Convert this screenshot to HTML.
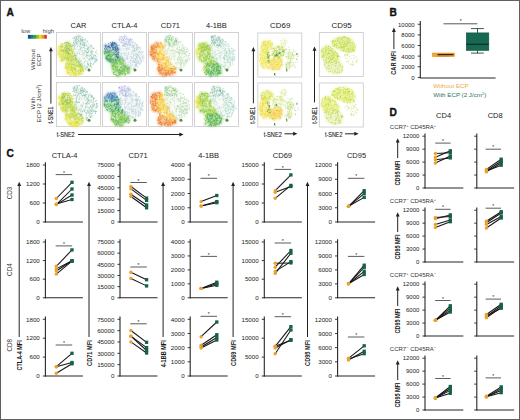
<!DOCTYPE html><html><head><meta charset="utf-8"><title>Figure</title><style>html,body{margin:0;padding:0;background:#fff;width:520px;height:420px;overflow:hidden}svg text{font-family:"Liberation Sans",sans-serif}</style></head><body><svg width="520" height="420" viewBox="0 0 520 420" style="display:block;font-family:'Liberation Sans',sans-serif"><rect x="0" y="0" width="520" height="420" fill="#fff"/>
<text x="6.60" y="15.50" font-size="10.2" text-anchor="start" font-weight="bold" fill="#111" stroke="#111" stroke-width="0.35">A</text>
<text x="389.40" y="15.50" font-size="10.2" text-anchor="start" font-weight="bold" fill="#111" stroke="#111" stroke-width="0.35">B</text>
<text x="6.50" y="157.10" font-size="10.2" text-anchor="start" font-weight="bold" fill="#111" stroke="#111" stroke-width="0.35">C</text>
<text x="389.40" y="115.90" font-size="10.2" text-anchor="start" font-weight="bold" fill="#111" stroke="#111" stroke-width="0.35">D</text>
<rect x="27.90" y="34.9" width="3.21" height="3.8" fill="#1b4a84"/>
<rect x="30.61" y="34.9" width="3.21" height="3.8" fill="#18807c"/>
<rect x="33.33" y="34.9" width="3.21" height="3.8" fill="#35a040"/>
<rect x="36.04" y="34.9" width="3.21" height="3.8" fill="#8cc030"/>
<rect x="38.76" y="34.9" width="3.21" height="3.8" fill="#f0d828"/>
<rect x="41.47" y="34.9" width="3.21" height="3.8" fill="#ec9a28"/>
<rect x="44.19" y="34.9" width="2.71" height="3.8" fill="#d0402a"/>
<text x="21.30" y="33.00" font-size="5.9" text-anchor="start" font-weight="normal" fill="#444" >low</text>
<text x="42.80" y="33.00" font-size="5.9" text-anchor="start" font-weight="normal" fill="#444" >high</text>
<text x="34.90" y="59.60" font-size="6.2" text-anchor="middle" font-weight="normal" fill="#333" transform="rotate(-90 34.90 59.60)" >Without</text>
<text x="41.50" y="59.60" font-size="6.2" text-anchor="middle" font-weight="normal" fill="#333" transform="rotate(-90 41.50 59.60)" >ECP</text>
<text x="34.90" y="103.20" font-size="6.2" text-anchor="middle" font-weight="normal" fill="#333" transform="rotate(-90 34.90 103.20)" >With</text>
<text x="41.40" y="103.50" font-size="6.0" text-anchor="middle" font-weight="normal" fill="#333" transform="rotate(-90 41.40 103.50)" >ECP (2 J/cm<tspan dy="-2" font-size="4">2</tspan><tspan dy="2">)</tspan></text>
<text x="78.40" y="28.10" font-size="7.5" text-anchor="middle" font-weight="normal" fill="#222" >CAR</text>
<text x="124.40" y="28.10" font-size="7.5" text-anchor="middle" font-weight="normal" fill="#222" >CTLA-4</text>
<text x="170.40" y="28.10" font-size="7.5" text-anchor="middle" font-weight="normal" fill="#222" >CD71</text>
<text x="216.40" y="28.10" font-size="7.5" text-anchor="middle" font-weight="normal" fill="#222" >4-1BB</text>
<text x="280.20" y="28.10" font-size="7.9" text-anchor="middle" font-weight="normal" fill="#222" >CD69</text>
<text x="341.60" y="28.10" font-size="7.9" text-anchor="middle" font-weight="normal" fill="#222" >CD95</text>
<line x1="50.90" y1="50.50" x2="50.90" y2="103.60" stroke="#222" stroke-width="1.0" />
<path d="M48.95 51.30 L50.90 47.00 L52.85 51.30 Z" fill="#222"/>
<text x="53.05" y="123.60" font-size="7.4" text-anchor="start" font-weight="normal" fill="#1a1a1a" textLength="17.1" lengthAdjust="spacingAndGlyphs" transform="rotate(-90 53.05 123.60)" stroke="#1a1a1a" stroke-width="0.12">t-SNE1</text>
<text x="56.80" y="137.20" font-size="7.4" text-anchor="start" font-weight="normal" fill="#1a1a1a" textLength="17.9" lengthAdjust="spacingAndGlyphs" stroke="#1a1a1a" stroke-width="0.12">t-SNE2</text>
<line x1="78.00" y1="134.50" x2="180.10" y2="134.50" stroke="#222" stroke-width="1.0" />
<path d="M179.30 132.55 L183.60 134.50 L179.30 136.45 Z" fill="#222"/>
<line x1="253.40" y1="50.50" x2="253.40" y2="103.30" stroke="#222" stroke-width="1.0" />
<path d="M251.45 51.30 L253.40 47.00 L255.35 51.30 Z" fill="#222"/>
<text x="255.50" y="123.80" font-size="7.4" text-anchor="start" font-weight="normal" fill="#1a1a1a" textLength="17.1" lengthAdjust="spacingAndGlyphs" transform="rotate(-90 255.50 123.80)" stroke="#1a1a1a" stroke-width="0.12">t-SNE1</text>
<text x="263.70" y="136.50" font-size="7.4" text-anchor="start" font-weight="normal" fill="#1a1a1a" textLength="18.1" lengthAdjust="spacingAndGlyphs" stroke="#1a1a1a" stroke-width="0.12">t-SNE2</text>
<line x1="284.50" y1="133.80" x2="293.90" y2="133.80" stroke="#222" stroke-width="1.0" />
<path d="M293.10 131.85 L297.40 133.80 L293.10 135.75 Z" fill="#222"/>
<line x1="314.50" y1="50.00" x2="314.50" y2="102.40" stroke="#222" stroke-width="1.0" />
<path d="M312.55 50.80 L314.50 46.50 L316.45 50.80 Z" fill="#222"/>
<text x="316.85" y="123.80" font-size="7.4" text-anchor="start" font-weight="normal" fill="#1a1a1a" textLength="17.1" lengthAdjust="spacingAndGlyphs" transform="rotate(-90 316.85 123.80)" stroke="#1a1a1a" stroke-width="0.12">t-SNE1</text>
<text x="325.00" y="136.50" font-size="7.4" text-anchor="start" font-weight="normal" fill="#1a1a1a" textLength="17.4" lengthAdjust="spacingAndGlyphs" stroke="#1a1a1a" stroke-width="0.12">t-SNE2</text>
<line x1="345.00" y1="133.80" x2="355.10" y2="133.80" stroke="#222" stroke-width="1.0" />
<path d="M354.30 131.85 L358.60 133.80 L354.30 135.75 Z" fill="#222"/>
<defs><filter id="bl" x="-20%" y="-20%" width="140%" height="140%"><feGaussianBlur stdDeviation="1.0"/></filter><filter id="bl2" x="-20%" y="-20%" width="140%" height="140%"><feGaussianBlur stdDeviation="0.5"/></filter></defs>
<g transform="translate(56.4,32.5)"><rect x="0" y="0" width="44" height="44" fill="#fff" stroke="#c8c8cc" stroke-width="0.8"/><path d="M17.0 4.5 L21.5 3.0 L27.0 5.0 L33.0 11.0 L40.0 18.0 L41.0 26.0 L37.5 32.5 L31.0 36.5 L26.0 35.0 L22.0 30.0 L18.0 22.0 L16.5 14.0Z" fill="#f2f8f3" opacity="0.6" filter="url(#bl)"/><g filter="url(#bl)" opacity="0.8"><path d="M8.4 21.0h0M13.2 17.8h0M10.3 27.3h0M15.0 21.9h0M15.4 23.1h0M12.0 13.7h0M10.9 25.0h0M15.0 25.9h0M12.5 26.3h0M14.4 23.7h0M10.1 19.6h0M9.2 25.1h0M10.2 12.6h0M12.2 26.8h0M5.5 28.2h0M11.6 21.2h0M16.2 28.2h0M17.8 23.6h0M22.2 29.8h0M20.6 30.2h0M13.4 34.8h0M12.4 37.5h0M18.0 37.2h0M15.8 32.1h0M18.7 36.9h0M22.2 31.1h0M10.2 34.0h0M11.4 31.1h0M15.2 38.7h0M18.5 33.4h0M26.7 38.0h0M19.4 42.2h0" stroke="#b5d23a" stroke-width="3.2" stroke-linecap="round" fill="none" opacity="0.55"/><path d="M4.3 20.0h0M2.8 16.4h0M3.3 18.2h0M4.7 17.6h0M2.8 18.6h0M5.3 28.1h0M11.5 40.0h0M19.0 42.9h0M15.7 40.7h0" stroke="#eee540" stroke-width="3.2" stroke-linecap="round" fill="none" opacity="0.55"/><path d="M12.1 10.5h0M12.7 21.5h0M11.1 19.7h0M10.8 10.2h0M6.7 19.2h0" stroke="#8ebe3c" stroke-width="3.2" stroke-linecap="round" fill="none" opacity="0.55"/><path d="M4.4 14.5h0M2.0 21.9h0M3.5 18.9h0M19.0 37.6h0M24.3 38.9h0M18.6 39.5h0M10.0 36.1h0M23.1 41.0h0M22.2 41.2h0" stroke="#dcdf34" stroke-width="3.2" stroke-linecap="round" fill="none" opacity="0.55"/><path d="M9.4 22.7h0M14.4 24.0h0M5.4 26.4h0M12.8 24.0h0M12.3 21.2h0M12.0 16.2h0M12.1 25.3h0M18.5 27.0h0M20.6 29.4h0M10.4 30.9h0M14.8 33.4h0M24.8 34.0h0M10.8 35.2h0M14.4 34.4h0M22.5 34.3h0M24.2 38.2h0M15.4 36.7h0M24.3 32.3h0M21.1 34.0h0M23.0 40.1h0M14.8 30.5h0M22.9 34.0h0M11.1 37.2h0M14.6 36.6h0M24.5 34.7h0" stroke="#d2dc32" stroke-width="3.2" stroke-linecap="round" fill="none" opacity="0.55"/><path d="M16.5 17.7h0M7.9 25.7h0M10.4 16.1h0M14.2 14.4h0M9.7 25.7h0M13.7 13.1h0M6.3 17.4h0M12.8 26.1h0M5.2 24.4h0M12.3 27.2h0M22.9 30.4h0M16.9 23.7h0M15.5 27.6h0M25.9 35.8h0M18.6 40.3h0M12.3 32.8h0M19.0 37.0h0M23.7 32.6h0M16.4 30.8h0" stroke="#a8cc3c" stroke-width="3.2" stroke-linecap="round" fill="none" opacity="0.55"/><path d="M10.1 18.7h0M13.3 16.3h0M5.7 13.1h0M8.8 16.1h0M11.3 20.4h0M13.6 12.2h0" stroke="#7fb640" stroke-width="3.2" stroke-linecap="round" fill="none" opacity="0.55"/><path d="M5.2 21.9h0M2.6 14.3h0M5.9 24.5h0M4.5 13.0h0M12.9 40.0h0" stroke="#e6e236" stroke-width="3.2" stroke-linecap="round" fill="none" opacity="0.55"/><path d="M15.5 13.8h0M8.9 24.5h0M10.4 22.0h0M10.9 28.4h0M4.5 18.4h0M12.4 13.3h0M16.3 20.3h0M10.9 24.7h0M19.2 28.6h0M19.4 25.6h0M18.7 27.3h0M9.9 34.0h0M24.1 36.4h0M24.5 37.9h0M16.3 39.4h0M18.2 35.2h0M13.2 30.7h0" stroke="#c5d834" stroke-width="3.2" stroke-linecap="round" fill="none" opacity="0.55"/><path d="M10.3 12.3h0M7.2 18.0h0M6.5 19.1h0" stroke="#a2c838" stroke-width="3.2" stroke-linecap="round" fill="none" opacity="0.55"/><path d="M5.6 19.3h0M3.4 20.0h0M15.5 39.7h0M12.1 40.2h0M12.3 33.7h0M11.6 40.4h0M9.0 35.0h0M19.6 39.4h0M19.0 37.5h0M11.1 41.1h0M12.5 36.2h0M25.5 41.0h0" stroke="#f2e852" stroke-width="3.2" stroke-linecap="round" fill="none" opacity="0.55"/></g><g filter="url(#bl2)"><path d="M8.4 21.0h0M5.9 11.0h0M2.6 22.4h0M2.6 14.3h0M2.7 20.7h0M4.6 13.1h0M3.4 20.0h0M4.3 18.9h0M15.5 39.7h0M19.0 40.6h0M10.4 38.5h0M11.5 40.0h0M18.6 39.5h0M14.3 43.1h0M19.7 42.3h0M12.3 32.8h0M12.0 40.2h0M13.7 42.0h0M15.7 40.7h0M9.0 35.0h0M15.0 42.5h0M15.6 36.1h0M24.1 38.0h0M14.2 42.1h0M15.9 37.9h0M18.6 37.0h0M10.6 40.7h0" stroke="#e6e236" stroke-width="1.2" stroke-linecap="round" fill="none" opacity="0.75"/><path d="M15.6 19.1h0M11.1 25.8h0M9.4 22.7h0M9.1 23.1h0M16.5 17.7h0M10.1 18.7h0M14.6 22.7h0M10.3 27.3h0M5.1 24.0h0M13.6 28.3h0M10.4 16.1h0M6.3 26.7h0M10.9 25.0h0M15.8 24.3h0M15.0 25.9h0M6.6 25.7h0M9.4 24.4h0M7.6 25.9h0M6.9 22.2h0M11.3 20.4h0M14.5 22.1h0M14.6 14.3h0M14.2 18.2h0M11.9 28.2h0M9.2 25.1h0M8.6 25.2h0M6.5 19.1h0M10.7 9.9h0M12.1 25.3h0M11.3 22.3h0M10.9 24.7h0M15.4 21.5h0M21.0 27.2h0M17.0 25.8h0M14.7 35.3h0M24.4 37.5h0M18.6 40.3h0M18.0 37.2h0M22.3 39.5h0M23.8 35.6h0M15.8 32.1h0M12.6 35.6h0M10.0 36.1h0M18.7 36.9h0M25.1 36.9h0M26.7 37.8h0M24.8 34.0h0M23.6 35.5h0M10.8 35.2h0M22.5 34.3h0M21.5 39.5h0M24.5 37.9h0M10.5 32.9h0M11.7 31.5h0M16.4 30.8h0M26.0 35.7h0M23.1 41.0h0M15.4 36.7h0M27.3 36.9h0M19.0 37.5h0M24.3 32.3h0M21.3 31.8h0M19.9 30.8h0M18.2 35.2h0" stroke="#d2dc32" stroke-width="1.2" stroke-linecap="round" fill="none" opacity="0.75"/><path d="M9.3 21.6h0M14.4 24.0h0M13.4 15.1h0M6.2 27.7h0M15.0 21.9h0M5.4 26.4h0M10.1 27.0h0M7.0 27.8h0M14.7 21.3h0M12.6 17.5h0M8.2 26.7h0M10.9 28.4h0M15.0 17.4h0M14.2 14.4h0M11.1 28.2h0M15.9 19.1h0M9.7 25.7h0M9.9 25.3h0M14.0 28.0h0M8.8 16.1h0M12.8 26.1h0M13.6 12.2h0M9.2 23.6h0M9.9 20.1h0M12.2 25.1h0M17.0 23.9h0M17.2 30.0h0M22.9 30.4h0M17.6 25.8h0M19.0 25.2h0M14.3 27.8h0M15.5 24.4h0M17.5 23.6h0M16.6 26.5h0M18.9 25.8h0M15.5 27.6h0M25.9 35.4h0M23.3 32.3h0M12.3 33.7h0M25.9 34.5h0M22.1 38.1h0M17.8 36.2h0M24.3 38.8h0M15.8 37.2h0M13.6 32.5h0M22.3 34.3h0M11.4 31.1h0M16.0 34.3h0M21.1 38.1h0M9.1 34.3h0M15.2 38.7h0M10.8 35.0h0M25.7 37.3h0M19.3 33.4h0M19.0 30.8h0M19.4 32.2h0M18.5 33.4h0M17.6 35.4h0M16.4 35.7h0M16.9 42.2h0M14.8 30.5h0M22.9 34.0h0M18.6 33.1h0M13.2 30.7h0M14.9 30.7h0M25.5 41.0h0M19.7 30.4h0M17.6 32.6h0" stroke="#b5d23a" stroke-width="1.2" stroke-linecap="round" fill="none" opacity="0.75"/><path d="M4.3 20.0h0M2.0 19.1h0M3.5 22.7h0M4.8 14.9h0M2.9 21.5h0M6.9 23.6h0M2.8 24.9h0M4.5 18.4h0M4.7 27.0h0M3.4 18.4h0M9.6 12.9h0M6.3 28.4h0M5.2 24.4h0M5.5 28.2h0M6.7 19.2h0M9.2 36.9h0M10.4 30.9h0M22.6 42.1h0M24.8 40.8h0M19.0 42.9h0M9.0 36.3h0M11.6 40.4h0M24.6 41.1h0M10.2 34.0h0M15.5 39.2h0M11.1 41.1h0M21.4 39.9h0M21.2 41.7h0" stroke="#f2e852" stroke-width="1.2" stroke-linecap="round" fill="none" opacity="0.75"/><path d="M2.9 15.8h0M8.2 26.8h0M2.8 16.4h0M3.3 14.6h0M3.3 18.2h0M4.8 15.1h0M7.9 11.7h0M4.2 24.3h0M2.0 21.9h0M8.3 27.8h0M1.7 19.2h0M3.5 18.9h0M6.4 28.2h0M5.6 19.3h0M5.5 11.6h0M4.3 13.8h0M4.5 13.0h0M12.4 37.5h0M9.9 34.0h0M11.7 41.2h0M12.2 35.3h0M11.5 39.6h0M13.3 37.7h0M11.5 35.1h0M11.1 37.2h0" stroke="#eee540" stroke-width="1.2" stroke-linecap="round" fill="none" opacity="0.75"/><path d="M12.1 10.5h0M4.4 14.5h0M14.5 17.5h0M16.2 19.5h0M15.5 13.8h0M12.8 28.0h0M7.9 25.7h0M15.4 23.1h0M6.5 23.2h0M13.8 28.3h0M14.3 26.9h0M16.5 18.8h0M11.1 18.7h0M12.0 13.7h0M12.2 20.2h0M16.0 19.6h0M11.3 20.3h0M14.4 28.0h0M16.3 20.3h0M9.7 18.0h0M7.2 18.0h0M7.7 23.6h0M12.2 26.8h0M12.8 17.9h0M15.2 26.0h0M10.7 19.9h0M12.9 25.5h0M16.3 21.2h0M19.2 28.6h0M18.5 27.0h0M15.0 28.5h0M17.7 27.7h0M20.0 26.6h0M20.6 29.4h0M20.6 30.2h0M15.7 31.4h0M25.9 35.8h0M15.6 34.8h0M16.2 35.1h0M19.0 37.6h0M20.9 33.2h0M12.9 40.3h0M16.7 31.8h0M9.5 31.3h0M14.6 37.3h0M10.3 33.5h0M22.2 31.1h0M24.3 32.7h0M19.0 37.0h0M14.6 34.1h0M22.1 33.1h0M19.3 36.1h0M16.1 38.9h0M24.2 38.2h0M21.1 34.0h0M22.5 38.0h0M14.5 35.2h0M17.6 32.2h0" stroke="#a8cc3c" stroke-width="1.2" stroke-linecap="round" fill="none" opacity="0.75"/><path d="M11.5 22.2h0M13.2 17.8h0M15.4 19.2h0M4.7 17.6h0M4.2 17.1h0M8.9 24.5h0M12.8 24.0h0M10.4 22.0h0M5.7 13.1h0M4.8 18.0h0M11.1 19.7h0M11.1 23.0h0M12.5 26.3h0M11.3 24.2h0M14.6 16.7h0M13.7 13.1h0M14.4 23.7h0M4.9 20.3h0M14.4 21.0h0M9.7 19.9h0M16.3 20.1h0M4.4 22.2h0M9.6 18.5h0M4.6 22.5h0M15.3 16.0h0M12.3 27.2h0M14.0 17.9h0M12.6 11.0h0M5.3 28.1h0M9.9 20.0h0M15.0 25.7h0M15.1 26.0h0M19.7 26.6h0M16.2 28.2h0M18.5 30.4h0M19.4 25.6h0M17.8 23.6h0M16.9 23.7h0M19.1 27.3h0M22.2 29.8h0M16.1 25.3h0M18.7 27.3h0M17.6 24.7h0M20.4 27.9h0M14.1 31.8h0M22.1 37.6h0M23.8 34.0h0M23.7 37.2h0M25.3 33.7h0M26.9 38.7h0M16.2 34.4h0M24.3 38.9h0M19.9 32.9h0M24.1 36.4h0M17.8 32.8h0M23.8 35.1h0M21.1 33.1h0M14.8 33.4h0M13.8 37.1h0M23.7 32.6h0M20.3 33.8h0M26.5 37.5h0M16.5 30.0h0M20.5 32.5h0M10.4 33.2h0M19.6 39.4h0M9.4 32.3h0M19.4 34.3h0M26.7 38.0h0M20.5 39.2h0M24.5 41.5h0M19.4 42.2h0M16.2 34.7h0M14.6 36.6h0M24.5 34.7h0" stroke="#c5d834" stroke-width="1.2" stroke-linecap="round" fill="none" opacity="0.75"/><path d="M9.6 10.8h0M6.3 14.3h0M10.9 15.3h0M12.2 19.7h0M12.4 13.3h0M10.3 13.7h0M10.8 10.2h0M10.1 19.6h0M12.1 10.9h0M11.1 17.9h0M13.2 17.9h0M11.7 16.5h0" stroke="#7fb640" stroke-width="1.2" stroke-linecap="round" fill="none" opacity="0.75"/><path d="M8.5 15.3h0M6.0 11.1h0M5.3 13.5h0M10.3 12.3h0M11.1 17.4h0M12.7 21.5h0M8.9 14.3h0M8.4 15.2h0M12.3 21.2h0M11.5 13.8h0M12.0 16.2h0M9.4 18.4h0M9.3 9.9h0M5.4 17.8h0" stroke="#8ebe3c" stroke-width="1.2" stroke-linecap="round" fill="none" opacity="0.75"/><path d="M13.7 13.2h0M13.3 16.3h0M7.2 18.8h0M10.6 15.6h0M8.3 10.8h0M12.1 21.5h0M8.5 10.1h0M8.8 13.2h0M7.3 21.2h0M9.0 10.2h0M6.3 17.4h0M10.2 12.6h0M11.6 21.2h0M9.7 17.5h0" stroke="#a2c838" stroke-width="1.2" stroke-linecap="round" fill="none" opacity="0.75"/><path d="M4.4 24.5h0M5.2 21.9h0M4.3 12.7h0M2.7 22.6h0M6.1 23.4h0M3.6 19.7h0M6.2 25.7h0M5.7 16.7h0M7.5 25.8h0M4.8 28.0h0M2.8 18.6h0M5.9 24.5h0M4.5 14.2h0M3.1 24.5h0M5.3 13.6h0M7.2 11.6h0M13.4 34.8h0M12.1 40.2h0M26.9 39.0h0M26.7 38.6h0M10.9 38.7h0M13.2 39.6h0M11.7 31.9h0M17.5 39.6h0M17.4 43.0h0M14.4 34.4h0M18.4 38.7h0M16.3 39.4h0M18.3 40.6h0M11.8 40.3h0M22.2 41.2h0M12.5 36.2h0M23.0 40.1h0M22.4 42.1h0M11.1 35.9h0M16.7 40.8h0M12.9 40.0h0M19.4 42.2h0M13.4 33.9h0M14.3 42.4h0" stroke="#dcdf34" stroke-width="1.2" stroke-linecap="round" fill="none" opacity="0.75"/><path d="M11.8 14.3h0M15.4 21.1h0M16.1 18.3h0M3.9 19.7h0M5.0 16.1h0M13.8 16.1h0M12.2 14.4h0M14.5 27.7h0M11.7 17.1h0M12.6 28.4h0M11.8 12.1h0M6.4 21.5h0M5.7 20.2h0M14.0 18.6h0M13.8 14.9h0M2.9 22.9h0M11.9 13.4h0M16.3 22.6h0M3.1 19.5h0M15.2 21.8h0M9.0 10.4h0M3.8 19.2h0M11.9 18.6h0M10.4 20.7h0M7.6 26.4h0M8.0 29.2h0M10.9 10.9h0M6.7 26.9h0M10.1 23.6h0M5.3 24.8h0M4.0 12.5h0M10.4 22.1h0M8.1 21.6h0M9.0 23.4h0M11.0 27.8h0M11.6 19.2h0M10.1 28.4h0M6.3 20.9h0M7.7 23.9h0M6.7 22.6h0M8.8 11.9h0M12.9 25.9h0M11.5 23.6h0M11.6 17.8h0M9.1 26.9h0M19.4 30.6h0M14.8 38.6h0M10.0 31.8h0M9.3 37.2h0M9.7 33.6h0M9.7 37.8h0M16.3 30.4h0M12.4 38.5h0M10.7 34.6h0M14.7 38.9h0M18.2 42.5h0M20.9 39.2h0M17.1 33.9h0M21.3 31.6h0M13.4 39.8h0M13.9 33.9h0M17.7 39.6h0M26.7 38.8h0M17.6 38.6h0M21.4 35.3h0M13.7 33.7h0M16.1 33.3h0M20.2 40.4h0M13.7 39.5h0M20.9 40.1h0M21.3 35.8h0M16.4 35.2h0M13.7 36.6h0M25.3 36.6h0M20.4 31.4h0M11.7 35.7h0M17.5 39.3h0M9.3 33.5h0M14.9 30.5h0M9.3 37.1h0M19.7 33.9h0M17.5 30.6h0M10.8 32.8h0M10.6 39.5h0M18.6 33.7h0M17.6 25.0h0M16.3 29.6h0M21.0 30.2h0M14.3 25.3h0M18.0 25.2h0M19.5 29.1h0M22.8 30.5h0M15.3 23.5h0M19.3 29.7h0M14.3 26.6h0" stroke="#ffffff" stroke-width="0.9" stroke-linecap="round" fill="none" opacity="0.5"/></g><path d="M20.3 9.6h0M20.3 11.4h0M26.7 13.3h0M20.1 6.1h0M27.2 7.3h0M26.1 8.2h0M20.0 10.5h0M26.2 7.3h0M23.2 8.8h0M22.1 7.9h0M26.6 12.8h0M31.7 17.4h0M38.7 23.2h0M36.0 26.4h0M34.5 23.2h0M38.9 29.3h0M30.3 21.9h0M36.4 19.0h0M35.3 21.8h0M31.4 20.1h0M29.8 34.5h0M31.3 35.1h0M26.4 21.9h0M23.4 13.8h0M27.8 26.0h0M17.1 10.7h0M19.6 23.2h0M34.3 32.6h0M24.7 7.8h0M28.0 13.1h0M33.7 23.0h0M26.6 15.3h0M37.2 15.9h0M18.6 11.5h0M28.1 9.8h0M23.6 17.2h0M20.4 20.8h0M20.1 4.6h0M32.4 27.1h0M33.3 26.8h0M34.2 29.5h0M27.6 14.9h0M28.1 29.6h0M39.0 23.1h0M30.3 12.7h0M25.8 12.0h0M30.1 19.5h0M35.0 19.4h0M40.3 27.0h0M35.3 20.1h0M17.6 5.1h0M26.2 7.2h0M31.2 17.2h0M29.5 10.6h0M16.8 13.1h0M23.0 20.9h0M18.1 14.7h0M23.9 32.3h0M22.1 28.4h0M18.4 22.2h0M19.2 24.9h0M24.5 4.0h0M26.3 5.0h0M22.9 3.5h0M18.8 23.1h0M34.8 12.9h0M28.5 7.1h0M40.1 28.2h0M35.0 34.1h0M19.6 26.8h0" stroke="#5e9e8a" stroke-width="0.85" stroke-linecap="round" fill="none" opacity="0.72"/><path d="M22.1 7.7h0M28.2 10.3h0M27.1 11.2h0M22.5 6.0h0M28.1 11.9h0M17.8 6.8h0M23.4 9.3h0M28.0 10.3h0M20.8 7.2h0M19.5 5.7h0M34.6 20.6h0M39.1 27.9h0M34.8 24.3h0M31.2 15.9h0M37.4 23.0h0M33.3 24.6h0M34.7 20.6h0M33.7 28.1h0M35.0 21.1h0M28.7 19.1h0M36.1 19.8h0M30.2 18.8h0M32.4 19.8h0M29.3 18.6h0M38.6 27.1h0M36.0 21.8h0M29.1 16.0h0M25.7 8.0h0M38.5 22.3h0M37.1 25.0h0M19.3 24.5h0M17.2 8.4h0M27.7 19.9h0M36.2 16.2h0M39.1 19.2h0M28.3 7.4h0M28.0 33.2h0M29.9 34.8h0M35.1 14.3h0M34.3 18.5h0M36.1 25.7h0M21.2 7.0h0M24.3 4.2h0M26.8 14.8h0M30.7 33.1h0M35.6 25.4h0M30.5 29.4h0M23.3 29.1h0M31.0 25.3h0M20.5 10.7h0M25.1 11.1h0M35.5 17.6h0M25.6 18.2h0M25.9 8.9h0M19.5 13.1h0M23.5 12.8h0M31.1 30.5h0M18.2 11.2h0M29.9 16.4h0M30.7 20.6h0M36.6 31.7h0M34.5 13.3h0M38.0 29.0h0M23.2 5.7h0M32.3 23.3h0M34.4 31.2h0M37.1 31.4h0M27.8 9.9h0M27.6 25.8h0M31.4 30.1h0M32.9 11.7h0M34.7 13.9h0M32.0 35.8h0M30.6 8.6h0M25.3 33.1h0M20.2 27.5h0M29.4 36.9h0M29.5 36.0h0M16.6 12.2h0M20.4 3.5h0M24.1 33.2h0M29.3 35.9h0M19.7 25.7h0M39.9 29.3h0M40.1 27.0h0M25.5 33.0h0" stroke="#9fd0bb" stroke-width="0.85" stroke-linecap="round" fill="none" opacity="0.72"/><path d="M26.0 11.3h0M24.1 11.3h0M26.0 10.2h0M21.9 12.6h0M25.7 7.3h0M22.2 5.4h0M20.0 11.0h0M24.9 13.2h0M33.5 21.9h0M38.0 30.2h0M32.1 16.0h0M29.4 19.6h0M40.2 24.5h0M38.8 24.0h0M35.2 31.0h0M38.3 27.4h0M37.1 23.6h0M33.1 24.3h0M26.0 18.9h0M35.7 26.4h0M21.4 21.6h0M24.5 12.2h0M40.8 24.4h0M34.2 31.7h0M21.0 27.5h0M33.3 21.4h0M26.9 23.2h0M23.7 15.3h0M31.6 13.7h0M25.4 15.4h0M31.5 28.8h0M31.4 32.4h0M32.2 11.4h0M23.9 15.7h0M26.6 20.3h0M24.1 17.7h0M28.1 7.3h0M17.3 5.7h0M24.1 7.6h0M18.5 9.3h0M27.3 31.1h0M26.8 34.6h0M22.1 5.1h0M23.8 6.8h0M34.3 25.6h0M28.1 15.6h0M33.9 27.5h0M24.7 16.7h0M32.7 13.9h0M36.6 22.0h0M37.0 31.1h0M32.8 26.2h0M34.2 29.9h0M37.8 23.4h0M34.4 23.6h0M25.2 14.4h0M38.8 25.4h0M31.0 31.6h0M31.1 32.0h0M40.2 20.1h0M25.9 5.3h0M24.5 3.5h0M15.8 12.6h0M22.8 3.5h0M18.1 4.5h0M40.8 26.3h0M39.3 30.1h0M23.1 32.3h0M20.8 25.1h0M26.0 35.4h0M29.6 36.9h0M18.1 23.8h0M21.3 2.6h0M21.0 3.4h0M20.7 29.3h0M40.1 28.2h0M29.3 36.6h0M21.5 27.6h0" stroke="#b5dccb" stroke-width="0.85" stroke-linecap="round" fill="none" opacity="0.72"/><path d="M24.6 5.9h0M28.8 12.7h0M21.4 4.0h0M20.6 5.9h0M24.2 11.2h0M22.4 4.7h0M18.1 8.5h0M22.5 4.3h0M19.2 9.7h0M27.1 10.0h0M17.8 5.8h0M24.7 7.5h0M21.2 12.1h0M27.9 12.4h0M21.6 9.4h0M24.4 7.1h0M35.6 25.1h0M39.3 26.6h0M35.4 25.9h0M36.1 25.7h0M31.3 20.3h0M30.4 20.0h0M21.2 14.2h0M30.9 16.1h0M33.8 15.5h0M33.8 33.4h0M18.9 4.2h0M18.1 20.8h0M30.1 22.5h0M37.6 25.7h0M35.5 24.2h0M28.2 11.8h0M19.7 23.3h0M34.2 33.3h0M28.9 7.7h0M32.4 15.5h0M32.4 14.8h0M32.1 32.9h0M32.3 18.8h0M19.1 7.6h0M25.8 8.3h0M22.9 30.2h0M17.8 12.9h0M27.8 20.9h0M27.4 12.2h0M28.1 17.6h0M18.7 10.0h0M22.5 10.6h0M32.1 31.9h0M31.5 15.2h0M18.9 13.2h0M35.4 26.5h0M21.1 29.0h0M25.4 33.4h0M30.8 8.5h0M23.2 32.2h0M17.4 9.7h0M41.2 27.6h0M37.7 15.7h0M41.3 21.5h0M36.7 31.6h0M22.0 2.6h0" stroke="#6aae95" stroke-width="0.85" stroke-linecap="round" fill="none" opacity="0.72"/><path d="M25.1 5.9h0M23.8 10.5h0M25.3 8.9h0M24.4 9.9h0M19.9 6.8h0M24.0 7.8h0M21.7 8.7h0M20.4 10.7h0M24.2 12.1h0M23.9 8.3h0M19.4 7.5h0M26.6 10.2h0M24.2 10.6h0M28.1 11.8h0M20.7 9.0h0M36.8 23.8h0M38.1 25.7h0M31.9 18.7h0M36.7 26.9h0M30.6 23.2h0M31.1 22.9h0M29.4 28.1h0M32.5 31.3h0M28.9 18.2h0M34.2 31.3h0M34.4 31.5h0M39.5 26.6h0M29.2 23.6h0M32.5 17.9h0M17.5 12.5h0M31.4 9.4h0M24.3 16.3h0M30.5 25.6h0M31.2 20.1h0M20.2 8.0h0M35.2 17.9h0M30.0 13.6h0M19.4 6.2h0M25.1 31.4h0M24.2 6.4h0M19.4 7.8h0M34.0 26.1h0M26.6 20.4h0M21.6 7.0h0M24.5 22.0h0M20.1 4.5h0M24.3 15.4h0M31.0 31.1h0M24.2 28.8h0M34.6 13.1h0M34.4 14.4h0M17.7 16.8h0M31.6 23.0h0M31.1 34.5h0M17.5 10.9h0M22.4 29.3h0M23.1 20.6h0M34.4 19.3h0M33.5 33.6h0M27.8 33.1h0M23.2 26.1h0M36.2 14.4h0M30.4 23.9h0M16.3 13.2h0M18.4 22.5h0M28.4 35.3h0M38.6 29.3h0M18.9 4.4h0M34.7 35.2h0M39.4 20.1h0M28.8 6.3h0M16.5 5.8h0M40.3 18.0h0" stroke="#7fbfa5" stroke-width="0.85" stroke-linecap="round" fill="none" opacity="0.72"/><path d="M20.6 20.9h0M19.7 15.8h0M18.8 16.8h0M24.6 31.3h0M21.9 16.9h0M24.5 14.8h0" stroke="#9ccfb6" stroke-width="0.85" stroke-linecap="round" fill="none" opacity="0.72"/><path d="M23.7 28.1h0M26.1 31.6h0M17.6 16.4h0M23.0 28.8h0M21.3 20.9h0M27.7 18.7h0M26.9 34.6h0M24.7 19.5h0M24.9 28.2h0M28.2 14.3h0M23.5 30.3h0" stroke="#a9d8c0" stroke-width="0.85" stroke-linecap="round" fill="none" opacity="0.72"/><path d="M27.5 31.7h0M27.8 30.6h0M28.7 24.6h0M27.6 23.1h0M26.0 15.0h0M28.1 28.0h0M27.5 25.6h0M25.5 24.4h0M28.5 20.6h0" stroke="#d4ece0" stroke-width="0.85" stroke-linecap="round" fill="none" opacity="0.72"/><path d="M25.5 26.2h0M22.2 19.1h0M24.2 27.8h0M17.4 16.9h0M26.3 19.1h0M27.4 23.3h0M26.8 26.3h0M23.3 27.4h0M27.9 21.9h0M21.5 18.5h0M22.8 25.6h0M25.3 17.9h0M28.8 29.5h0M22.0 27.6h0M22.5 18.4h0" stroke="#bfe2cf" stroke-width="0.85" stroke-linecap="round" fill="none" opacity="0.72"/><circle cx="32.6" cy="37.6" r="1.5" fill="#5e8a3c" filter="url(#bl2)"/></g>
<g transform="translate(56.4,82.6)"><rect x="0" y="0" width="44" height="44" fill="#fff" stroke="#c8c8cc" stroke-width="0.8"/><path d="M17.0 4.5 L21.5 3.0 L27.0 5.0 L33.0 11.0 L40.0 18.0 L41.0 26.0 L37.5 32.5 L31.0 36.5 L26.0 35.0 L22.0 30.0 L18.0 22.0 L16.5 14.0Z" fill="#f2f8f3" opacity="0.6" filter="url(#bl)"/><g filter="url(#bl)" opacity="0.8"><path d="M2.8 14.1h0M5.8 13.8h0M5.6 21.5h0M19.9 40.5h0M18.3 36.8h0M15.2 35.0h0M19.6 39.2h0M10.5 36.6h0M13.4 39.7h0M18.0 42.0h0" stroke="#e6e236" stroke-width="3.2" stroke-linecap="round" fill="none" opacity="0.55"/><path d="M11.9 14.9h0M11.6 21.6h0M9.7 23.4h0M8.5 27.6h0M15.5 15.5h0M19.1 25.9h0M15.9 27.3h0M20.0 26.6h0M14.6 24.7h0M18.1 34.2h0M24.3 35.9h0M11.1 34.2h0M22.8 36.6h0M22.5 40.6h0M9.7 32.6h0M22.1 36.1h0M25.4 35.9h0" stroke="#d2dc32" stroke-width="3.2" stroke-linecap="round" fill="none" opacity="0.55"/><path d="M7.7 11.0h0M10.5 11.0h0M5.5 13.2h0M5.1 26.7h0M3.3 20.7h0M15.3 42.6h0M9.9 35.1h0M12.3 40.1h0M16.3 40.2h0M23.1 41.7h0M18.2 41.1h0M19.5 42.9h0M18.3 41.7h0M21.0 39.2h0" stroke="#f2e852" stroke-width="3.2" stroke-linecap="round" fill="none" opacity="0.55"/><path d="M13.6 15.7h0M6.9 28.0h0M10.2 17.8h0M11.9 25.0h0M9.1 27.4h0M14.7 17.5h0M14.4 24.7h0M13.0 21.1h0M11.4 22.1h0M8.6 13.1h0M15.7 26.8h0M14.9 28.3h0M16.2 25.7h0M17.9 23.0h0M18.7 33.1h0M17.8 38.6h0M16.4 31.3h0M19.7 37.7h0M22.8 38.7h0M19.9 34.6h0M17.2 35.2h0M20.8 32.6h0" stroke="#a8cc3c" stroke-width="3.2" stroke-linecap="round" fill="none" opacity="0.55"/><path d="M9.5 24.2h0M5.8 26.1h0M11.9 25.8h0M6.6 24.7h0M7.5 22.7h0M12.0 12.8h0M11.2 25.5h0M13.7 22.4h0M4.3 15.7h0M8.8 27.2h0M15.9 19.9h0M14.3 27.3h0M17.6 28.0h0M24.3 32.0h0M21.2 31.0h0M18.8 38.0h0M15.9 32.2h0M21.7 37.1h0M21.1 30.9h0M19.9 38.7h0M21.0 39.9h0" stroke="#c5d834" stroke-width="3.2" stroke-linecap="round" fill="none" opacity="0.55"/><path d="M9.0 21.9h0M6.9 21.3h0M13.9 19.1h0M10.0 27.8h0M15.9 20.2h0M14.5 16.4h0M14.9 24.1h0M7.1 23.9h0M8.4 23.7h0M17.3 28.2h0M17.5 25.3h0M9.9 32.3h0M13.1 32.7h0M18.7 30.6h0M16.5 30.6h0M14.6 31.9h0M18.8 30.2h0" stroke="#b5d23a" stroke-width="3.2" stroke-linecap="round" fill="none" opacity="0.55"/><path d="M3.6 21.0h0M7.6 11.4h0M5.6 17.4h0M9.1 29.1h0M4.8 19.3h0M13.7 41.5h0M25.2 38.8h0M18.6 41.3h0M13.1 36.3h0M17.8 39.0h0M15.1 40.8h0M19.1 43.3h0M11.1 37.2h0" stroke="#dcdf34" stroke-width="3.2" stroke-linecap="round" fill="none" opacity="0.55"/><path d="M4.1 20.8h0M5.9 25.7h0M3.6 15.1h0M2.4 15.4h0M9.3 36.5h0M14.4 42.9h0M21.1 43.2h0M20.3 39.8h0M9.4 36.9h0M16.4 40.3h0" stroke="#eee540" stroke-width="3.2" stroke-linecap="round" fill="none" opacity="0.55"/><path d="M8.8 19.0h0M11.3 20.3h0M6.4 14.5h0M8.2 12.4h0M6.1 19.0h0M6.1 16.1h0M9.0 17.2h0" stroke="#a2c838" stroke-width="3.2" stroke-linecap="round" fill="none" opacity="0.55"/><path d="M6.7 14.3h0M7.2 16.3h0M7.3 12.1h0" stroke="#8ebe3c" stroke-width="3.2" stroke-linecap="round" fill="none" opacity="0.55"/><path d="M6.1 14.6h0M11.1 17.3h0M6.2 15.4h0M6.6 20.1h0M8.7 11.8h0M8.5 11.2h0M10.0 21.2h0M6.2 21.0h0" stroke="#7fb640" stroke-width="3.2" stroke-linecap="round" fill="none" opacity="0.55"/></g><g filter="url(#bl2)"><path d="M2.8 14.1h0M3.6 21.0h0M5.8 26.1h0M7.5 22.7h0M3.2 15.7h0M6.2 15.4h0M9.3 24.8h0M4.7 18.9h0M9.8 29.8h0M5.5 19.4h0M4.8 19.3h0M17.3 34.8h0M16.1 34.3h0M9.3 36.5h0M18.6 41.3h0M10.8 39.4h0M26.0 39.8h0M16.8 40.8h0M17.1 42.6h0M19.7 37.7h0M26.8 39.7h0M15.1 40.8h0M10.4 39.6h0M19.1 43.3h0M20.3 39.8h0M10.4 35.2h0M11.1 37.2h0M18.0 42.0h0M23.9 41.2h0M9.5 32.9h0" stroke="#f2e852" stroke-width="1.2" stroke-linecap="round" fill="none" opacity="0.75"/><path d="M11.0 14.8h0M13.3 16.3h0M9.8 20.2h0M10.6 11.2h0M13.9 19.1h0M8.8 19.0h0M10.5 11.0h0M10.4 17.9h0M11.5 20.6h0M11.6 21.6h0M6.1 14.6h0M11.1 17.3h0M5.8 11.3h0M7.8 13.3h0M6.1 19.0h0M11.1 16.9h0M8.2 14.0h0M10.3 18.4h0M6.2 21.0h0M8.6 13.1h0M7.0 15.6h0" stroke="#7fb640" stroke-width="1.2" stroke-linecap="round" fill="none" opacity="0.75"/><path d="M15.6 24.6h0M7.7 11.0h0M10.4 27.6h0M11.2 21.4h0M5.9 22.6h0M7.2 16.3h0M9.0 25.8h0M11.2 25.5h0M14.1 24.2h0M14.4 22.3h0M14.9 24.1h0M14.1 19.6h0M12.3 24.7h0M7.3 25.0h0M14.4 24.1h0M8.7 11.8h0M4.3 24.9h0M14.5 18.7h0M15.5 15.5h0M15.7 23.2h0M15.9 19.9h0M7.3 22.5h0M10.9 25.2h0M11.1 24.6h0M11.1 25.4h0M14.8 21.8h0M15.6 22.5h0M14.3 27.3h0M14.1 26.9h0M19.1 25.9h0M15.2 27.1h0M15.9 27.3h0M18.3 23.7h0M18.1 23.5h0M17.5 25.3h0M14.7 29.1h0M14.6 24.7h0M12.9 34.8h0M18.1 34.2h0M19.9 40.5h0M14.5 33.6h0M17.4 32.7h0M18.3 36.8h0M13.3 33.8h0M24.8 41.3h0M20.9 35.5h0M13.1 36.3h0M16.3 30.8h0M18.7 30.6h0M16.3 40.2h0M24.3 35.9h0M12.2 34.3h0M14.4 34.1h0M20.3 33.2h0M23.7 33.4h0M20.8 39.4h0M14.8 35.3h0M9.7 32.6h0M17.1 30.9h0M12.1 33.2h0M14.0 30.5h0M25.8 39.3h0M17.6 33.8h0M21.8 38.2h0M22.2 41.0h0M18.8 30.2h0M25.4 35.9h0M10.7 31.3h0M20.8 32.6h0" stroke="#b5d23a" stroke-width="1.2" stroke-linecap="round" fill="none" opacity="0.75"/><path d="M11.9 14.9h0M9.5 24.2h0M13.1 18.4h0M4.9 25.3h0M5.9 25.7h0M15.4 20.4h0M11.9 25.8h0M15.9 16.7h0M13.1 14.2h0M8.8 17.3h0M14.8 17.1h0M14.8 20.2h0M10.2 17.8h0M15.8 16.1h0M15.6 23.3h0M9.7 23.4h0M6.4 14.5h0M13.7 22.4h0M11.0 29.5h0M12.7 23.2h0M12.0 10.8h0M5.4 25.3h0M14.7 17.5h0M14.4 24.7h0M8.2 19.7h0M15.7 23.1h0M15.9 20.3h0M15.3 15.7h0M18.0 25.2h0M16.9 24.2h0M17.3 28.0h0M17.3 30.6h0M13.8 27.4h0M17.6 28.0h0M18.1 30.2h0M16.5 28.3h0M17.9 23.0h0M18.0 29.6h0M20.5 33.4h0M18.2 34.0h0M18.5 40.3h0M13.9 30.9h0M22.8 37.1h0M18.4 39.4h0M19.6 31.4h0M15.2 35.0h0M15.9 32.2h0M16.5 30.6h0M20.2 34.4h0M21.6 33.9h0M21.5 34.1h0M20.7 39.7h0M25.5 35.4h0M25.8 36.6h0M15.5 30.9h0M18.6 33.0h0M19.9 34.6h0M25.1 33.1h0M17.3 30.4h0M17.2 35.2h0M19.3 34.3h0" stroke="#d2dc32" stroke-width="1.2" stroke-linecap="round" fill="none" opacity="0.75"/><path d="M5.5 17.9h0M4.1 20.8h0M1.8 19.9h0M3.8 18.5h0M6.6 24.7h0M3.6 21.8h0M3.9 23.1h0M5.5 13.2h0M8.4 13.0h0M8.5 10.2h0M9.4 23.6h0M12.0 10.3h0M3.6 15.1h0M7.5 28.8h0M3.3 20.7h0M4.3 15.7h0M7.3 16.2h0M2.4 15.4h0M3.0 22.2h0M10.0 37.7h0M12.1 40.8h0M15.3 42.6h0M13.7 41.5h0M19.9 42.1h0M14.4 42.9h0M9.9 35.1h0M9.9 32.3h0M12.3 40.1h0M9.3 34.6h0M12.9 41.5h0M14.8 38.2h0M21.1 43.2h0M22.5 40.6h0M18.2 41.1h0M17.8 39.0h0M19.6 39.2h0M16.1 43.2h0M20.0 42.7h0M11.8 40.5h0M13.4 40.0h0M23.4 36.9h0M21.0 39.9h0M16.6 41.9h0M10.4 31.1h0" stroke="#e6e236" stroke-width="1.2" stroke-linecap="round" fill="none" opacity="0.75"/><path d="M14.3 26.8h0M9.0 21.9h0M15.3 17.7h0M14.2 17.1h0M6.9 28.0h0M15.9 20.2h0M6.7 14.3h0M8.5 23.9h0M12.9 24.1h0M5.9 25.6h0M15.6 13.8h0M14.5 16.4h0M12.8 23.0h0M11.5 20.4h0M8.4 23.4h0M8.4 23.7h0M13.5 15.5h0M6.3 28.2h0M14.7 13.1h0M12.0 23.9h0M8.9 26.6h0M14.8 25.3h0M8.8 27.2h0M15.6 23.3h0M9.6 26.9h0M9.0 17.2h0M17.7 24.9h0M14.9 28.3h0M16.2 25.5h0M15.2 28.7h0M18.7 33.1h0M18.9 35.9h0M25.2 38.8h0M9.9 31.6h0M21.2 31.0h0M26.1 37.7h0M13.1 32.7h0M18.2 33.1h0M20.3 32.8h0M16.4 31.3h0M20.6 37.0h0M22.8 36.6h0M23.1 41.7h0M15.1 40.8h0M11.4 30.5h0M25.8 41.2h0M15.5 33.3h0M26.5 37.4h0M15.8 33.3h0M24.8 34.3h0M19.9 38.7h0M27.2 35.8h0M20.6 31.5h0" stroke="#c5d834" stroke-width="1.2" stroke-linecap="round" fill="none" opacity="0.75"/><path d="M4.8 16.8h0M7.1 24.2h0M5.8 13.8h0M8.4 25.2h0M2.6 21.2h0M3.1 19.7h0M3.9 18.5h0M8.5 26.9h0M6.3 24.9h0M6.7 19.1h0M12.2 12.7h0M2.8 22.2h0M9.1 27.4h0M6.3 28.0h0M7.2 14.2h0M4.4 18.5h0M4.7 26.9h0M17.6 42.8h0M11.8 32.8h0M14.1 39.1h0M20.1 41.8h0M11.7 39.1h0M12.8 41.6h0M21.5 40.2h0M17.0 41.7h0M13.7 40.4h0M13.7 37.8h0M23.6 40.9h0M21.0 39.2h0M15.6 43.1h0M9.4 36.9h0M18.1 43.3h0M16.4 40.3h0" stroke="#dcdf34" stroke-width="1.2" stroke-linecap="round" fill="none" opacity="0.75"/><path d="M13.6 15.7h0M14.2 18.9h0M14.4 24.9h0M9.1 18.1h0M10.0 27.8h0M11.9 20.1h0M13.8 18.4h0M11.0 29.0h0M11.7 28.6h0M12.9 13.5h0M14.1 12.5h0M10.3 24.8h0M11.9 25.0h0M15.6 19.5h0M15.9 18.9h0M7.4 25.5h0M14.9 21.4h0M5.1 26.7h0M8.5 27.6h0M9.1 29.1h0M10.1 22.4h0M13.0 21.1h0M14.4 22.8h0M11.4 22.1h0M17.3 28.2h0M19.4 25.0h0M15.7 26.8h0M18.1 28.4h0M15.3 27.0h0M16.4 28.0h0M20.0 26.6h0M16.2 25.7h0M18.3 26.9h0M18.0 29.0h0M24.3 32.0h0M20.5 30.7h0M11.7 32.2h0M20.2 34.9h0M24.8 37.3h0M12.7 31.3h0M26.8 37.8h0M22.9 37.0h0M14.0 32.2h0M26.8 38.3h0M19.8 32.5h0M14.6 31.9h0M17.0 35.0h0M22.9 34.2h0M22.1 36.1h0M21.1 30.9h0M18.7 32.1h0M20.0 32.5h0M20.8 40.2h0M14.3 36.3h0" stroke="#a8cc3c" stroke-width="1.2" stroke-linecap="round" fill="none" opacity="0.75"/><path d="M6.9 21.3h0M13.2 19.7h0M13.5 11.1h0M11.5 12.8h0M11.3 20.3h0M13.0 10.9h0M9.9 18.1h0M5.6 17.4h0M12.0 12.8h0M6.4 10.8h0M5.1 18.2h0M5.5 18.5h0M6.6 20.1h0M14.0 21.3h0M8.2 12.4h0M9.0 18.6h0" stroke="#8ebe3c" stroke-width="1.2" stroke-linecap="round" fill="none" opacity="0.75"/><path d="M6.1 24.5h0M4.3 20.2h0M2.5 21.3h0M4.5 18.4h0M7.6 11.4h0M7.1 23.9h0M8.2 12.8h0M8.5 11.2h0M5.4 12.1h0M18.1 39.7h0M21.7 42.5h0M9.5 35.0h0M18.8 38.0h0M10.3 34.2h0M21.7 41.8h0M25.6 37.0h0M17.2 41.5h0M17.8 38.6h0M13.5 39.7h0M11.1 34.2h0M21.7 37.1h0M15.7 34.8h0M13.0 41.2h0M10.4 33.9h0M19.5 42.9h0M10.5 36.6h0M18.3 41.7h0M25.9 39.1h0M13.4 39.7h0M11.9 35.0h0M22.8 38.7h0" stroke="#eee540" stroke-width="1.2" stroke-linecap="round" fill="none" opacity="0.75"/><path d="M8.7 18.8h0M8.7 19.9h0M5.6 14.3h0M5.6 21.5h0M7.1 14.6h0M5.2 20.4h0M12.1 17.2h0M13.7 17.6h0M7.3 12.1h0M13.8 17.6h0M10.0 21.2h0M6.1 16.1h0M10.5 17.6h0" stroke="#a2c838" stroke-width="1.2" stroke-linecap="round" fill="none" opacity="0.75"/><path d="M8.3 26.0h0M8.7 28.9h0M15.7 17.1h0M9.7 18.4h0M7.6 17.1h0M6.4 23.2h0M11.7 22.3h0M9.5 23.3h0M1.6 19.4h0M12.1 24.5h0M14.0 14.2h0M11.0 26.3h0M4.5 13.4h0M4.8 20.5h0M15.2 16.7h0M13.4 27.2h0M7.6 23.1h0M10.9 29.5h0M12.0 16.9h0M4.2 20.1h0M14.7 20.5h0M9.7 14.1h0M3.8 14.5h0M6.2 19.2h0M15.9 15.1h0M5.0 24.7h0M15.9 14.4h0M6.1 18.1h0M9.9 14.6h0M5.1 26.0h0M8.9 21.1h0M11.5 24.7h0M3.2 24.7h0M5.4 12.2h0M3.8 14.4h0M13.9 25.6h0M9.2 20.8h0M12.9 21.7h0M2.7 19.0h0M4.6 19.2h0M6.4 21.5h0M11.6 15.8h0M7.5 19.8h0M15.1 21.0h0M15.5 17.6h0M13.0 38.7h0M15.0 36.9h0M27.2 37.5h0M21.3 37.5h0M15.9 30.1h0M16.8 35.5h0M12.7 35.7h0M18.5 33.7h0M19.0 37.9h0M16.1 40.9h0M17.3 42.4h0M23.1 39.3h0M11.8 39.4h0M9.6 33.7h0M25.4 39.2h0M21.2 37.2h0M22.5 37.3h0M23.7 31.9h0M17.6 38.4h0M10.1 37.5h0M22.5 39.6h0M20.7 38.0h0M17.7 35.8h0M20.1 34.4h0M23.7 37.3h0M16.9 36.9h0M22.1 41.3h0M24.0 39.5h0M11.1 31.0h0M18.3 30.9h0M17.7 40.2h0M17.0 41.8h0M15.5 36.4h0M13.8 31.6h0M19.6 31.5h0M11.6 33.8h0M12.9 33.1h0M26.9 37.8h0M21.1 33.2h0M20.9 33.0h0M18.0 24.0h0M16.6 22.7h0M19.2 25.4h0M21.3 28.7h0M15.1 24.1h0M15.1 29.1h0M19.8 30.8h0M18.4 25.4h0M14.7 22.9h0M15.4 26.3h0" stroke="#ffffff" stroke-width="0.9" stroke-linecap="round" fill="none" opacity="0.5"/></g><path d="M20.2 7.7h0M18.4 6.8h0M20.0 9.5h0M21.4 13.1h0M25.7 13.3h0M25.6 9.5h0M25.2 11.4h0M26.9 12.4h0M28.0 13.0h0M23.7 10.6h0M28.6 13.4h0M28.8 13.3h0M17.6 5.4h0M24.2 9.2h0M28.8 11.9h0M26.5 6.8h0M35.9 26.6h0M38.0 23.0h0M31.7 29.1h0M32.2 17.5h0M36.1 23.4h0M32.4 18.6h0M29.1 24.5h0M30.8 16.5h0M40.0 24.9h0M29.1 25.3h0M31.9 30.3h0M24.8 33.3h0M19.8 8.4h0M25.5 8.2h0M25.3 31.8h0M20.4 7.2h0M24.3 7.3h0M34.9 28.5h0M32.2 12.7h0M32.1 14.2h0M21.8 7.4h0M34.9 17.8h0M24.8 8.3h0M30.2 30.7h0M19.9 19.5h0M26.1 28.8h0M31.6 21.0h0M35.8 14.2h0M20.8 9.9h0M20.7 14.6h0M27.1 20.5h0M33.2 32.4h0M34.7 31.1h0M29.1 12.5h0M29.5 35.4h0M39.7 17.8h0M28.1 6.6h0M19.6 4.3h0M30.9 9.6h0M25.9 23.8h0M29.7 21.0h0M19.1 12.8h0M21.7 19.5h0M32.6 27.5h0M34.7 13.0h0M40.7 24.5h0M18.2 3.8h0M37.0 15.6h0M24.7 32.4h0M38.9 28.9h0M25.8 4.9h0M30.1 37.3h0M22.7 31.3h0M40.0 21.7h0M40.0 28.8h0M36.6 14.7h0M34.1 34.8h0M20.7 3.2h0M22.7 3.2h0M41.0 23.3h0M16.5 9.0h0M16.4 5.5h0" stroke="#5e9e8a" stroke-width="0.85" stroke-linecap="round" fill="none" opacity="0.72"/><path d="M17.9 9.6h0M19.7 6.8h0M23.1 8.8h0M24.0 10.9h0M22.3 8.6h0M22.5 11.3h0M20.7 6.4h0M26.9 10.6h0M26.6 12.7h0M19.4 7.7h0M28.0 12.1h0M18.6 5.5h0M21.5 6.2h0M19.7 10.0h0M24.1 9.2h0M23.2 10.2h0M21.2 9.8h0M18.6 5.9h0M27.6 11.1h0M23.1 11.7h0M30.8 29.7h0M32.6 29.7h0M30.3 19.6h0M29.3 27.9h0M38.3 29.2h0M32.5 25.6h0M31.8 16.3h0M37.0 18.8h0M30.6 25.1h0M39.0 27.1h0M33.6 26.8h0M32.6 25.3h0M31.7 27.3h0M37.0 27.7h0M34.8 24.2h0M23.5 26.1h0M29.8 21.0h0M24.0 28.8h0M16.7 13.1h0M25.8 21.5h0M29.6 8.3h0M25.3 29.7h0M26.0 24.8h0M22.3 11.6h0M31.9 24.6h0M36.0 15.2h0M34.7 34.1h0M24.8 31.1h0M37.3 22.6h0M31.1 28.2h0M32.1 14.8h0M29.4 23.9h0M31.0 35.0h0M24.4 8.4h0M24.2 11.1h0M30.7 27.1h0M37.4 18.1h0M35.0 14.6h0M32.7 20.0h0M29.5 28.8h0M27.6 26.7h0M33.8 18.8h0M37.6 23.6h0M35.0 19.6h0M39.3 28.0h0M24.9 33.1h0M25.9 22.8h0M22.8 17.0h0M22.1 12.1h0M23.6 15.0h0M39.5 18.9h0M33.2 14.4h0M23.9 7.8h0M28.6 9.8h0M30.6 35.5h0M34.1 14.7h0M29.2 14.7h0M18.0 20.5h0M22.9 31.5h0M34.8 12.5h0M21.4 3.9h0M35.7 13.3h0M35.0 33.3h0M35.8 12.9h0M25.0 4.1h0M27.2 36.0h0M30.8 8.4h0M26.6 34.3h0M34.3 11.8h0M17.4 12.5h0" stroke="#b5dccb" stroke-width="0.85" stroke-linecap="round" fill="none" opacity="0.72"/><path d="M20.8 5.5h0M17.6 6.7h0M25.7 8.0h0M24.5 9.8h0M27.8 13.3h0M21.5 11.8h0M22.2 10.9h0M29.0 10.2h0M26.1 10.0h0M34.0 23.4h0M33.6 24.9h0M35.3 24.6h0M33.7 30.5h0M37.7 22.2h0M31.2 16.8h0M33.5 17.1h0M31.1 28.2h0M34.9 25.6h0M31.2 19.0h0M36.0 27.6h0M34.4 28.1h0M18.8 21.1h0M37.1 16.7h0M19.3 8.1h0M35.1 28.8h0M36.2 29.5h0M22.6 10.3h0M18.8 5.6h0M37.6 21.2h0M29.3 21.7h0M18.7 8.2h0M18.0 12.8h0M30.4 9.3h0M40.4 23.4h0M20.2 18.1h0M34.3 30.6h0M30.5 9.1h0M33.4 32.6h0M32.0 17.2h0M32.9 21.1h0M33.4 29.4h0M29.0 17.6h0M30.0 32.7h0M33.4 34.5h0M27.7 9.1h0M35.5 30.9h0M33.5 12.4h0M25.8 29.0h0M18.2 4.7h0M29.9 16.7h0M34.2 28.3h0M30.6 22.3h0M23.9 32.3h0M28.9 30.1h0M17.4 15.8h0M29.2 7.5h0M18.7 19.0h0M39.5 18.5h0M21.9 30.6h0M27.6 6.4h0M26.0 34.8h0M20.4 27.1h0M31.9 36.9h0M17.0 8.7h0M31.1 36.0h0M38.3 15.8h0M34.9 34.8h0M37.2 15.6h0M17.5 6.2h0" stroke="#7fbfa5" stroke-width="0.85" stroke-linecap="round" fill="none" opacity="0.72"/><path d="M21.8 6.4h0M27.1 9.2h0M23.3 13.5h0M26.4 8.3h0M20.0 5.9h0M27.4 8.0h0M25.9 6.1h0M36.5 27.8h0M34.5 31.1h0M33.0 17.9h0M37.2 22.1h0M34.4 19.2h0M33.6 29.0h0M39.9 23.3h0M32.2 30.0h0M37.5 19.3h0M38.9 29.6h0M35.6 14.1h0M22.2 19.2h0M31.0 23.8h0M26.2 7.6h0M23.2 19.0h0M26.4 9.7h0M29.6 20.8h0M30.0 14.4h0M32.0 33.2h0M25.9 5.7h0M18.2 8.3h0M39.2 28.9h0M29.7 9.7h0M36.1 19.8h0M34.2 13.2h0M20.3 11.9h0M36.8 17.4h0M31.6 15.1h0M36.7 32.5h0M21.2 20.2h0M30.4 15.1h0M18.4 6.3h0M23.0 26.8h0M30.4 22.3h0M38.2 28.8h0M36.9 17.9h0M21.5 28.2h0M20.7 4.7h0M33.7 19.4h0M31.9 18.2h0M31.8 30.6h0M28.4 27.0h0M25.4 32.1h0M31.6 28.6h0M26.6 22.7h0M29.4 12.0h0M19.6 19.2h0M18.8 22.2h0M33.6 11.2h0M24.0 32.5h0M17.0 5.6h0M36.5 34.1h0M20.7 3.2h0M23.6 31.5h0M17.4 12.2h0M40.9 23.1h0M20.0 2.9h0M31.2 9.0h0M17.5 7.8h0M35.4 13.7h0" stroke="#9fd0bb" stroke-width="0.85" stroke-linecap="round" fill="none" opacity="0.72"/><path d="M27.8 8.5h0M23.8 6.0h0M21.0 4.9h0M24.9 11.1h0M27.0 7.9h0M25.8 6.1h0M24.9 5.4h0M18.8 10.4h0M34.3 23.9h0M31.4 18.6h0M38.3 21.7h0M29.6 24.4h0M35.8 24.8h0M36.7 20.3h0M30.8 19.8h0M39.0 30.9h0M34.5 27.7h0M35.3 13.5h0M28.7 8.5h0M20.2 19.4h0M23.2 16.4h0M29.7 20.7h0M35.7 26.1h0M36.9 24.0h0M31.7 20.7h0M38.9 25.2h0M27.0 9.0h0M24.6 27.9h0M26.7 12.8h0M19.8 25.1h0M34.5 34.1h0M22.4 27.7h0M20.6 13.3h0M37.2 29.0h0M35.4 31.2h0M19.7 19.8h0M19.7 14.9h0M25.0 16.4h0M25.6 7.9h0M37.5 16.0h0M20.1 16.7h0M25.3 8.0h0M24.7 22.4h0M21.6 19.9h0M25.9 13.3h0M23.2 19.9h0M30.3 35.3h0M37.7 28.1h0M33.0 25.6h0M40.2 21.3h0M38.9 29.3h0M30.4 30.3h0M28.1 28.7h0M19.8 16.8h0M31.6 12.2h0M36.4 22.8h0M30.0 11.8h0M30.5 35.2h0M34.8 17.2h0M24.8 26.3h0M24.0 7.6h0M35.6 22.1h0M20.5 23.5h0M25.1 23.5h0M23.5 31.8h0M30.8 15.2h0M27.6 27.5h0M35.1 14.3h0M18.6 22.1h0M41.2 20.8h0M24.4 33.1h0M40.4 21.1h0M23.3 2.9h0M34.4 33.5h0M17.0 7.4h0M29.7 37.0h0M26.2 34.8h0M17.8 4.1h0" stroke="#6aae95" stroke-width="0.85" stroke-linecap="round" fill="none" opacity="0.72"/><path d="M28.0 14.8h0M25.7 28.2h0M27.5 15.7h0M27.4 27.7h0M21.6 21.4h0M20.5 19.7h0M19.9 16.2h0M28.3 28.2h0" stroke="#9ccfb6" stroke-width="0.85" stroke-linecap="round" fill="none" opacity="0.72"/><path d="M22.4 16.7h0M23.2 14.2h0M23.6 27.2h0M23.2 30.5h0M23.9 15.3h0M24.0 28.6h0M20.5 14.0h0M23.9 25.9h0M28.4 27.7h0M27.7 28.8h0M23.8 23.8h0" stroke="#a9d8c0" stroke-width="0.85" stroke-linecap="round" fill="none" opacity="0.72"/><path d="M23.2 14.9h0M23.9 31.2h0M23.1 27.8h0M29.0 33.4h0M28.9 24.9h0M21.6 25.5h0" stroke="#d4ece0" stroke-width="0.85" stroke-linecap="round" fill="none" opacity="0.72"/><path d="M27.5 17.5h0M20.2 22.2h0M22.5 25.5h0" stroke="#bfe2cf" stroke-width="0.85" stroke-linecap="round" fill="none" opacity="0.72"/><circle cx="32.6" cy="37.6" r="1.5" fill="#5e8a3c" filter="url(#bl2)"/></g>
<g transform="translate(102.4,32.5)"><rect x="0" y="0" width="44" height="44" fill="#fff" stroke="#c8c8cc" stroke-width="0.8"/><path d="M17.0 4.5 L21.5 3.0 L27.0 5.0 L33.0 11.0 L40.0 18.0 L41.0 26.0 L37.5 32.5 L31.0 36.5 L26.0 35.0 L22.0 30.0 L18.0 22.0 L16.5 14.0Z" fill="#f0f3f8" opacity="0.6" filter="url(#bl)"/><g filter="url(#bl)" opacity="0.8"><path d="M4.5 19.9h0M7.0 27.3h0M12.8 17.9h0M9.7 28.6h0M6.6 28.5h0M5.3 27.5h0M6.0 19.7h0M10.7 27.8h0M9.6 19.7h0M5.9 21.1h0M20.1 27.0h0M17.6 26.3h0" stroke="#3fa650" stroke-width="3.2" stroke-linecap="round" fill="none" opacity="0.55"/><path d="M14.3 13.7h0M15.0 17.6h0M9.1 12.8h0M12.7 12.1h0M10.5 17.0h0M3.0 13.6h0M11.0 12.9h0M10.6 12.8h0M10.6 17.2h0M15.5 21.2h0M15.3 24.6h0M14.8 24.6h0" stroke="#2f6ea6" stroke-width="3.2" stroke-linecap="round" fill="none" opacity="0.55"/><path d="M13.2 27.2h0M10.6 26.7h0M3.2 19.4h0M4.4 18.8h0M9.4 22.6h0M4.2 23.5h0M9.3 22.1h0M2.7 18.6h0M19.4 28.9h0M17.6 29.8h0M14.9 26.5h0" stroke="#4caf4a" stroke-width="3.2" stroke-linecap="round" fill="none" opacity="0.55"/><path d="M8.0 27.8h0M2.3 20.6h0M10.3 28.8h0M5.1 19.3h0M6.8 18.7h0" stroke="#3f9a88" stroke-width="3.2" stroke-linecap="round" fill="none" opacity="0.55"/><path d="M3.8 24.6h0M5.8 27.4h0M11.0 27.1h0M8.6 24.0h0M5.4 25.7h0M5.8 20.4h0M15.1 20.1h0M11.2 21.8h0M15.9 23.8h0M14.5 28.5h0M16.2 28.4h0M21.3 28.0h0M17.2 28.0h0" stroke="#5bb84a" stroke-width="3.2" stroke-linecap="round" fill="none" opacity="0.55"/><path d="M5.3 24.7h0M4.1 25.5h0M2.7 18.2h0M12.6 27.7h0M8.4 28.2h0M8.0 22.3h0M3.1 20.1h0M3.2 20.0h0" stroke="#6cbf46" stroke-width="3.2" stroke-linecap="round" fill="none" opacity="0.55"/><path d="M5.9 13.8h0M9.3 13.5h0M6.7 14.2h0M10.5 11.3h0" stroke="#3a7cb2" stroke-width="3.2" stroke-linecap="round" fill="none" opacity="0.55"/><path d="M3.8 18.7h0M10.5 29.7h0M5.1 26.7h0M8.1 24.2h0M7.1 19.1h0M8.0 26.8h0" stroke="#2f8a9a" stroke-width="3.2" stroke-linecap="round" fill="none" opacity="0.55"/><path d="M13.0 17.8h0M12.5 14.7h0M5.2 14.3h0M15.4 24.9h0" stroke="#285f96" stroke-width="3.2" stroke-linecap="round" fill="none" opacity="0.55"/><path d="M14.6 17.0h0M9.3 12.1h0M13.1 22.1h0M11.6 10.6h0M5.2 13.9h0M7.4 14.9h0M3.4 13.1h0" stroke="#234f86" stroke-width="3.2" stroke-linecap="round" fill="none" opacity="0.55"/><path d="M19.9 30.9h0M16.2 37.2h0M24.6 36.1h0M13.5 34.1h0M9.9 34.5h0M22.1 38.2h0M23.4 41.2h0M26.5 35.4h0M21.5 33.1h0M25.3 35.7h0M25.0 36.0h0M12.5 30.8h0M27.0 36.6h0M13.2 35.1h0M26.5 37.6h0" stroke="#99cc40" stroke-width="3.2" stroke-linecap="round" fill="none" opacity="0.55"/><path d="M11.9 39.2h0M26.4 38.1h0M15.9 38.9h0M13.5 30.1h0M15.3 43.2h0M23.8 36.2h0M15.3 33.7h0M20.8 39.2h0M17.7 30.8h0M21.7 34.2h0M17.0 40.4h0M12.6 30.3h0M10.6 34.0h0M15.1 34.0h0M11.3 36.7h0M20.0 37.3h0M25.3 36.7h0M14.7 37.2h0" stroke="#6dc04a" stroke-width="3.2" stroke-linecap="round" fill="none" opacity="0.55"/><path d="M21.0 36.8h0M26.7 39.8h0M25.1 36.2h0M17.9 36.9h0M18.8 41.8h0M20.3 41.1h0M10.8 33.4h0M11.3 36.1h0M21.6 33.0h0M19.1 31.5h0M13.2 30.8h0M10.8 36.8h0" stroke="#5cb84a" stroke-width="3.2" stroke-linecap="round" fill="none" opacity="0.55"/><path d="M22.0 36.5h0M18.8 39.3h0M15.0 42.8h0M19.5 34.8h0M11.1 40.0h0" stroke="#7fc846" stroke-width="3.2" stroke-linecap="round" fill="none" opacity="0.55"/><path d="M17.1 41.6h0M9.9 31.7h0M17.2 37.7h0M22.3 38.3h0M17.9 38.4h0M20.3 30.6h0M14.3 34.0h0M23.2 38.1h0M9.5 31.2h0M23.5 34.0h0" stroke="#4aae50" stroke-width="3.2" stroke-linecap="round" fill="none" opacity="0.55"/></g><g filter="url(#bl2)"><path d="M4.5 19.9h0M8.3 23.7h0M7.4 21.4h0M4.3 27.0h0M4.4 25.9h0M10.6 20.3h0M9.3 27.0h0M7.6 24.1h0M5.9 22.4h0M6.5 26.5h0M14.6 23.7h0M2.3 20.6h0M6.0 19.7h0M11.8 27.6h0M11.6 28.3h0M5.8 20.4h0M6.4 22.9h0M14.5 24.1h0M12.7 21.8h0M7.5 26.1h0M15.5 21.2h0M10.1 27.0h0M13.3 22.6h0M6.8 18.7h0M8.4 29.0h0M17.6 27.0h0M16.9 27.4h0M17.8 28.3h0M20.1 27.0h0M17.6 26.3h0" stroke="#4caf4a" stroke-width="1.2" stroke-linecap="round" fill="none" opacity="0.75"/><path d="M12.6 24.5h0M10.2 15.6h0M9.7 12.2h0M10.5 17.0h0M14.5 15.6h0M2.2 16.0h0M4.3 16.5h0M16.4 19.6h0M9.4 11.9h0M14.0 18.9h0M13.2 13.9h0M10.5 11.3h0M11.6 10.6h0M13.2 15.9h0M13.7 21.8h0M14.8 24.8h0M10.6 12.8h0M6.5 18.0h0M9.6 10.7h0M9.2 11.0h0M13.7 14.7h0M13.1 16.4h0M13.1 14.8h0M3.4 13.1h0M14.1 21.6h0M15.4 24.9h0M14.8 24.6h0" stroke="#285f96" stroke-width="1.2" stroke-linecap="round" fill="none" opacity="0.75"/><path d="M14.3 13.7h0M10.9 13.3h0M15.0 15.1h0M15.0 16.3h0M12.8 17.9h0M14.1 22.8h0M3.0 13.6h0M12.6 10.9h0M14.9 13.2h0M16.1 17.5h0M14.4 13.8h0M16.0 20.2h0M6.3 11.1h0M11.9 14.8h0M3.2 14.5h0M15.1 20.1h0M12.5 14.7h0M10.6 17.2h0M7.8 16.5h0M5.2 13.9h0M9.0 13.8h0M7.4 14.9h0M16.5 17.1h0" stroke="#2f6ea6" stroke-width="1.2" stroke-linecap="round" fill="none" opacity="0.75"/><path d="M12.1 21.2h0M7.0 27.3h0M3.5 25.7h0M13.2 27.2h0M10.5 29.7h0M5.1 26.7h0M5.5 26.9h0M6.2 23.0h0M11.7 28.5h0M7.1 19.1h0M6.7 18.9h0M13.1 22.1h0M2.5 18.8h0M3.2 19.2h0M11.2 21.8h0M6.6 23.1h0M17.6 29.8h0" stroke="#3f9a88" stroke-width="1.2" stroke-linecap="round" fill="none" opacity="0.75"/><path d="M10.9 15.1h0M15.0 17.6h0M9.1 12.8h0M5.2 14.2h0M12.4 10.6h0M5.9 13.8h0M9.3 13.5h0M9.9 14.5h0M10.2 9.8h0M14.1 11.7h0M4.2 16.5h0M14.6 17.0h0M9.3 12.1h0M11.1 12.5h0M8.0 10.1h0M6.7 14.2h0M13.5 19.6h0M12.3 10.6h0M15.7 15.7h0M3.7 15.3h0M2.6 16.8h0M13.2 16.6h0M11.2 16.5h0M13.8 24.1h0M15.3 24.6h0M16.6 25.0h0M15.7 21.9h0" stroke="#234f86" stroke-width="1.2" stroke-linecap="round" fill="none" opacity="0.75"/><path d="M10.3 22.7h0M7.1 25.3h0M5.3 24.7h0M8.6 25.0h0M4.2 23.8h0M14.3 27.5h0M14.6 26.3h0M9.7 28.6h0M5.3 27.5h0M5.4 25.7h0M12.6 19.0h0M12.0 26.8h0M4.4 18.8h0M8.0 19.4h0M3.1 20.1h0M4.2 23.5h0M9.6 19.7h0M12.3 20.1h0M3.2 20.0h0M5.6 22.8h0M4.4 20.3h0M20.0 25.8h0M16.3 25.9h0M18.2 27.0h0M17.2 28.0h0M15.7 27.6h0M15.7 27.7h0M18.5 25.6h0M14.5 27.4h0M14.6 29.9h0" stroke="#6cbf46" stroke-width="1.2" stroke-linecap="round" fill="none" opacity="0.75"/><path d="M9.6 10.9h0M13.5 14.0h0M7.6 13.9h0M12.7 12.1h0M7.0 14.2h0M13.0 17.8h0M10.2 10.5h0M8.0 15.0h0M8.9 18.1h0M11.0 12.9h0M12.5 11.7h0M12.5 10.4h0M8.6 17.5h0M5.2 14.3h0M14.9 20.4h0M10.9 15.3h0M10.0 11.4h0M5.1 17.3h0M16.3 22.5h0" stroke="#3a7cb2" stroke-width="1.2" stroke-linecap="round" fill="none" opacity="0.75"/><path d="M8.0 27.8h0M2.6 17.3h0M3.8 24.6h0M6.4 24.0h0M12.6 26.2h0M9.8 22.1h0M3.8 18.7h0M14.3 26.5h0M4.1 25.5h0M5.2 26.6h0M3.2 20.1h0M11.0 27.1h0M3.2 19.4h0M5.1 19.3h0M13.9 27.9h0M8.6 24.0h0M12.6 27.7h0M11.0 20.5h0M8.4 28.2h0M10.7 27.8h0M3.3 23.4h0M9.4 22.6h0M7.0 20.5h0M9.3 22.1h0M2.7 18.6h0M8.0 26.8h0M4.8 22.9h0M5.9 21.1h0M15.9 23.8h0M19.4 28.9h0M18.0 24.3h0M19.3 25.8h0M17.1 26.9h0M17.5 28.4h0M18.6 30.0h0M19.6 29.2h0" stroke="#5bb84a" stroke-width="1.2" stroke-linecap="round" fill="none" opacity="0.75"/><path d="M2.3 20.6h0M10.6 26.7h0M6.6 28.5h0M4.1 25.8h0M2.7 18.2h0M6.5 23.2h0M6.6 17.9h0M2.7 20.6h0M4.4 24.4h0M2.3 20.0h0M8.5 28.9h0M4.8 18.6h0" stroke="#2f8a9a" stroke-width="1.2" stroke-linecap="round" fill="none" opacity="0.75"/><path d="M10.5 22.7h0M7.3 29.2h0M10.3 28.8h0M13.1 28.4h0M5.8 27.4h0M8.1 24.2h0M13.2 17.2h0M2.2 21.3h0M8.4 29.4h0M2.9 18.6h0M8.7 25.5h0M6.7 25.8h0M8.0 22.3h0M6.0 27.4h0M14.4 27.3h0M8.4 27.1h0M6.0 22.6h0M14.5 28.5h0M17.4 24.5h0M16.2 28.4h0M21.3 28.0h0M14.9 26.5h0M14.0 29.0h0" stroke="#3fa650" stroke-width="1.2" stroke-linecap="round" fill="none" opacity="0.75"/><path d="M19.7 30.2h0M14.7 34.4h0M25.1 36.2h0M22.0 36.5h0M12.9 31.0h0M22.6 33.9h0M22.5 37.3h0M9.9 33.7h0M17.1 41.6h0M12.0 32.9h0M17.2 37.7h0M25.7 40.8h0M15.0 42.8h0M27.2 35.7h0M13.4 42.2h0M20.9 30.9h0M21.3 40.0h0M17.2 37.3h0M18.6 37.8h0M18.2 40.2h0M15.2 34.0h0M17.0 40.4h0M15.5 31.3h0M12.6 30.3h0M19.7 34.9h0M21.0 33.7h0M10.7 32.9h0M15.1 34.0h0M14.5 30.8h0M17.7 37.8h0M22.9 35.0h0M27.0 36.6h0M16.7 39.9h0M12.1 31.6h0M16.5 37.3h0M13.0 34.1h0" stroke="#4aae50" stroke-width="1.2" stroke-linecap="round" fill="none" opacity="0.75"/><path d="M18.5 30.3h0M15.7 38.9h0M11.9 39.2h0M10.5 30.8h0M20.3 36.7h0M18.6 34.2h0M25.9 34.7h0M24.6 36.1h0M19.2 35.6h0M14.6 36.4h0M14.0 37.4h0M14.6 30.0h0M23.8 36.2h0M21.0 32.3h0M16.8 34.8h0M18.2 32.1h0M17.7 30.8h0M23.4 41.2h0M15.7 40.7h0M21.7 34.2h0M10.6 34.0h0M10.8 32.0h0M19.1 31.5h0M17.5 31.9h0M23.2 41.7h0M11.4 33.2h0M11.1 40.0h0M23.3 41.2h0M22.1 42.9h0M11.3 36.7h0M13.2 30.8h0M17.2 34.4h0M22.9 34.6h0" stroke="#7fc846" stroke-width="1.2" stroke-linecap="round" fill="none" opacity="0.75"/><path d="M19.9 30.9h0M11.2 40.1h0M18.3 35.4h0M13.5 38.5h0M20.6 31.6h0M13.5 30.1h0M20.0 38.8h0M16.8 36.1h0M13.5 34.1h0M18.8 39.3h0M12.9 41.6h0M18.5 30.2h0M19.5 34.8h0M22.1 38.2h0M11.6 41.7h0M18.8 41.8h0M15.1 32.5h0M23.1 42.1h0M20.3 41.1h0M20.8 39.2h0M14.5 38.5h0M26.5 35.4h0M25.4 40.5h0M23.9 34.1h0M19.2 39.1h0M21.5 33.1h0M10.7 32.8h0M12.6 34.9h0M25.6 39.4h0M25.3 35.7h0M15.1 37.8h0M21.5 41.1h0M26.0 36.3h0M11.0 37.1h0M19.6 38.8h0M22.5 40.8h0M13.2 35.1h0M11.7 42.0h0M10.8 36.8h0M26.5 37.6h0" stroke="#5cb84a" stroke-width="1.2" stroke-linecap="round" fill="none" opacity="0.75"/><path d="M18.4 31.3h0M16.2 37.2h0M12.4 37.1h0M10.2 35.8h0M22.3 33.5h0M26.4 38.1h0M15.9 38.9h0M12.5 32.2h0M17.1 30.0h0M12.9 35.5h0M10.0 32.3h0M26.2 36.5h0M16.0 39.2h0M12.0 33.0h0M11.3 36.1h0M22.3 38.3h0M16.3 43.3h0M15.2 33.8h0M25.2 39.2h0M20.1 41.9h0M18.3 35.2h0M14.2 31.7h0M16.8 33.3h0M20.3 30.6h0M23.3 35.0h0M23.2 38.1h0M9.5 31.2h0M12.5 30.8h0M11.5 39.9h0M10.8 34.4h0M18.8 38.3h0M21.4 38.1h0" stroke="#99cc40" stroke-width="1.2" stroke-linecap="round" fill="none" opacity="0.75"/><path d="M11.2 33.2h0M21.0 36.8h0M26.7 39.8h0M23.1 33.7h0M13.6 40.0h0M15.3 43.2h0M12.8 38.4h0M9.9 34.5h0M13.5 30.7h0M9.9 31.7h0M24.5 35.6h0M18.4 41.5h0M14.3 31.4h0M13.7 34.2h0M17.9 36.9h0M21.3 36.2h0M12.8 34.8h0M15.3 33.7h0M10.8 33.4h0M14.1 42.9h0M17.9 38.4h0M21.1 35.0h0M10.9 40.6h0M25.4 38.3h0M21.6 33.0h0M14.3 34.0h0M21.2 36.0h0M25.0 36.0h0M19.2 41.1h0M19.0 33.2h0M18.5 34.6h0M12.8 33.4h0M23.5 34.0h0M13.4 36.7h0M22.6 33.5h0M20.0 37.3h0M25.3 36.7h0M20.7 31.8h0M13.5 31.0h0M14.7 37.2h0" stroke="#6dc04a" stroke-width="1.2" stroke-linecap="round" fill="none" opacity="0.75"/><path d="M13.0 12.5h0M6.6 18.2h0M9.0 16.7h0M2.2 17.6h0M9.8 28.3h0M7.8 13.8h0M4.7 18.8h0M6.3 24.9h0M2.0 20.2h0M4.8 11.7h0M3.4 17.2h0M5.4 14.5h0M7.5 13.5h0M12.9 19.4h0M11.0 18.4h0M4.8 12.4h0M4.0 17.5h0M8.9 10.3h0M7.9 14.3h0M12.0 28.7h0M8.1 10.9h0M10.3 21.7h0M7.9 21.1h0M14.3 14.5h0M7.1 24.8h0M2.5 23.6h0M4.1 15.4h0M13.8 25.3h0M7.8 24.7h0M4.2 22.0h0M10.1 28.6h0M14.7 20.3h0M5.2 13.2h0M5.7 21.1h0M12.1 27.1h0M8.4 23.2h0M14.6 19.7h0M11.6 14.1h0M6.0 17.7h0M11.8 12.5h0M13.6 15.6h0M2.0 17.9h0M4.4 14.5h0M2.6 19.5h0M9.3 14.3h0M22.1 42.5h0M11.8 33.4h0M12.5 35.5h0M16.9 34.6h0M19.2 42.2h0M19.5 31.5h0M18.2 37.2h0M18.1 33.3h0M15.9 34.3h0M19.8 43.4h0M17.1 34.6h0M10.0 31.7h0M13.4 37.4h0M20.7 35.1h0M15.5 41.4h0M18.5 33.0h0M11.4 36.5h0M21.4 35.0h0M21.2 39.7h0M9.6 34.9h0M20.7 40.8h0M11.2 38.7h0M14.9 42.8h0M19.0 43.1h0M23.7 37.1h0M14.8 33.4h0M13.8 31.2h0M21.1 31.7h0M26.5 36.9h0M20.4 32.8h0M16.5 35.7h0M26.5 37.5h0M19.1 35.7h0M17.5 36.0h0M18.5 37.6h0M23.8 40.4h0M15.3 32.7h0M22.9 37.1h0M13.6 33.2h0M11.5 37.8h0M15.8 27.5h0M19.4 30.6h0M20.2 30.4h0M19.3 28.8h0M14.8 28.6h0M17.8 29.6h0M14.0 26.9h0M18.4 26.9h0M18.8 28.9h0M17.0 25.4h0" stroke="#ffffff" stroke-width="0.9" stroke-linecap="round" fill="none" opacity="0.5"/></g><path d="M29.0 13.4h0M21.2 7.3h0M21.4 9.5h0M25.5 6.9h0M23.2 11.6h0M26.3 10.3h0M22.1 10.6h0M23.5 9.5h0M21.8 4.9h0M25.6 9.8h0M21.1 10.2h0M18.5 9.9h0M19.2 10.2h0M22.4 12.0h0M25.3 13.9h0M27.2 7.1h0M28.5 7.1h0M21.5 11.6h0M17.8 4.3h0M19.9 7.4h0M20.9 12.1h0M17.0 12.7h0M18.8 3.7h0" stroke="#a9c9d8" stroke-width="0.85" stroke-linecap="round" fill="none" opacity="0.72"/><path d="M25.7 7.0h0M22.3 6.0h0M26.8 10.2h0M20.9 10.5h0M23.7 6.7h0M27.0 8.0h0M26.2 10.8h0M28.2 12.5h0M27.6 12.5h0M24.2 9.6h0M26.5 12.8h0M19.8 4.4h0M27.4 11.5h0M22.1 12.6h0M26.1 8.7h0M25.3 12.1h0M17.5 6.6h0M20.4 13.9h0M19.9 5.7h0M25.3 12.2h0M22.8 11.2h0M25.3 5.7h0M25.7 9.5h0M22.3 4.1h0M21.1 4.6h0M18.7 9.6h0M17.1 12.9h0M22.6 3.8h0M23.6 3.9h0M16.6 7.3h0" stroke="#9da2dc" stroke-width="0.85" stroke-linecap="round" fill="none" opacity="0.72"/><path d="M26.2 8.0h0M22.5 12.1h0M20.1 10.5h0M23.8 12.7h0M27.4 10.7h0M27.5 9.5h0M28.5 12.7h0M25.1 7.2h0M28.4 10.6h0M23.6 8.6h0M24.8 12.0h0M20.5 7.8h0M22.4 10.7h0M20.1 8.0h0M23.7 13.6h0M20.7 6.6h0M20.5 13.2h0M27.7 6.2h0M18.3 4.0h0" stroke="#c5c8ec" stroke-width="0.85" stroke-linecap="round" fill="none" opacity="0.72"/><path d="M17.7 7.4h0M20.7 7.7h0M26.1 7.4h0M18.7 9.3h0M18.9 8.2h0M19.4 10.4h0M27.6 8.5h0M26.0 7.0h0M27.0 8.6h0M27.5 8.9h0M20.2 8.4h0M21.6 13.4h0M23.4 9.0h0M19.0 4.5h0M22.3 11.3h0M28.3 5.8h0M28.3 6.8h0M15.9 12.8h0M16.5 9.4h0" stroke="#b3b6e4" stroke-width="0.85" stroke-linecap="round" fill="none" opacity="0.72"/><path d="M27.6 12.1h0M21.1 7.2h0M23.4 11.0h0M20.9 13.1h0M22.2 7.8h0M19.1 6.7h0M24.1 5.3h0M23.6 11.5h0M28.5 8.4h0M23.6 6.8h0M17.6 6.2h0M22.2 5.9h0M24.5 11.4h0M23.1 13.9h0M20.4 13.2h0M22.4 2.9h0M28.2 6.8h0M17.2 7.6h0M17.4 4.3h0" stroke="#8f96d0" stroke-width="0.85" stroke-linecap="round" fill="none" opacity="0.72"/><path d="M34.0 31.7h0M34.8 25.2h0M35.9 28.9h0M32.2 16.1h0M30.9 20.8h0M38.5 25.4h0M29.5 24.5h0M33.9 29.0h0M33.8 24.5h0M30.8 26.6h0M31.2 18.8h0M31.2 19.4h0M32.0 25.9h0M32.2 16.1h0M31.3 22.2h0M29.8 25.5h0M32.1 17.0h0M35.2 26.8h0M35.8 30.1h0M36.5 19.6h0M35.3 21.9h0M35.3 21.1h0M24.6 16.4h0M34.0 33.9h0M26.0 15.7h0M34.8 18.3h0M30.3 9.8h0M17.9 15.6h0M31.5 14.6h0M30.6 29.1h0M21.4 20.8h0M21.5 28.3h0M30.7 13.0h0M32.6 29.6h0M28.5 20.6h0M34.2 15.2h0M32.5 33.6h0M35.1 15.4h0M30.0 21.1h0M31.2 13.8h0M22.6 14.1h0M30.9 28.3h0M34.9 16.3h0M20.0 23.9h0M32.1 17.7h0M40.0 25.2h0M32.8 26.1h0M35.6 22.3h0M34.7 22.9h0M33.7 12.8h0M30.2 12.4h0M36.5 22.2h0M29.7 15.0h0M23.1 21.2h0M27.1 15.3h0M30.3 10.0h0M24.4 16.2h0M33.9 12.2h0M40.7 28.5h0M25.9 35.9h0M38.9 29.7h0M18.2 22.2h0M26.9 35.5h0M36.0 14.2h0" stroke="#9fcfc0" stroke-width="0.85" stroke-linecap="round" fill="none" opacity="0.72"/><path d="M36.3 22.7h0M33.7 16.3h0M34.0 24.3h0M30.2 17.9h0M31.8 29.8h0M38.0 25.9h0M39.8 23.8h0M28.8 32.8h0M31.3 15.0h0M23.9 20.5h0M27.8 34.4h0M33.2 32.6h0M36.6 15.8h0M31.8 29.4h0M35.0 13.3h0M32.9 27.5h0M35.5 16.7h0M32.7 22.8h0M33.3 27.0h0M21.9 22.7h0M37.0 18.8h0M27.5 30.0h0M23.4 30.4h0M22.0 20.7h0M19.0 23.2h0M23.6 16.4h0M35.2 14.7h0M26.2 19.8h0M33.7 14.8h0M34.0 32.3h0M34.3 30.7h0M24.7 26.8h0M32.8 32.8h0M27.9 31.3h0M31.5 23.7h0M35.3 29.2h0M30.1 32.5h0M32.6 18.5h0M34.1 21.8h0M31.9 12.9h0M36.9 24.4h0M29.8 13.6h0M38.2 27.5h0M36.9 15.1h0M31.6 18.0h0M34.3 12.5h0M40.9 19.2h0M35.0 35.3h0M41.6 25.2h0M24.5 32.4h0M31.1 35.5h0M39.4 19.1h0M33.3 10.6h0M31.1 37.0h0M20.1 25.4h0M38.2 14.5h0M27.4 34.5h0M29.9 6.9h0M38.1 17.3h0M41.0 23.3h0" stroke="#8fb9b0" stroke-width="0.85" stroke-linecap="round" fill="none" opacity="0.72"/><path d="M37.5 19.9h0M31.6 28.2h0M33.5 26.0h0M34.2 17.0h0M36.8 19.9h0M34.0 25.6h0M35.8 23.7h0M38.7 29.6h0M36.1 30.6h0M38.6 29.6h0M36.8 31.2h0M35.0 30.9h0M33.6 27.6h0M31.7 28.1h0M29.1 24.4h0M36.7 26.9h0M33.4 30.4h0M34.5 17.4h0M31.5 13.9h0M33.2 21.2h0M33.1 30.4h0M30.7 29.2h0M21.7 21.6h0M20.1 25.3h0M38.0 27.7h0M30.2 14.7h0M39.2 21.4h0M33.3 30.3h0M33.6 33.6h0M36.9 29.8h0M17.4 16.0h0M30.1 30.0h0M40.4 26.2h0M38.1 20.3h0M30.4 18.3h0M34.6 25.4h0M40.2 25.3h0M34.3 15.0h0M29.1 10.0h0M32.4 34.6h0M31.0 12.5h0M30.8 35.8h0M26.1 21.7h0M17.0 15.6h0M33.6 16.0h0M33.7 28.1h0M34.5 21.4h0M37.9 23.4h0M34.2 32.9h0M31.1 16.7h0M29.9 25.4h0M35.8 19.8h0M29.3 26.0h0M24.3 24.3h0M29.5 28.6h0M24.9 23.8h0M34.8 24.3h0M25.1 33.2h0M29.0 7.1h0M29.0 8.8h0M28.2 24.8h0M33.4 32.0h0M25.2 26.0h0M36.9 31.7h0M40.1 20.0h0M25.3 25.5h0M33.1 36.4h0M22.9 31.8h0M28.2 35.4h0M31.8 36.5h0M41.2 27.3h0M29.9 8.0h0M22.4 28.9h0M35.4 33.7h0M39.3 28.7h0M25.1 34.4h0M34.9 12.7h0" stroke="#b9c2e6" stroke-width="0.85" stroke-linecap="round" fill="none" opacity="0.72"/><path d="M32.9 26.0h0M31.8 22.2h0M30.9 23.2h0M37.7 26.8h0M30.9 24.8h0M36.8 27.2h0M31.5 19.1h0M36.2 24.6h0M36.5 19.6h0M31.5 22.0h0M39.0 21.5h0M28.9 21.5h0M28.8 27.8h0M18.2 20.4h0M32.6 32.1h0M33.8 22.8h0M25.8 27.5h0M30.6 30.2h0M25.0 25.9h0M24.1 18.1h0M34.7 23.4h0M29.7 14.6h0M24.7 14.3h0M23.8 24.9h0M34.8 28.2h0M35.1 30.1h0M33.7 24.0h0M38.0 20.3h0M29.6 10.4h0M26.5 32.5h0M20.3 20.3h0M31.8 19.4h0M33.6 33.9h0M33.2 28.7h0M29.6 19.2h0M35.9 14.8h0M34.4 18.4h0M26.0 30.2h0M37.8 25.5h0M39.4 20.7h0M31.7 9.8h0M30.3 27.2h0M36.5 28.6h0M25.4 14.9h0M36.9 25.2h0M32.8 18.4h0M24.1 25.1h0M33.0 21.5h0M33.2 18.4h0M25.3 29.8h0M34.2 17.6h0M38.3 31.0h0M22.7 31.1h0M29.0 6.9h0M20.8 25.9h0M31.7 37.1h0M31.6 9.4h0M39.3 28.2h0M25.2 32.7h0M35.1 12.7h0M38.4 32.7h0M26.9 35.6h0M29.6 35.6h0M33.2 10.8h0M31.9 10.7h0M38.1 15.9h0M40.8 24.3h0M23.3 30.9h0" stroke="#b5d9cf" stroke-width="0.85" stroke-linecap="round" fill="none" opacity="0.72"/><path d="M25.3 23.3h0M18.6 17.3h0M23.4 31.2h0M27.3 25.4h0M22.0 17.2h0M28.3 24.0h0M20.8 25.5h0M19.0 17.8h0M25.6 16.5h0M18.9 20.9h0M27.9 33.5h0" stroke="#a9c4d6" stroke-width="0.85" stroke-linecap="round" fill="none" opacity="0.72"/><path d="M19.4 21.2h0M24.0 23.0h0M20.7 16.0h0M25.9 16.4h0M27.8 27.9h0M28.4 29.4h0M25.9 21.6h0M24.7 16.5h0M24.8 26.1h0M26.1 32.5h0M28.0 28.1h0M20.5 26.4h0M19.3 21.8h0M19.8 24.2h0" stroke="#b9bee6" stroke-width="0.85" stroke-linecap="round" fill="none" opacity="0.72"/><path d="M23.6 22.1h0M24.8 33.3h0M23.5 26.7h0M26.7 33.9h0M27.2 21.9h0M27.3 16.6h0" stroke="#c0dcd4" stroke-width="0.85" stroke-linecap="round" fill="none" opacity="0.72"/><circle cx="32.6" cy="37.6" r="1.5" fill="#5e8a3c" filter="url(#bl2)"/></g>
<g transform="translate(102.4,82.6)"><rect x="0" y="0" width="44" height="44" fill="#fff" stroke="#c8c8cc" stroke-width="0.8"/><path d="M17.0 4.5 L21.5 3.0 L27.0 5.0 L33.0 11.0 L40.0 18.0 L41.0 26.0 L37.5 32.5 L31.0 36.5 L26.0 35.0 L22.0 30.0 L18.0 22.0 L16.5 14.0Z" fill="#f0f3f8" opacity="0.6" filter="url(#bl)"/><g filter="url(#bl)" opacity="0.8"><path d="M5.7 20.8h0M11.2 23.3h0M16.6 17.2h0M8.0 25.9h0M12.5 17.3h0M11.7 26.0h0M11.3 25.4h0M7.4 21.8h0M16.3 28.0h0" stroke="#6cbf46" stroke-width="3.2" stroke-linecap="round" fill="none" opacity="0.55"/><path d="M6.8 14.6h0M5.5 11.7h0M9.0 14.5h0M10.3 15.1h0M11.3 14.0h0M11.9 10.9h0M2.5 16.0h0M10.2 10.8h0M11.8 10.7h0M9.5 14.8h0M10.4 16.6h0M15.8 24.1h0M9.8 13.5h0" stroke="#3068a0" stroke-width="3.2" stroke-linecap="round" fill="none" opacity="0.55"/><path d="M8.6 15.8h0M12.3 14.0h0M10.1 17.1h0M7.2 11.3h0M14.0 22.1h0M7.8 11.5h0M13.3 15.0h0M12.0 16.6h0" stroke="#5a98c4" stroke-width="3.2" stroke-linecap="round" fill="none" opacity="0.55"/><path d="M7.6 28.8h0M8.1 28.4h0M15.9 17.4h0M2.2 23.2h0M2.1 22.3h0M8.3 22.8h0M9.7 28.0h0M16.3 29.8h0M16.9 29.1h0M15.4 26.0h0M16.1 26.8h0" stroke="#5bb84a" stroke-width="3.2" stroke-linecap="round" fill="none" opacity="0.55"/><path d="M9.5 16.6h0M7.2 16.3h0M10.7 13.9h0M11.5 12.2h0M3.2 17.8h0M5.8 11.2h0M9.5 18.1h0" stroke="#3a78b0" stroke-width="3.2" stroke-linecap="round" fill="none" opacity="0.55"/><path d="M4.0 17.7h0M12.9 17.3h0M15.4 23.1h0M12.3 24.0h0M13.9 25.7h0M15.1 19.9h0M15.7 27.5h0M19.0 29.0h0M16.3 21.9h0M20.3 29.6h0" stroke="#3fa650" stroke-width="3.2" stroke-linecap="round" fill="none" opacity="0.55"/><path d="M9.3 23.0h0M2.7 21.6h0M4.4 27.0h0M14.7 24.5h0" stroke="#3f9a88" stroke-width="3.2" stroke-linecap="round" fill="none" opacity="0.55"/><path d="M14.4 18.6h0M13.4 26.0h0M15.9 20.7h0M5.7 23.2h0M12.1 21.8h0M14.6 24.8h0M9.9 29.0h0M5.2 24.9h0M13.6 25.4h0M18.4 29.7h0M19.4 28.2h0" stroke="#4caf4a" stroke-width="3.2" stroke-linecap="round" fill="none" opacity="0.55"/><path d="M5.8 15.4h0M2.8 13.9h0M10.1 16.2h0M9.6 15.6h0M13.3 16.1h0M12.9 11.0h0M15.5 21.6h0" stroke="#4a88bc" stroke-width="3.2" stroke-linecap="round" fill="none" opacity="0.55"/><path d="M13.3 28.0h0M8.8 18.9h0" stroke="#2f8a9a" stroke-width="3.2" stroke-linecap="round" fill="none" opacity="0.55"/><path d="M16.1 40.0h0M12.5 30.4h0M11.7 31.1h0M23.3 33.9h0M21.1 35.2h0M10.6 36.9h0M25.5 33.6h0M20.1 33.3h0M14.5 38.0h0M26.0 37.1h0M18.6 42.9h0M12.6 39.6h0M20.7 36.9h0M13.9 41.0h0M22.8 33.3h0M24.5 36.3h0" stroke="#4aae50" stroke-width="3.2" stroke-linecap="round" fill="none" opacity="0.55"/><path d="M19.8 34.7h0M16.0 41.0h0M22.2 36.3h0M16.0 30.2h0M12.2 39.7h0M14.6 42.1h0M20.0 36.2h0M19.4 34.8h0M26.5 38.5h0M21.5 39.6h0M9.9 32.4h0" stroke="#7fc846" stroke-width="3.2" stroke-linecap="round" fill="none" opacity="0.55"/><path d="M9.1 36.8h0M16.6 37.1h0M14.2 41.7h0M18.3 40.3h0M9.4 33.2h0M17.7 33.3h0M22.3 37.1h0M21.1 38.5h0M23.1 38.1h0M14.3 37.8h0M14.6 39.1h0M19.2 39.2h0M20.9 34.3h0M19.1 35.4h0M18.5 37.6h0" stroke="#6dc04a" stroke-width="3.2" stroke-linecap="round" fill="none" opacity="0.55"/><path d="M18.6 34.4h0M20.7 42.4h0M16.3 32.2h0M14.6 31.1h0M10.4 37.4h0M9.7 32.5h0M17.1 35.5h0M16.5 31.7h0M18.6 30.4h0M10.0 31.0h0" stroke="#99cc40" stroke-width="3.2" stroke-linecap="round" fill="none" opacity="0.55"/><path d="M18.6 30.4h0M11.3 38.5h0M22.6 39.4h0M19.0 37.0h0M13.0 32.2h0M10.4 36.9h0M25.2 33.9h0M17.5 41.8h0" stroke="#5cb84a" stroke-width="3.2" stroke-linecap="round" fill="none" opacity="0.55"/></g><g filter="url(#bl2)"><path d="M5.7 20.8h0M10.4 18.4h0M12.5 20.8h0M5.8 18.3h0M9.3 23.0h0M5.2 27.2h0M8.1 28.4h0M14.4 18.6h0M13.4 26.0h0M11.0 27.7h0M13.0 17.8h0M10.0 29.1h0M9.4 24.8h0M6.2 23.7h0M6.8 26.9h0M14.1 27.1h0M10.5 26.6h0M16.2 17.0h0M15.4 22.3h0M14.6 24.8h0M5.2 24.9h0M4.7 23.6h0M13.1 27.6h0M10.3 29.8h0M13.1 25.7h0M9.7 28.0h0M13.3 28.0h0M9.2 26.6h0M10.6 29.0h0M4.0 22.3h0M19.4 28.2h0M17.4 23.3h0M14.9 30.0h0" stroke="#6cbf46" stroke-width="1.2" stroke-linecap="round" fill="none" opacity="0.75"/><path d="M7.3 17.3h0M8.5 15.9h0M11.8 17.4h0M8.6 15.8h0M9.5 16.6h0M16.2 16.2h0M4.0 17.7h0M12.2 17.8h0M14.3 20.6h0M3.0 16.2h0M5.0 13.1h0M14.8 15.0h0M6.2 14.2h0M11.9 10.9h0M2.5 16.0h0M12.9 17.3h0M15.9 20.7h0M7.1 13.3h0M15.3 15.1h0M14.3 14.5h0M10.2 14.3h0M13.8 16.9h0M10.4 16.8h0M14.3 13.6h0M16.0 22.5h0M2.5 14.8h0M12.9 11.0h0" stroke="#3068a0" stroke-width="1.2" stroke-linecap="round" fill="none" opacity="0.75"/><path d="M6.8 14.6h0M16.4 19.2h0M9.0 14.5h0M8.4 10.9h0M16.6 17.2h0M15.9 17.4h0M10.7 13.9h0M10.2 10.8h0M12.1 14.7h0M15.1 14.3h0M11.8 10.7h0M14.0 22.1h0M8.4 17.0h0M12.4 11.5h0M16.1 19.7h0M9.5 14.1h0M1.6 18.6h0M13.8 24.7h0M13.9 19.3h0M7.2 17.6h0M9.9 12.7h0M2.8 13.9h0M9.5 18.1h0M9.6 10.5h0M10.4 16.6h0M8.1 10.5h0M9.6 15.6h0M11.0 13.6h0M12.0 16.6h0M12.8 12.2h0M9.8 13.5h0M15.3 21.4h0" stroke="#4a88bc" stroke-width="1.2" stroke-linecap="round" fill="none" opacity="0.75"/><path d="M10.1 24.5h0M11.2 23.3h0M6.7 26.0h0M4.9 21.7h0M7.5 19.0h0M12.5 20.8h0M4.1 24.2h0M2.1 22.3h0M8.6 27.0h0M5.7 23.2h0M6.7 23.7h0M13.3 17.9h0M4.4 27.0h0M11.6 28.0h0M2.4 22.8h0M11.2 17.6h0M5.2 27.7h0M1.7 20.2h0M18.0 24.3h0M19.0 29.0h0M16.5 26.6h0M15.0 21.5h0M20.5 27.0h0M17.3 25.0h0M18.7 26.7h0M17.9 25.1h0M19.7 27.7h0" stroke="#4caf4a" stroke-width="1.2" stroke-linecap="round" fill="none" opacity="0.75"/><path d="M8.6 21.5h0M7.6 28.8h0M10.1 17.1h0M9.4 17.6h0M10.2 18.9h0M16.0 22.9h0M2.2 23.2h0M11.7 28.7h0M3.2 17.8h0M14.7 17.7h0M12.4 22.5h0M10.6 28.5h0M9.9 29.0h0M9.9 29.6h0M2.7 21.6h0M8.3 22.8h0M2.6 18.7h0M9.3 19.6h0M4.5 19.5h0M15.1 19.9h0M12.8 27.3h0M4.5 18.1h0M9.6 18.4h0M16.0 18.4h0M19.6 28.3h0M15.0 25.8h0M17.2 25.4h0M20.3 29.6h0M15.4 26.0h0M18.6 29.5h0M16.1 26.8h0M16.0 28.4h0" stroke="#3fa650" stroke-width="1.2" stroke-linecap="round" fill="none" opacity="0.75"/><path d="M5.5 11.7h0M3.7 13.9h0M10.0 13.1h0M3.4 17.9h0M6.6 15.7h0M9.1 12.0h0M4.0 13.4h0M7.8 11.8h0M7.2 13.0h0M15.6 17.2h0M11.9 15.3h0M12.7 15.3h0M9.3 14.8h0M5.8 11.2h0M14.4 14.2h0M10.1 16.2h0M9.5 14.8h0M13.9 22.1h0M9.5 13.2h0M5.0 15.3h0M13.3 16.1h0M15.5 21.6h0" stroke="#3a78b0" stroke-width="1.2" stroke-linecap="round" fill="none" opacity="0.75"/><path d="M10.0 26.4h0M10.7 25.3h0M12.0 26.9h0M5.0 18.9h0M2.9 24.4h0M1.8 21.4h0M2.9 24.5h0M13.8 26.4h0M13.5 24.9h0M15.4 23.1h0M13.3 26.1h0M11.7 26.0h0M2.0 22.0h0M12.0 21.9h0M12.3 24.0h0M13.9 25.7h0M5.2 22.2h0M8.2 26.2h0M2.2 20.4h0M3.4 25.3h0M14.7 24.5h0M18.6 24.0h0M22.4 29.8h0M16.9 29.1h0M16.3 28.0h0M19.8 27.9h0" stroke="#5bb84a" stroke-width="1.2" stroke-linecap="round" fill="none" opacity="0.75"/><path d="M12.3 14.0h0M15.1 13.5h0M11.4 18.6h0M12.5 17.6h0M7.2 11.3h0M10.3 15.1h0M5.8 15.4h0M11.3 14.0h0M6.4 15.3h0M7.2 16.3h0M11.5 12.2h0M12.1 12.1h0M12.5 17.3h0M7.6 17.2h0M7.8 11.5h0M3.1 18.0h0M6.7 14.6h0M4.7 12.4h0M9.0 12.8h0M13.3 15.0h0M15.8 24.1h0M4.2 15.0h0M11.7 10.4h0M8.5 14.8h0" stroke="#5a98c4" stroke-width="1.2" stroke-linecap="round" fill="none" opacity="0.75"/><path d="M13.3 25.4h0M8.0 25.9h0M6.8 24.2h0M12.1 21.8h0M14.3 17.3h0M8.8 18.9h0M15.7 27.5h0M16.3 29.8h0M16.3 21.9h0M20.3 26.9h0M20.0 28.4h0" stroke="#2f8a9a" stroke-width="1.2" stroke-linecap="round" fill="none" opacity="0.75"/><path d="M3.3 18.3h0M11.3 25.4h0M7.4 21.8h0M9.3 23.2h0M2.4 22.9h0M13.6 25.4h0M5.2 17.9h0M9.1 27.8h0M14.3 27.4h0M18.4 29.7h0M17.6 28.9h0" stroke="#3f9a88" stroke-width="1.2" stroke-linecap="round" fill="none" opacity="0.75"/><path d="M18.0 30.4h0M22.4 35.3h0M12.5 32.8h0M9.1 36.8h0M17.8 43.0h0M16.0 30.2h0M18.4 35.3h0M11.1 36.6h0M14.2 41.7h0M11.7 31.1h0M18.3 37.1h0M15.5 33.2h0M18.6 30.3h0M21.1 35.2h0M12.2 30.7h0M16.3 32.2h0M17.7 33.3h0M11.6 33.8h0M13.5 39.8h0M12.2 39.7h0M21.1 38.5h0M23.0 33.2h0M25.5 33.6h0M24.5 36.5h0M17.7 37.1h0M17.3 31.8h0M19.4 34.8h0M20.2 32.6h0M19.9 35.6h0M19.3 42.6h0M16.3 37.6h0M14.3 37.8h0M25.7 35.1h0M13.0 34.8h0M17.1 35.5h0M25.2 33.9h0M20.0 39.8h0M14.6 31.1h0M21.5 39.6h0M26.1 37.2h0M15.5 33.7h0M22.6 33.2h0M22.8 33.3h0M18.0 34.6h0M15.4 34.7h0M14.6 39.2h0M20.3 41.4h0M26.3 36.2h0" stroke="#7fc846" stroke-width="1.2" stroke-linecap="round" fill="none" opacity="0.75"/><path d="M16.1 40.0h0M11.3 38.5h0M16.8 42.5h0M22.4 31.2h0M21.4 32.2h0M26.0 40.4h0M23.8 39.1h0M19.6 30.1h0M23.7 39.1h0M13.0 32.2h0M10.9 37.0h0M14.6 42.1h0M17.6 37.2h0M14.6 31.1h0M21.3 38.6h0M26.0 37.1h0M20.0 42.8h0M23.1 38.1h0M18.6 42.9h0M12.5 33.7h0M13.3 32.7h0M10.4 37.4h0M18.1 34.5h0M25.5 34.7h0M12.1 33.9h0M16.5 31.7h0M24.4 38.5h0M14.6 39.1h0M10.8 37.2h0M16.2 38.6h0M24.5 37.4h0M10.0 31.0h0M18.6 30.9h0" stroke="#4aae50" stroke-width="1.2" stroke-linecap="round" fill="none" opacity="0.75"/><path d="M16.4 34.6h0M15.8 40.5h0M13.8 36.6h0M20.6 41.5h0M11.1 33.3h0M22.6 39.4h0M10.7 31.1h0M20.5 31.5h0M22.3 37.1h0M18.8 32.9h0M12.6 32.3h0M13.0 34.2h0M14.5 38.0h0M14.0 41.8h0M17.9 33.4h0M12.6 39.6h0M10.4 36.9h0M18.6 30.4h0M20.1 31.5h0M13.9 41.0h0M19.2 39.2h0M12.8 38.4h0M14.1 34.7h0M19.1 35.4h0M24.5 36.3h0M9.0 34.8h0M16.4 33.0h0" stroke="#6dc04a" stroke-width="1.2" stroke-linecap="round" fill="none" opacity="0.75"/><path d="M19.8 34.7h0M12.0 34.5h0M16.6 37.1h0M16.0 41.0h0M18.6 34.4h0M15.4 39.0h0M22.2 36.3h0M19.7 36.6h0M14.3 38.6h0M12.5 30.4h0M18.6 30.4h0M14.4 40.3h0M24.3 36.4h0M18.3 40.3h0M11.3 33.5h0M9.4 36.0h0M13.3 30.8h0M12.5 41.0h0M13.3 42.5h0M22.0 32.5h0M17.4 39.2h0M10.6 36.9h0M12.1 41.5h0M12.9 42.0h0M19.0 37.0h0M13.2 35.6h0M13.4 37.6h0M19.5 38.0h0M10.7 39.2h0M26.5 38.5h0M27.2 38.1h0M14.4 40.0h0M12.6 38.2h0M21.8 40.0h0M22.0 32.7h0M9.1 36.6h0M11.0 36.7h0M25.6 40.1h0M9.1 35.0h0M9.9 32.4h0" stroke="#5cb84a" stroke-width="1.2" stroke-linecap="round" fill="none" opacity="0.75"/><path d="M26.6 39.8h0M12.9 39.2h0M13.5 36.9h0M26.4 37.1h0M16.1 34.4h0M10.4 32.0h0M15.0 38.3h0M20.3 34.2h0M23.3 33.9h0M13.6 42.7h0M9.4 33.2h0M20.7 42.4h0M19.2 38.1h0M19.7 40.8h0M20.0 36.2h0M13.9 34.2h0M20.1 33.3h0M24.5 35.5h0M12.9 41.7h0M20.3 36.6h0M9.6 37.6h0M9.7 32.5h0M21.9 39.6h0M22.0 33.1h0M11.2 35.9h0M15.3 38.8h0M20.7 36.9h0M12.8 35.3h0M17.5 41.8h0M20.9 34.3h0M15.4 35.7h0M18.5 37.6h0" stroke="#99cc40" stroke-width="1.2" stroke-linecap="round" fill="none" opacity="0.75"/><path d="M14.1 26.7h0M13.8 16.4h0M9.9 25.7h0M15.4 18.6h0M7.1 22.2h0M4.4 17.1h0M10.0 16.9h0M4.9 15.8h0M13.7 20.5h0M13.3 19.8h0M11.1 26.0h0M3.4 14.2h0M16.0 22.8h0M8.4 27.7h0M12.8 27.8h0M14.9 18.4h0M11.7 11.8h0M12.8 15.9h0M6.1 17.5h0M13.2 10.5h0M6.6 16.4h0M12.7 10.8h0M10.5 24.0h0M5.2 23.2h0M11.3 11.4h0M3.3 26.0h0M10.6 11.3h0M4.6 20.6h0M11.8 25.6h0M12.9 21.3h0M9.0 22.1h0M7.6 28.3h0M11.7 16.0h0M2.7 20.5h0M8.2 17.8h0M16.1 15.4h0M7.2 25.3h0M7.3 17.0h0M11.4 26.3h0M7.6 16.1h0M12.4 24.8h0M15.3 25.3h0M11.5 24.1h0M2.9 15.0h0M11.8 25.2h0M14.6 31.1h0M23.3 34.3h0M20.1 39.4h0M21.8 41.5h0M22.0 41.2h0M24.7 33.8h0M18.6 42.7h0M20.2 41.4h0M20.6 37.3h0M20.9 38.4h0M18.0 31.8h0M9.0 35.0h0M15.6 42.1h0M22.3 42.7h0M12.8 41.3h0M20.1 32.3h0M15.6 36.8h0M24.1 32.6h0M10.4 33.5h0M19.6 34.8h0M21.5 33.6h0M12.6 35.3h0M12.0 32.2h0M18.6 34.6h0M17.5 32.5h0M20.7 42.0h0M17.0 30.1h0M13.3 41.1h0M14.2 40.0h0M12.5 38.6h0M14.6 34.9h0M18.4 33.0h0M11.0 30.8h0M12.1 33.2h0M12.5 38.8h0M16.0 30.2h0M24.6 32.7h0M15.8 38.4h0M26.3 37.4h0M20.1 43.1h0M19.0 24.5h0M14.9 23.5h0M15.6 22.7h0M14.0 27.0h0M18.2 29.0h0M19.1 27.1h0M17.9 29.0h0M15.0 26.2h0M17.4 24.8h0M17.8 29.6h0" stroke="#ffffff" stroke-width="0.9" stroke-linecap="round" fill="none" opacity="0.5"/></g><path d="M20.1 13.0h0M22.4 7.8h0M20.5 7.9h0M26.1 7.4h0M24.0 13.5h0M20.3 6.9h0M23.6 7.5h0M23.2 10.3h0M19.1 4.5h0M19.5 5.0h0M18.3 6.3h0M21.0 8.1h0M22.6 11.9h0M25.4 13.8h0M22.7 13.1h0M18.2 8.6h0M20.3 10.9h0M23.0 8.9h0M23.4 11.5h0M26.5 5.7h0M22.9 4.2h0M20.6 8.0h0M20.4 3.7h0M20.7 6.6h0M17.7 8.0h0M23.3 3.1h0M22.2 3.2h0" stroke="#b3b6e4" stroke-width="0.85" stroke-linecap="round" fill="none" opacity="0.72"/><path d="M25.5 9.3h0M25.8 6.3h0M23.9 6.1h0M27.8 11.9h0M27.2 7.8h0M20.1 9.7h0M23.2 11.6h0M22.7 12.3h0M23.6 10.7h0M22.0 6.2h0M27.2 13.4h0M23.2 12.7h0M22.8 7.8h0M19.0 4.8h0M20.8 12.5h0M23.4 8.2h0M17.4 4.7h0M23.9 7.4h0M23.5 11.7h0M16.5 5.2h0M16.1 6.2h0M25.4 5.1h0M17.5 4.1h0" stroke="#9da2dc" stroke-width="0.85" stroke-linecap="round" fill="none" opacity="0.72"/><path d="M26.5 6.8h0M26.5 10.5h0M17.7 6.7h0M19.3 11.1h0M22.2 7.4h0M19.3 6.2h0M24.4 9.5h0M18.7 10.9h0M19.1 10.0h0M21.9 10.0h0M21.4 4.7h0M25.0 7.7h0M25.6 12.2h0M22.8 14.0h0M25.0 7.8h0M22.0 5.8h0M27.5 8.7h0M18.8 7.7h0M21.4 12.7h0M25.2 7.7h0M27.7 6.1h0M28.2 5.8h0M17.4 12.2h0M17.3 6.3h0M17.0 9.9h0" stroke="#c5c8ec" stroke-width="0.85" stroke-linecap="round" fill="none" opacity="0.72"/><path d="M18.9 7.2h0M23.4 11.6h0M20.9 5.4h0M26.7 12.0h0M19.8 6.4h0M25.4 13.2h0M19.9 10.8h0M18.0 9.4h0M26.6 12.1h0M21.9 9.4h0M17.6 8.9h0M26.7 6.9h0M21.4 13.0h0M24.5 12.9h0M20.6 8.3h0M22.8 13.2h0M27.6 7.1h0M24.1 9.6h0M25.9 7.5h0M28.3 8.0h0M22.2 8.2h0M17.2 5.1h0M23.7 13.9h0M25.3 5.7h0M17.4 11.6h0M21.9 3.5h0M26.5 4.4h0M17.0 5.1h0" stroke="#8f96d0" stroke-width="0.85" stroke-linecap="round" fill="none" opacity="0.72"/><path d="M19.1 7.7h0M27.9 12.6h0M19.1 5.6h0M26.1 6.1h0M26.1 8.8h0M25.2 9.4h0M23.8 10.3h0M26.9 6.7h0M23.3 10.8h0M19.2 9.4h0M21.6 5.2h0M28.8 12.0h0M28.6 11.0h0M24.3 12.4h0M23.8 9.8h0M19.7 3.8h0M19.2 7.3h0M27.9 9.8h0M22.0 7.6h0M26.1 10.6h0M19.9 8.8h0M22.7 13.8h0M19.4 11.8h0M23.4 3.8h0M18.9 8.3h0M23.7 5.5h0M16.2 4.8h0M16.9 12.8h0M17.5 8.7h0M15.9 9.0h0" stroke="#a9c9d8" stroke-width="0.85" stroke-linecap="round" fill="none" opacity="0.72"/><path d="M29.3 23.2h0M36.9 22.3h0M28.9 21.4h0M34.0 18.8h0M30.6 17.3h0M34.0 30.4h0M36.3 29.6h0M35.8 21.0h0M30.4 28.6h0M38.4 26.5h0M37.9 30.6h0M33.3 28.8h0M31.3 24.0h0M23.1 26.1h0M35.2 17.8h0M31.2 35.5h0M38.1 21.1h0M30.1 18.6h0M37.3 22.3h0M36.8 19.7h0M37.5 18.1h0M37.5 18.4h0M32.8 12.6h0M29.8 17.4h0M30.7 9.9h0M28.5 26.7h0M23.1 28.8h0M35.1 17.5h0M18.0 20.0h0M40.2 21.1h0M31.7 31.6h0M36.5 16.8h0M29.8 14.0h0M29.7 30.7h0M30.6 29.3h0M32.2 29.2h0M23.7 17.9h0M34.4 17.0h0M36.4 31.1h0M20.2 20.4h0M36.4 27.2h0M34.5 21.6h0M36.9 21.4h0M29.8 12.6h0M18.8 18.2h0M29.6 12.8h0M28.7 15.8h0M33.0 31.8h0M30.5 13.2h0M33.5 21.8h0M22.7 30.4h0M27.1 30.4h0M26.5 26.5h0M33.4 32.4h0M19.1 18.5h0M28.1 14.2h0M38.2 30.7h0M35.8 33.9h0M25.4 33.4h0M40.1 28.1h0M31.5 9.5h0M26.6 36.3h0M18.3 19.8h0M37.0 33.3h0M38.4 30.2h0" stroke="#9fcfc0" stroke-width="0.85" stroke-linecap="round" fill="none" opacity="0.72"/><path d="M39.4 22.6h0M35.7 29.3h0M30.6 20.3h0M31.8 23.4h0M30.1 17.4h0M29.2 28.0h0M31.2 27.4h0M36.5 24.5h0M34.1 16.7h0M37.9 26.0h0M30.6 28.7h0M29.1 26.2h0M36.8 23.7h0M34.0 20.6h0M36.8 32.2h0M33.0 17.8h0M27.0 21.0h0M21.5 21.2h0M39.6 21.4h0M27.7 19.8h0M33.9 13.5h0M26.8 27.2h0M20.3 18.0h0M17.6 18.6h0M35.8 16.3h0M40.1 26.7h0M18.0 16.3h0M33.0 29.6h0M34.6 14.4h0M34.4 16.6h0M34.4 23.0h0M33.6 17.2h0M30.2 34.8h0M33.3 34.2h0M35.8 31.8h0M28.5 29.4h0M39.1 25.0h0M29.7 23.9h0M34.8 18.8h0M30.6 33.9h0M38.2 17.3h0M40.9 23.4h0M23.0 30.4h0M21.4 28.1h0M38.4 32.6h0M40.1 20.6h0M32.7 11.4h0M32.9 36.1h0M19.9 26.2h0M33.5 11.4h0M39.8 20.4h0M36.1 33.5h0M37.3 14.1h0M40.9 19.0h0" stroke="#8fb9b0" stroke-width="0.85" stroke-linecap="round" fill="none" opacity="0.72"/><path d="M38.7 26.5h0M39.2 26.7h0M36.7 21.9h0M37.9 28.3h0M29.0 19.4h0M33.9 21.6h0M30.3 26.9h0M29.8 28.7h0M35.1 29.4h0M33.5 17.4h0M33.5 22.8h0M30.1 26.2h0M39.9 23.9h0M32.9 27.2h0M34.2 22.9h0M34.4 27.2h0M33.1 13.2h0M29.1 29.3h0M23.9 15.1h0M35.0 21.6h0M32.9 27.8h0M35.4 25.1h0M24.1 31.6h0M23.1 20.3h0M39.7 22.7h0M33.8 32.7h0M29.5 18.6h0M27.9 25.1h0M35.0 18.0h0M35.2 25.4h0M32.8 26.4h0M23.1 19.4h0M25.1 26.4h0M22.9 16.6h0M32.6 30.3h0M32.2 23.7h0M33.5 18.3h0M31.3 9.8h0M33.7 11.9h0M29.2 14.9h0M25.7 24.4h0M24.1 28.8h0M31.5 16.6h0M33.0 13.5h0M26.8 14.1h0M34.7 22.2h0M22.4 18.0h0M22.9 19.6h0M34.1 16.7h0M34.8 17.8h0M33.6 23.3h0M34.4 19.8h0M37.2 29.2h0M27.8 36.0h0M23.9 30.5h0M23.5 31.9h0M29.9 36.4h0M22.2 29.3h0M21.7 29.6h0M34.1 10.9h0M32.0 35.3h0M33.8 12.2h0M18.8 21.7h0M30.2 8.3h0M38.0 31.1h0M19.2 25.2h0" stroke="#b9c2e6" stroke-width="0.85" stroke-linecap="round" fill="none" opacity="0.72"/><path d="M37.4 20.3h0M34.1 20.9h0M37.0 20.1h0M30.6 29.3h0M33.5 20.9h0M33.6 23.6h0M35.6 18.4h0M32.0 24.4h0M31.8 26.9h0M32.8 16.0h0M31.4 25.1h0M35.2 21.5h0M37.8 24.2h0M25.5 23.3h0M26.1 21.0h0M32.7 23.9h0M26.9 21.5h0M29.7 23.1h0M39.3 27.0h0M31.0 27.0h0M31.9 16.8h0M22.5 30.5h0M37.9 26.5h0M24.1 20.1h0M30.5 34.9h0M31.6 30.6h0M36.2 33.0h0M37.9 25.0h0M30.8 31.0h0M28.8 17.0h0M25.0 16.9h0M37.6 30.0h0M30.1 28.8h0M36.8 28.5h0M23.3 18.5h0M33.9 31.3h0M24.6 22.1h0M34.7 27.8h0M30.9 23.5h0M35.4 16.9h0M32.5 12.8h0M25.2 28.9h0M19.3 16.2h0M33.6 18.0h0M41.0 27.4h0M34.3 12.5h0M32.2 35.6h0M36.6 32.6h0M35.8 14.0h0M36.7 14.2h0M39.7 19.4h0M38.0 30.1h0M34.6 11.9h0M18.7 21.6h0M25.5 35.2h0" stroke="#b5d9cf" stroke-width="0.85" stroke-linecap="round" fill="none" opacity="0.72"/><path d="M22.8 24.4h0M25.4 20.5h0M26.8 19.3h0M19.9 21.8h0M26.3 24.9h0M28.5 25.7h0M22.5 29.3h0M27.6 33.1h0M23.8 30.1h0M25.2 30.5h0M29.0 22.3h0M18.5 22.1h0M27.8 27.6h0" stroke="#c0dcd4" stroke-width="0.85" stroke-linecap="round" fill="none" opacity="0.72"/><path d="M25.1 30.4h0M28.9 35.2h0M22.4 22.0h0M24.2 25.0h0M25.8 30.1h0M22.1 28.4h0M27.9 33.1h0M19.0 22.0h0M26.8 34.3h0M23.3 26.5h0M22.0 24.1h0M23.4 24.9h0" stroke="#b9bee6" stroke-width="0.85" stroke-linecap="round" fill="none" opacity="0.72"/><path d="M26.9 25.4h0M29.0 33.5h0M18.5 15.1h0M23.4 17.4h0M18.3 21.1h0M28.6 16.1h0M26.1 21.4h0M27.1 33.7h0M21.9 29.0h0M22.4 16.4h0M22.6 24.5h0M25.7 22.5h0M24.4 15.8h0" stroke="#a9c4d6" stroke-width="0.85" stroke-linecap="round" fill="none" opacity="0.72"/><circle cx="32.6" cy="37.6" r="1.5" fill="#5e8a3c" filter="url(#bl2)"/></g>
<g transform="translate(148.4,32.5)"><rect x="0" y="0" width="44" height="44" fill="#fff" stroke="#c8c8cc" stroke-width="0.8"/><path d="M17.0 4.5 L21.5 3.0 L27.0 5.0 L33.0 11.0 L40.0 18.0 L41.0 26.0 L37.5 32.5 L31.0 36.5 L26.0 35.0 L22.0 30.0 L18.0 22.0 L16.5 14.0Z" fill="#f6f9f0" opacity="0.6" filter="url(#bl)"/><g filter="url(#bl)" opacity="0.8"><path d="M4.3 15.0h0M8.1 20.6h0M8.3 10.4h0M9.8 11.1h0M3.6 22.6h0M5.4 26.6h0M2.2 22.2h0M9.8 29.9h0M10.1 11.9h0M2.5 21.9h0M23.8 38.2h0M18.0 40.9h0M10.7 37.0h0M19.0 37.4h0M10.9 35.8h0M16.6 39.6h0M19.8 40.4h0M15.2 42.5h0M13.0 37.6h0M22.0 41.8h0M19.9 36.5h0M15.6 33.1h0" stroke="#e86a28" stroke-width="3.2" stroke-linecap="round" fill="none" opacity="0.55"/><path d="M5.2 12.5h0M10.1 26.0h0M5.6 13.7h0M9.6 11.6h0M4.5 18.6h0M3.2 15.2h0M2.9 17.3h0M11.0 13.8h0M8.0 15.1h0M11.2 41.0h0M14.0 32.9h0M11.9 32.6h0M24.8 36.9h0M13.9 35.4h0M12.8 40.3h0M19.2 41.3h0M23.4 41.7h0M17.2 42.4h0" stroke="#f08a30" stroke-width="3.2" stroke-linecap="round" fill="none" opacity="0.55"/><path d="M6.8 24.7h0M3.4 20.9h0M9.4 13.1h0M3.1 13.7h0M5.2 26.8h0M7.2 13.6h0M13.0 11.1h0M6.9 20.4h0M5.2 19.9h0M7.7 26.8h0M3.1 19.8h0M5.7 23.9h0M9.3 28.4h0M4.6 21.6h0M26.5 40.2h0M12.9 40.8h0M20.9 39.1h0M10.9 38.4h0M17.7 37.5h0M16.3 36.5h0M9.7 36.9h0M15.4 37.2h0M13.1 32.8h0" stroke="#f29a34" stroke-width="3.2" stroke-linecap="round" fill="none" opacity="0.55"/><path d="M11.7 19.7h0M14.5 24.3h0M10.4 24.9h0M11.5 20.3h0M16.5 21.3h0M12.7 15.1h0M15.7 14.0h0M14.9 22.0h0M9.7 22.0h0M18.7 27.9h0M25.3 36.2h0M18.1 34.0h0" stroke="#f5c038" stroke-width="3.2" stroke-linecap="round" fill="none" opacity="0.55"/><path d="M5.4 25.8h0M1.9 19.8h0M4.8 19.9h0M7.8 15.0h0M5.4 20.1h0M3.8 23.7h0M5.8 16.7h0M3.8 17.7h0M11.9 37.6h0M23.8 40.4h0M19.4 39.4h0M24.9 40.1h0M10.8 37.8h0M18.6 39.9h0M15.7 42.8h0M14.9 42.8h0M12.6 40.7h0" stroke="#ee7a2c" stroke-width="3.2" stroke-linecap="round" fill="none" opacity="0.55"/><path d="M10.8 22.5h0M9.5 21.1h0M13.2 12.7h0M12.5 12.8h0M12.8 33.6h0" stroke="#f3c834" stroke-width="3.2" stroke-linecap="round" fill="none" opacity="0.55"/><path d="M14.4 14.4h0M13.1 21.7h0M10.5 29.5h0M12.2 27.2h0M8.8 21.6h0M13.9 14.6h0M15.2 23.0h0M13.5 32.3h0M18.0 37.6h0M22.9 37.7h0M17.2 32.6h0M22.1 35.4h0M22.5 37.4h0" stroke="#f4a834" stroke-width="3.2" stroke-linecap="round" fill="none" opacity="0.55"/><path d="M14.0 24.5h0M15.6 23.1h0M11.3 20.8h0M12.1 15.9h0M10.0 23.9h0M18.8 25.4h0M18.9 29.3h0M15.7 23.3h0M20.0 27.0h0M19.3 28.9h0M14.0 26.6h0M14.0 28.2h0M15.6 22.4h0M14.6 29.1h0M26.3 36.1h0M20.1 34.7h0M10.4 32.0h0M24.0 33.5h0" stroke="#f6d040" stroke-width="3.2" stroke-linecap="round" fill="none" opacity="0.55"/><path d="M14.8 25.0h0M13.1 19.1h0M12.6 20.9h0M7.7 17.9h0M15.4 25.4h0M14.9 22.3h0M17.3 36.5h0M17.9 33.1h0M21.1 35.0h0M22.2 36.5h0M27.4 36.4h0M20.7 32.2h0M17.7 30.4h0M20.6 30.9h0" stroke="#f8e04a" stroke-width="3.2" stroke-linecap="round" fill="none" opacity="0.55"/></g><g filter="url(#bl2)"><path d="M4.3 15.0h0M8.3 13.5h0M5.2 12.5h0M9.4 13.1h0M5.2 26.8h0M6.0 14.0h0M2.9 15.2h0M5.4 14.7h0M8.4 19.7h0M4.0 16.3h0M6.8 20.0h0M7.8 15.0h0M6.1 25.3h0M3.3 16.6h0M7.4 24.7h0M8.6 14.3h0M9.6 11.6h0M7.2 24.1h0M2.9 17.3h0M6.3 21.9h0M6.0 23.7h0M2.8 21.6h0M6.4 18.5h0M12.1 10.2h0M3.8 17.7h0M4.6 21.6h0M18.1 42.5h0M10.1 31.7h0M23.8 40.4h0M23.9 41.4h0M16.5 41.4h0M18.0 37.6h0M15.2 39.6h0M19.4 39.4h0M10.7 37.0h0M25.7 40.2h0M22.9 37.7h0M16.6 37.8h0M20.9 39.1h0M16.6 39.6h0M23.4 36.1h0M14.4 37.0h0M12.9 35.5h0M21.9 40.6h0M11.9 40.7h0M23.2 39.5h0M13.0 37.6h0M22.8 38.5h0M10.6 32.1h0M15.4 37.2h0M10.4 34.8h0" stroke="#f08a30" stroke-width="1.2" stroke-linecap="round" fill="none" opacity="0.75"/><path d="M11.6 26.4h0M15.2 14.6h0M10.8 22.5h0M8.1 20.6h0M14.0 24.5h0M9.1 17.6h0M13.1 21.7h0M16.5 21.3h0M11.0 18.8h0M15.9 19.2h0M11.0 14.4h0M11.7 15.0h0M13.0 11.1h0M13.9 17.3h0M12.6 20.9h0M10.9 20.3h0M12.1 25.0h0M11.9 11.3h0M16.3 20.8h0M13.8 22.2h0M12.5 14.3h0M15.1 20.0h0M15.7 23.3h0M20.0 27.0h0M22.5 30.1h0M17.2 25.5h0M17.4 32.0h0M19.0 37.4h0M26.6 36.7h0M22.6 32.1h0M22.1 35.4h0M18.4 30.2h0M17.1 31.4h0M20.3 31.7h0" stroke="#f3c834" stroke-width="1.2" stroke-linecap="round" fill="none" opacity="0.75"/><path d="M8.0 20.1h0M9.2 27.3h0M5.8 21.0h0M10.1 29.3h0M6.9 14.8h0M6.2 25.7h0M5.6 13.7h0M1.9 19.8h0M7.2 13.6h0M9.5 21.1h0M7.9 18.1h0M5.0 20.3h0M6.3 25.8h0M6.9 20.4h0M9.5 22.1h0M4.4 16.8h0M6.4 13.5h0M7.7 17.9h0M7.4 17.0h0M3.2 15.2h0M5.1 26.1h0M10.5 29.5h0M4.3 13.3h0M3.6 22.6h0M5.7 23.9h0M3.1 13.4h0M5.4 26.6h0M6.0 11.6h0M4.1 15.4h0M5.8 16.7h0M4.1 16.1h0M9.3 28.4h0M2.5 21.9h0M4.9 23.3h0M8.0 15.1h0M7.0 22.8h0M25.3 36.2h0M23.8 38.2h0M26.5 40.2h0M14.3 35.4h0M11.0 33.8h0M24.4 36.3h0M23.7 40.5h0M20.7 42.4h0M24.9 40.1h0M18.1 41.5h0M11.4 35.0h0M20.1 39.1h0M21.2 37.2h0M17.3 42.4h0M19.8 40.4h0M15.2 42.5h0M18.5 38.3h0M11.1 37.5h0M14.9 42.8h0M21.0 41.2h0M17.1 41.0h0M25.3 36.4h0M25.5 39.4h0M14.5 41.0h0M10.3 38.7h0" stroke="#ee7a2c" stroke-width="1.2" stroke-linecap="round" fill="none" opacity="0.75"/><path d="M6.8 24.7h0M5.2 16.1h0M4.4 18.6h0M6.9 28.3h0M6.5 20.1h0M10.6 10.7h0M2.9 23.5h0M5.0 24.2h0M2.8 15.2h0M2.8 22.9h0M2.1 19.5h0M3.8 23.7h0M3.4 16.4h0M2.2 22.2h0M8.3 26.2h0M4.5 19.9h0M4.7 19.5h0M14.3 40.8h0M11.9 37.6h0M15.9 36.2h0M9.8 34.1h0M18.0 40.9h0M22.9 35.8h0M20.3 41.5h0M21.7 42.5h0M18.4 42.3h0M10.5 33.3h0M23.6 38.9h0M23.6 37.8h0M10.8 35.3h0M16.9 37.7h0M18.7 35.5h0M27.4 36.4h0M17.4 41.3h0M10.9 38.4h0M26.4 40.2h0M10.4 32.0h0M16.9 40.6h0M22.0 41.3h0M23.0 39.6h0M21.7 37.9h0M9.7 36.9h0M22.5 40.5h0M12.6 40.7h0M14.6 35.8h0M12.4 38.2h0M13.1 32.8h0M9.7 34.9h0M12.9 36.1h0" stroke="#e86a28" stroke-width="1.2" stroke-linecap="round" fill="none" opacity="0.75"/><path d="M13.9 16.6h0M11.7 19.7h0M13.1 14.7h0M15.3 15.0h0M10.4 24.9h0M10.9 20.2h0M10.5 18.0h0M14.9 25.7h0M8.6 20.5h0M15.6 19.0h0M10.1 29.4h0M13.1 12.5h0M11.2 20.3h0M10.9 21.7h0M12.2 27.2h0M9.6 23.8h0M12.6 26.7h0M13.3 18.8h0M16.1 26.7h0M22.2 29.6h0M17.9 29.5h0M14.9 22.3h0M14.0 28.2h0M19.3 29.6h0M21.1 35.0h0M14.0 32.9h0M20.0 32.3h0M21.4 32.7h0M24.0 33.5h0M17.5 35.5h0M17.2 32.6h0M16.4 31.1h0M25.6 36.4h0M21.9 32.6h0M15.6 33.1h0M22.5 37.4h0" stroke="#f8e04a" stroke-width="1.2" stroke-linecap="round" fill="none" opacity="0.75"/><path d="M3.4 20.9h0M5.0 12.4h0M3.1 13.7h0M6.3 24.4h0M3.3 19.2h0M5.4 25.8h0M4.3 24.5h0M9.1 26.9h0M3.5 16.6h0M4.8 19.9h0M7.9 10.1h0M10.6 14.4h0M8.3 10.4h0M9.8 11.1h0M5.7 26.4h0M8.0 14.2h0M10.5 13.5h0M5.4 20.1h0M5.2 19.9h0M6.0 12.9h0M7.7 26.8h0M6.7 10.5h0M4.5 18.6h0M3.1 19.8h0M4.4 26.6h0M4.0 14.9h0M11.0 15.2h0M10.1 11.9h0M4.7 25.1h0M7.5 27.6h0M11.0 13.8h0M6.6 11.4h0M9.1 12.0h0M11.0 37.3h0M15.2 40.7h0M16.9 38.4h0M14.5 43.1h0M12.9 40.8h0M11.2 41.0h0M12.8 33.6h0M24.8 39.9h0M11.3 39.3h0M22.0 40.2h0M10.9 35.8h0M18.9 42.7h0M26.3 36.1h0M10.8 37.8h0M18.6 39.9h0M22.2 36.5h0M20.2 38.2h0M17.5 34.3h0M15.7 42.8h0M19.0 42.7h0M20.0 39.8h0M8.9 35.7h0M22.0 41.8h0M16.4 34.9h0M14.6 42.0h0M13.9 35.4h0M18.2 42.5h0M12.7 34.2h0M12.8 40.3h0M10.5 31.9h0M19.9 36.5h0M16.3 36.5h0M13.3 37.8h0M19.2 41.3h0M26.8 39.2h0M21.1 39.2h0M23.4 41.7h0M13.4 41.2h0M13.0 36.3h0M17.2 42.4h0" stroke="#f29a34" stroke-width="1.2" stroke-linecap="round" fill="none" opacity="0.75"/><path d="M15.2 24.8h0M11.2 26.6h0M10.1 26.0h0M9.2 21.3h0M12.4 17.6h0M15.7 14.0h0M15.6 23.1h0M15.4 25.4h0M13.8 12.6h0M14.4 15.4h0M13.0 26.9h0M12.5 12.8h0M11.4 19.0h0M14.9 22.0h0M13.9 14.6h0M9.7 22.0h0M15.7 18.0h0M18.7 27.9h0M18.8 25.4h0M22.1 30.0h0M20.0 29.0h0M14.0 26.6h0M22.1 30.1h0M15.2 23.0h0M14.7 26.6h0M13.5 32.3h0M26.6 35.3h0M17.9 33.1h0M12.1 30.5h0M22.7 31.6h0M16.6 31.1h0M17.5 31.7h0M13.2 33.9h0M11.9 32.6h0M18.6 33.9h0M16.7 34.7h0M24.9 38.5h0M17.2 30.0h0M14.6 30.6h0" stroke="#f4a834" stroke-width="1.2" stroke-linecap="round" fill="none" opacity="0.75"/><path d="M10.8 17.7h0M10.7 15.5h0M11.1 19.0h0M12.4 16.0h0M11.3 21.1h0M12.4 20.7h0M10.9 28.5h0M12.7 15.1h0M13.4 17.4h0M15.7 16.2h0M7.8 26.8h0M13.2 12.7h0M12.5 26.9h0M12.3 28.4h0M11.7 12.4h0M10.4 26.8h0M12.1 15.9h0M12.9 13.3h0M14.0 17.5h0M9.8 29.9h0M10.0 23.9h0M12.2 11.3h0M11.7 19.1h0M12.0 13.9h0M18.8 30.3h0M21.0 27.5h0M18.9 29.3h0M19.8 28.1h0M19.3 28.9h0M18.1 30.4h0M17.3 26.9h0M14.6 29.1h0M20.2 30.2h0M17.0 33.5h0M22.3 32.7h0M13.0 32.4h0M20.1 34.7h0M16.0 31.0h0M17.0 35.5h0M21.4 37.8h0M20.7 32.2h0M16.9 35.2h0" stroke="#f6d040" stroke-width="1.2" stroke-linecap="round" fill="none" opacity="0.75"/><path d="M14.5 24.3h0M8.9 20.8h0M14.4 14.4h0M11.3 20.8h0M10.3 26.0h0M11.5 20.3h0M9.7 26.6h0M14.8 25.0h0M10.8 13.6h0M13.1 19.1h0M11.3 20.8h0M8.8 21.6h0M14.4 17.3h0M10.6 23.6h0M13.1 26.2h0M13.8 27.3h0M9.4 21.9h0M17.7 27.9h0M17.8 24.5h0M18.2 24.3h0M15.2 27.4h0M21.0 30.6h0M15.9 26.6h0M14.8 23.9h0M15.9 25.7h0M15.6 22.4h0M17.3 36.5h0M15.9 30.0h0M25.8 33.9h0M18.5 34.3h0M24.8 36.9h0M20.2 37.6h0M18.1 34.0h0M22.3 38.0h0M17.7 37.5h0M23.5 37.3h0M19.4 32.8h0M17.7 30.4h0M20.6 30.9h0M25.9 35.0h0" stroke="#f5c038" stroke-width="1.2" stroke-linecap="round" fill="none" opacity="0.75"/><path d="M10.0 11.7h0M3.3 24.0h0M12.3 21.7h0M11.0 10.1h0M7.0 26.3h0M7.6 22.3h0M11.1 12.6h0M6.3 11.6h0M10.5 10.3h0M6.0 22.1h0M15.4 21.0h0M6.9 24.3h0M15.5 24.1h0M6.1 23.4h0M8.3 27.3h0M5.1 26.5h0M11.9 25.2h0M5.8 11.6h0M7.2 26.7h0M9.9 19.7h0M13.0 15.1h0M4.4 19.6h0M6.9 27.6h0M15.0 19.4h0M4.5 23.3h0M12.5 16.1h0M12.4 25.6h0M7.4 15.3h0M13.4 17.2h0M12.0 13.1h0M12.9 19.4h0M14.9 18.1h0M15.8 21.6h0M9.3 10.2h0M11.2 27.1h0M6.4 13.4h0M2.2 21.0h0M12.4 13.3h0M12.4 22.9h0M12.9 18.6h0M13.4 14.2h0M16.5 21.1h0M11.0 10.9h0M5.7 25.1h0M2.1 20.0h0M16.0 32.3h0M15.1 29.9h0M23.5 34.8h0M21.2 36.9h0M20.9 31.2h0M13.8 40.3h0M16.5 41.0h0M22.7 40.9h0M21.0 31.8h0M11.7 41.6h0M17.8 38.8h0M23.5 42.1h0M14.6 35.0h0M19.2 43.1h0M19.1 36.7h0M16.6 35.8h0M18.9 36.3h0M22.2 42.1h0M21.7 41.4h0M21.3 31.2h0M15.6 42.2h0M11.9 34.0h0M24.4 37.7h0M19.5 30.2h0M14.8 43.4h0M23.4 41.7h0M21.3 39.5h0M23.6 33.2h0M16.3 36.9h0M19.5 33.9h0M15.0 42.5h0M18.4 38.9h0M9.4 33.7h0M11.9 31.3h0M15.4 33.5h0M26.3 35.2h0M25.4 39.7h0M21.5 33.5h0M17.9 35.5h0M16.5 33.4h0M17.0 25.8h0M18.8 29.7h0M16.8 22.4h0M16.8 22.8h0M14.9 23.6h0M21.8 29.9h0M19.6 25.6h0M17.0 23.0h0M21.5 28.6h0M14.5 27.9h0" stroke="#ffffff" stroke-width="0.9" stroke-linecap="round" fill="none" opacity="0.5"/></g><path d="M23.9 6.1h0M26.9 12.7h0M27.5 10.4h0M28.4 9.9h0M23.0 6.0h0M22.2 11.3h0M23.1 8.0h0M21.2 12.2h0M28.8 12.6h0M18.2 8.8h0M20.3 10.6h0M27.5 10.8h0M21.3 7.3h0M19.9 7.0h0M25.3 10.1h0M19.9 9.1h0M28.5 11.3h0M20.8 12.0h0M28.1 11.6h0M18.1 12.3h0M18.5 7.4h0M17.2 8.3h0M19.6 11.3h0M18.0 9.2h0M17.8 8.0h0M17.1 6.4h0M22.7 7.8h0M18.2 9.6h0M17.2 13.8h0M27.1 6.7h0M26.5 12.4h0M25.1 6.8h0M17.2 4.6h0M17.2 13.1h0M16.2 8.2h0M28.1 5.4h0M28.8 6.2h0" stroke="#98cf8e" stroke-width="0.85" stroke-linecap="round" fill="none" opacity="0.72"/><path d="M23.0 12.8h0M24.1 12.7h0M24.1 9.2h0M26.0 11.5h0M25.9 10.5h0M22.5 8.5h0M20.9 6.1h0M23.9 9.8h0M26.4 8.3h0M19.0 11.1h0M24.1 13.8h0M20.3 10.7h0M28.4 9.3h0M21.8 10.9h0M27.4 8.3h0M19.8 11.6h0M19.5 5.1h0M21.6 9.6h0M26.0 8.6h0M17.2 11.1h0M24.1 7.2h0M27.3 7.3h0M20.9 12.3h0M22.3 11.9h0M22.2 6.4h0M22.4 11.1h0M20.1 9.1h0M27.2 6.4h0M19.8 4.6h0M18.9 9.6h0M23.8 12.3h0M25.7 11.2h0M21.5 7.7h0M24.0 8.4h0M25.4 7.5h0M18.6 4.6h0M17.5 10.2h0M19.2 3.7h0M18.9 3.9h0M21.3 3.2h0M16.1 11.7h0M22.7 3.9h0M21.0 2.8h0M16.5 11.7h0M17.1 6.9h0M21.5 2.9h0M24.4 4.6h0" stroke="#b2dca6" stroke-width="0.85" stroke-linecap="round" fill="none" opacity="0.72"/><path d="M25.0 12.2h0M24.7 10.6h0M21.2 6.5h0M25.9 10.3h0M20.6 10.0h0M27.3 8.8h0M27.8 8.2h0M17.9 7.4h0M19.8 7.7h0M20.9 5.2h0M28.1 8.3h0M21.5 5.0h0M20.1 7.2h0M20.4 5.2h0M17.7 7.4h0M20.7 13.8h0M27.8 9.2h0M26.2 12.6h0M19.6 8.9h0M23.0 4.9h0M21.1 12.5h0M20.8 11.2h0M21.9 13.6h0M20.6 12.7h0M27.8 8.7h0M18.5 3.6h0M16.9 7.4h0M17.4 8.5h0M22.3 3.0h0M25.4 4.2h0" stroke="#66b56a" stroke-width="0.85" stroke-linecap="round" fill="none" opacity="0.72"/><path d="M27.2 8.6h0M22.8 6.4h0M21.3 10.4h0M22.8 7.2h0M23.7 13.6h0M22.8 6.9h0M24.7 11.2h0M22.6 7.1h0M20.3 7.3h0M18.3 9.3h0M18.9 6.3h0M28.1 9.2h0M21.3 10.1h0M18.3 5.6h0M28.2 7.5h0M21.5 12.7h0M23.4 8.5h0M26.3 8.7h0M25.8 8.8h0M24.6 5.8h0M27.0 5.6h0M23.9 4.2h0M17.7 4.3h0M27.5 6.4h0M21.1 6.1h0M16.3 9.5h0M22.1 3.6h0M20.3 3.6h0M20.3 3.1h0M16.2 6.6h0M18.3 4.8h0" stroke="#7cc07c" stroke-width="0.85" stroke-linecap="round" fill="none" opacity="0.72"/><path d="M34.3 21.1h0M30.3 20.4h0M29.4 26.3h0M33.4 27.5h0M30.4 24.9h0M33.7 17.8h0M32.3 28.8h0M33.7 30.7h0M32.0 19.6h0M35.9 24.0h0M33.1 30.5h0M31.1 22.4h0M39.5 28.1h0M36.4 30.8h0M31.1 18.0h0M30.5 23.6h0M32.2 25.8h0M33.1 18.2h0M32.2 17.3h0M33.3 34.2h0M38.0 23.1h0M19.1 19.7h0M36.5 19.0h0M23.1 18.6h0M33.2 21.7h0M19.3 17.2h0M26.9 31.0h0M31.4 17.0h0M23.5 14.9h0M32.5 27.9h0M30.0 9.6h0M25.3 18.1h0M29.4 17.1h0M21.2 23.7h0M31.9 30.3h0M40.8 26.2h0M25.9 26.3h0M24.1 17.4h0M38.1 20.2h0M30.6 27.4h0M27.7 20.0h0M35.5 14.9h0M24.7 21.1h0M34.9 19.0h0M39.8 23.0h0M34.7 29.6h0M34.9 15.9h0M35.4 20.7h0M28.3 30.2h0M36.1 16.5h0M31.2 20.4h0M30.1 10.4h0M30.5 21.2h0M36.1 17.3h0M31.0 14.5h0M37.2 21.3h0M34.8 13.2h0M25.2 23.8h0M37.5 27.8h0M31.1 35.5h0M38.8 27.7h0M26.4 22.3h0M33.0 17.7h0M35.1 18.8h0M38.0 16.7h0M17.6 18.6h0M31.6 26.5h0M29.3 27.6h0M38.2 19.0h0M34.0 28.4h0M31.8 32.5h0M29.8 36.5h0M24.9 33.7h0M34.2 12.2h0M28.6 35.0h0M25.5 34.1h0M38.7 16.8h0M31.6 37.1h0M32.9 9.5h0M41.0 21.0h0M41.0 22.8h0M40.5 21.0h0M34.4 34.7h0M40.2 18.2h0M41.5 26.9h0M26.5 35.9h0" stroke="#8fc890" stroke-width="0.85" stroke-linecap="round" fill="none" opacity="0.72"/><path d="M38.3 25.2h0M35.4 30.5h0M33.0 31.6h0M33.6 19.0h0M30.3 17.3h0M35.4 19.1h0M30.1 24.3h0M35.9 21.6h0M32.4 30.1h0M39.4 27.7h0M30.7 28.6h0M32.9 15.7h0M35.1 17.7h0M30.3 29.3h0M34.7 28.1h0M31.5 18.3h0M34.3 29.6h0M34.8 17.4h0M36.6 29.3h0M29.4 25.0h0M39.5 26.7h0M36.4 27.7h0M35.7 18.6h0M37.1 23.2h0M39.5 19.1h0M24.6 17.1h0M25.7 19.9h0M29.2 19.9h0M37.6 27.6h0M30.4 25.5h0M23.8 24.3h0M26.6 18.9h0M36.9 32.3h0M30.6 20.4h0M30.9 25.1h0M38.8 28.6h0M22.6 21.3h0M39.7 24.3h0M30.0 30.4h0M40.0 23.0h0M30.1 19.3h0M30.4 14.3h0M33.5 13.9h0M35.7 32.3h0M37.3 28.8h0M29.1 8.6h0M33.8 22.4h0M19.8 24.0h0M33.2 27.3h0M26.9 34.5h0M34.3 26.8h0M30.9 26.0h0M32.3 33.4h0M33.2 19.4h0M29.6 13.4h0M27.4 27.8h0M29.0 30.7h0M33.6 29.8h0M32.9 32.6h0M36.3 20.3h0M31.8 9.1h0M19.9 26.3h0M20.1 27.0h0M29.9 7.0h0M25.6 35.4h0M18.3 22.0h0M38.3 14.9h0M24.0 31.7h0M31.7 11.1h0M35.6 33.4h0M35.3 33.2h0M19.7 25.5h0" stroke="#c2e2b8" stroke-width="0.85" stroke-linecap="round" fill="none" opacity="0.72"/><path d="M33.1 25.4h0M35.4 31.4h0M37.8 29.6h0M33.2 16.7h0M36.7 20.8h0M29.9 19.1h0M30.6 26.7h0M37.4 29.1h0M32.5 24.5h0M37.6 29.4h0M36.5 21.9h0M37.2 20.6h0M30.7 21.0h0M29.0 16.3h0M33.7 17.8h0M21.6 18.4h0M34.4 15.6h0M20.9 17.7h0M31.1 21.6h0M34.5 27.3h0M31.6 31.2h0M31.7 30.4h0M27.1 18.0h0M21.0 24.9h0M32.5 24.4h0M19.5 21.5h0M30.3 29.2h0M23.7 17.9h0M23.3 25.5h0M28.3 19.5h0M20.1 16.2h0M30.9 19.7h0M18.2 20.8h0M37.9 17.0h0M23.7 19.3h0M31.8 35.1h0M22.7 22.6h0M38.6 28.6h0M30.6 9.3h0M27.0 34.8h0M35.7 32.9h0M35.2 25.0h0M32.5 20.7h0M27.6 20.1h0M29.7 19.6h0M38.5 26.2h0M32.1 32.2h0M20.0 15.3h0M36.5 20.5h0M28.9 15.8h0M29.9 11.6h0M17.6 16.8h0M34.2 20.5h0M23.0 27.1h0M25.7 20.8h0M29.1 15.2h0M25.7 24.9h0M28.7 32.2h0M28.8 16.2h0M17.4 18.3h0M21.9 26.4h0M29.1 8.6h0M22.0 29.6h0M37.1 27.8h0M22.0 31.3h0M40.7 24.4h0M27.7 36.0h0M38.3 30.6h0M31.8 8.9h0M37.4 14.7h0M39.4 16.5h0" stroke="#a9d6a0" stroke-width="0.85" stroke-linecap="round" fill="none" opacity="0.72"/><path d="M19.6 17.2h0M28.1 35.0h0M25.1 15.0h0M28.3 27.1h0M26.1 14.1h0M22.3 25.1h0M28.2 17.2h0M22.6 26.8h0M25.0 23.3h0M28.2 16.8h0M21.7 18.9h0M25.6 22.0h0M25.8 25.5h0M23.6 21.1h0M28.2 30.4h0M27.5 33.3h0M26.1 34.1h0" stroke="#d8eed0" stroke-width="0.85" stroke-linecap="round" fill="none" opacity="0.72"/><path d="M26.8 23.5h0M22.4 20.5h0M28.9 15.7h0M27.2 24.0h0M23.2 18.4h0M26.6 23.5h0M20.8 21.1h0M27.3 22.9h0M21.9 22.3h0M25.1 14.6h0M19.4 19.9h0M23.7 17.9h0M26.7 30.0h0M28.4 30.1h0M28.1 18.0h0M18.6 18.6h0" stroke="#f3e6c4" stroke-width="0.85" stroke-linecap="round" fill="none" opacity="0.72"/><circle cx="32.6" cy="37.6" r="1.5" fill="#5e8a3c" filter="url(#bl2)"/></g>
<g transform="translate(148.4,82.6)"><rect x="0" y="0" width="44" height="44" fill="#fff" stroke="#c8c8cc" stroke-width="0.8"/><path d="M17.0 4.5 L21.5 3.0 L27.0 5.0 L33.0 11.0 L40.0 18.0 L41.0 26.0 L37.5 32.5 L31.0 36.5 L26.0 35.0 L22.0 30.0 L18.0 22.0 L16.5 14.0Z" fill="#f6f9f0" opacity="0.6" filter="url(#bl)"/><g filter="url(#bl)" opacity="0.8"><path d="M6.8 15.4h0M2.5 18.8h0M8.1 16.1h0M7.4 28.3h0M6.5 28.2h0M7.1 22.9h0M8.8 15.8h0M2.7 19.7h0M25.9 38.2h0M15.2 36.1h0M9.7 36.8h0M16.9 40.8h0M21.6 38.5h0M22.2 37.1h0M10.8 35.5h0" stroke="#f29a34" stroke-width="3.2" stroke-linecap="round" fill="none" opacity="0.55"/><path d="M4.3 13.1h0M6.4 12.9h0M6.1 11.1h0M11.2 10.0h0M4.6 18.9h0M10.4 29.4h0M7.7 12.2h0M3.1 15.4h0M4.1 26.5h0M4.4 15.6h0M8.2 13.2h0M8.7 13.4h0M11.8 11.1h0M8.1 11.6h0M20.1 40.8h0M22.1 40.5h0M21.4 40.8h0M10.9 40.9h0M17.9 37.2h0M12.5 36.5h0M22.5 38.9h0M17.0 39.5h0M26.7 37.1h0M26.5 40.2h0" stroke="#e86a28" stroke-width="3.2" stroke-linecap="round" fill="none" opacity="0.55"/><path d="M11.6 14.2h0M4.0 23.5h0M4.9 11.7h0M12.7 11.5h0M7.7 14.5h0M5.3 27.8h0M27.0 40.1h0M13.4 40.2h0M15.2 35.5h0M23.0 39.2h0M24.3 39.8h0M16.7 41.2h0M14.3 34.6h0M11.5 37.2h0M20.0 42.5h0M12.3 42.0h0M13.0 35.4h0M18.9 37.9h0M26.7 37.5h0M13.8 40.5h0" stroke="#f08a30" stroke-width="3.2" stroke-linecap="round" fill="none" opacity="0.55"/><path d="M13.7 17.1h0M11.5 14.4h0M12.8 12.7h0M15.2 17.3h0M11.3 25.8h0M14.2 12.8h0M7.6 22.8h0M11.3 27.9h0M14.3 27.5h0M16.5 23.5h0M24.4 36.4h0M21.4 37.9h0M21.8 34.4h0" stroke="#f5c038" stroke-width="3.2" stroke-linecap="round" fill="none" opacity="0.55"/><path d="M13.0 27.3h0M8.8 25.8h0M11.8 27.2h0M15.7 17.9h0M11.9 28.5h0M13.9 13.5h0M16.0 21.7h0M8.4 22.8h0M16.5 28.1h0M18.9 25.8h0M15.1 27.3h0M17.1 25.2h0M17.5 24.8h0M25.7 35.2h0M14.0 32.8h0M18.0 31.1h0M21.8 33.2h0M16.1 31.0h0M24.5 37.6h0" stroke="#f8e04a" stroke-width="3.2" stroke-linecap="round" fill="none" opacity="0.55"/><path d="M4.2 12.8h0M5.0 23.7h0M8.3 27.3h0M7.1 19.6h0M7.2 20.3h0M5.7 15.3h0M4.0 21.4h0M6.0 26.1h0M6.2 15.0h0M22.6 42.0h0M10.4 37.7h0M12.5 39.8h0M18.3 39.8h0M12.3 33.6h0M18.2 36.2h0M17.8 41.0h0M10.5 39.7h0" stroke="#ee7a2c" stroke-width="3.2" stroke-linecap="round" fill="none" opacity="0.55"/><path d="M12.9 17.4h0M12.2 28.5h0M13.7 20.0h0M15.7 17.5h0M21.0 31.4h0" stroke="#f6d040" stroke-width="3.2" stroke-linecap="round" fill="none" opacity="0.55"/><path d="M10.2 19.6h0M13.2 16.9h0M8.8 16.8h0M14.1 20.2h0M20.0 25.8h0M16.3 24.3h0M21.1 32.5h0M21.6 35.3h0M19.1 34.6h0M24.2 36.7h0M20.8 32.1h0" stroke="#f4a834" stroke-width="3.2" stroke-linecap="round" fill="none" opacity="0.55"/><path d="M12.0 12.8h0M10.9 20.3h0M12.3 23.5h0M12.8 25.2h0M9.6 23.6h0M11.8 21.1h0M15.1 19.3h0M10.3 14.7h0M14.9 21.4h0M18.2 28.0h0M17.9 24.1h0M14.7 22.6h0M19.9 36.2h0M24.0 33.9h0M23.4 31.7h0M16.0 36.4h0M25.2 35.0h0M24.5 33.1h0" stroke="#f3c834" stroke-width="3.2" stroke-linecap="round" fill="none" opacity="0.55"/></g><g filter="url(#bl2)"><path d="M6.8 15.4h0M6.4 12.9h0M1.9 18.7h0M5.0 23.7h0M11.5 14.4h0M7.1 19.6h0M8.1 16.1h0M7.2 20.3h0M5.4 21.6h0M3.6 23.6h0M7.5 10.2h0M6.7 17.7h0M8.6 13.5h0M6.3 20.8h0M11.4 13.4h0M4.1 26.5h0M3.7 13.7h0M5.2 23.1h0M10.5 10.1h0M3.8 17.9h0M8.7 9.9h0M6.1 27.6h0M6.7 12.0h0M5.3 27.8h0M25.8 38.5h0M20.1 40.8h0M13.8 41.5h0M13.4 40.2h0M21.2 39.1h0M10.9 40.9h0M25.9 38.2h0M26.7 38.9h0M20.2 38.3h0M16.7 41.2h0M26.6 40.6h0M16.1 37.4h0M27.2 37.3h0M11.5 37.2h0M12.0 40.4h0M18.7 37.3h0M14.0 41.2h0M10.5 34.3h0M20.2 39.6h0M13.1 35.3h0M22.2 37.1h0M21.3 42.7h0M10.8 35.5h0" stroke="#f08a30" stroke-width="1.2" stroke-linecap="round" fill="none" opacity="0.75"/><path d="M13.7 14.3h0M13.1 26.6h0M8.3 27.3h0M10.2 19.6h0M13.7 19.9h0M13.7 20.0h0M12.3 19.5h0M10.8 17.3h0M15.2 17.3h0M9.4 19.5h0M9.5 20.3h0M11.1 22.7h0M13.1 16.9h0M9.6 23.6h0M10.1 23.1h0M18.9 29.2h0M17.9 24.1h0M18.9 25.8h0M15.1 27.3h0M19.1 28.2h0M21.5 29.7h0M20.3 37.3h0M19.7 36.1h0M18.6 31.5h0M20.6 32.2h0M20.0 30.9h0M15.3 29.9h0M18.0 32.8h0M21.6 35.3h0M13.9 35.9h0M24.5 37.6h0M19.3 30.4h0M17.7 32.1h0M25.0 33.2h0M20.8 32.1h0M15.4 34.1h0" stroke="#f5c038" stroke-width="1.2" stroke-linecap="round" fill="none" opacity="0.75"/><path d="M12.1 11.8h0M14.8 19.9h0M12.2 28.5h0M12.0 12.8h0M9.3 20.9h0M8.5 16.7h0M10.9 20.3h0M13.7 11.5h0M8.0 22.6h0M15.7 17.5h0M14.7 18.2h0M15.5 24.2h0M10.2 15.6h0M14.1 12.1h0M12.5 25.5h0M12.6 14.6h0M11.8 21.1h0M13.9 13.5h0M15.1 19.3h0M10.3 14.7h0M14.9 21.4h0M14.8 24.1h0M14.7 22.6h0M16.3 24.3h0M17.1 25.8h0M16.5 23.5h0M19.9 26.6h0M19.9 36.2h0M26.7 36.7h0M25.7 35.2h0M15.4 33.8h0M14.3 34.6h0M21.8 33.2h0M18.0 30.6h0M23.4 31.7h0M14.8 32.4h0M21.0 31.4h0M15.9 33.1h0M21.8 34.4h0" stroke="#f8e04a" stroke-width="1.2" stroke-linecap="round" fill="none" opacity="0.75"/><path d="M4.3 13.1h0M8.8 25.8h0M5.7 24.1h0M4.4 19.1h0M11.1 14.8h0M4.0 23.5h0M4.4 15.5h0M3.9 16.0h0M7.7 19.5h0M8.8 16.8h0M11.2 10.0h0M5.7 15.3h0M6.2 20.2h0M6.5 28.2h0M4.8 21.3h0M6.8 27.5h0M4.3 25.7h0M7.7 12.2h0M5.9 28.4h0M8.9 17.5h0M3.1 15.4h0M6.4 19.9h0M8.7 13.4h0M11.8 11.1h0M10.1 27.9h0M2.1 16.6h0M4.6 12.2h0M7.6 22.8h0M10.0 29.6h0M12.0 11.9h0M8.1 13.0h0M8.4 22.8h0M13.5 42.8h0M20.4 41.6h0M22.6 42.0h0M20.4 39.3h0M15.2 35.5h0M11.3 33.5h0M15.1 41.2h0M15.2 36.1h0M9.8 37.8h0M24.3 39.8h0M13.2 41.8h0M19.5 43.3h0M10.4 35.9h0M19.6 41.8h0M16.9 40.8h0M24.4 41.2h0M25.7 37.9h0M17.7 40.4h0M12.3 33.6h0M24.7 40.0h0M23.5 41.6h0M22.5 38.9h0M17.8 41.0h0M17.0 39.5h0M13.0 35.4h0M16.0 36.4h0M22.7 38.3h0M14.6 41.4h0M10.4 40.6h0M22.1 41.6h0M16.5 38.3h0M10.2 35.4h0M18.9 43.1h0M22.0 40.6h0M23.9 39.2h0" stroke="#f29a34" stroke-width="1.2" stroke-linecap="round" fill="none" opacity="0.75"/><path d="M11.9 22.2h0M11.6 14.2h0M13.7 17.1h0M12.0 26.9h0M13.1 25.2h0M13.5 17.5h0M11.0 27.3h0M10.9 17.4h0M8.1 25.1h0M11.1 16.2h0M12.8 12.7h0M15.1 24.1h0M13.2 16.9h0M8.6 24.3h0M10.4 22.0h0M12.3 16.1h0M11.3 27.9h0M12.0 19.9h0M13.5 13.4h0M14.5 16.2h0M20.0 25.8h0M14.9 26.1h0M16.3 22.3h0M18.2 29.9h0M17.6 29.3h0M17.5 24.8h0M21.3 28.7h0M21.6 35.5h0M18.0 31.1h0M15.9 30.0h0M22.0 31.2h0M19.1 34.6h0M18.2 36.2h0M26.7 37.1h0M19.1 31.1h0M18.3 36.0h0M24.5 33.1h0" stroke="#f4a834" stroke-width="1.2" stroke-linecap="round" fill="none" opacity="0.75"/><path d="M13.8 20.0h0M12.9 17.4h0M12.3 25.6h0M10.4 29.4h0M14.2 23.9h0M15.7 17.9h0M13.7 19.8h0M11.3 25.8h0M12.8 25.2h0M14.6 24.0h0M12.3 22.8h0M9.0 20.5h0M15.3 15.4h0M14.1 20.2h0M11.9 27.4h0M18.2 28.0h0M16.5 28.1h0M15.7 28.2h0M14.3 27.5h0M14.8 21.9h0M14.5 27.5h0M22.2 31.9h0M14.5 33.9h0M20.6 30.8h0M19.6 31.5h0M11.6 31.3h0M24.2 36.7h0M25.2 35.0h0M22.4 37.8h0M20.9 30.8h0" stroke="#f3c834" stroke-width="1.2" stroke-linecap="round" fill="none" opacity="0.75"/><path d="M5.4 18.4h0M10.6 13.0h0M7.9 16.7h0M7.0 19.0h0M6.4 18.4h0M3.9 26.8h0M7.5 10.6h0M4.8 21.6h0M6.8 16.9h0M7.3 21.1h0M6.1 11.1h0M4.6 18.9h0M7.4 28.3h0M5.9 14.1h0M7.3 20.3h0M4.0 21.4h0M3.3 22.0h0M3.3 14.1h0M11.1 11.0h0M6.0 26.1h0M6.2 15.0h0M5.3 11.4h0M2.8 13.9h0M8.8 15.8h0M2.7 19.7h0M3.9 22.4h0M3.5 24.6h0M4.4 20.7h0M7.0 18.7h0M3.2 18.9h0M6.4 13.1h0M27.0 40.1h0M9.9 34.8h0M22.1 40.5h0M11.6 32.8h0M21.4 40.8h0M10.4 37.7h0M9.7 36.8h0M21.2 37.6h0M9.5 37.5h0M23.1 41.8h0M14.6 36.2h0M15.5 39.2h0M18.3 39.8h0M22.4 42.8h0M16.0 41.6h0M9.4 37.1h0M27.0 38.0h0M12.6 30.2h0M12.6 34.9h0M17.1 41.0h0M26.1 38.9h0M12.3 42.0h0M10.9 38.5h0M16.7 42.7h0M10.3 36.3h0M21.6 38.5h0M18.9 37.9h0M26.7 37.5h0M25.4 40.5h0M26.8 39.3h0M13.8 40.5h0M13.9 35.2h0" stroke="#ee7a2c" stroke-width="1.2" stroke-linecap="round" fill="none" opacity="0.75"/><path d="M3.5 14.7h0M2.8 14.1h0M2.5 18.8h0M4.2 12.8h0M7.4 22.1h0M2.5 16.9h0M7.9 11.6h0M8.4 26.9h0M7.5 23.3h0M6.9 12.0h0M7.3 28.0h0M7.7 27.3h0M9.7 10.6h0M6.9 17.3h0M5.6 23.5h0M7.1 22.9h0M5.4 25.3h0M6.5 22.9h0M4.9 11.7h0M8.0 16.9h0M6.8 23.1h0M6.9 16.6h0M4.4 15.6h0M8.2 13.2h0M7.7 14.5h0M2.2 20.9h0M10.1 25.7h0M9.7 24.8h0M10.0 28.5h0M8.1 11.6h0M8.7 20.6h0M5.2 21.4h0M13.3 40.4h0M17.2 34.4h0M25.0 40.0h0M16.6 42.2h0M14.6 38.4h0M14.0 32.8h0M23.0 39.2h0M26.5 39.5h0M19.1 41.8h0M20.8 41.9h0M23.6 39.2h0M12.5 39.8h0M11.5 30.8h0M25.6 40.0h0M17.9 37.2h0M12.5 40.0h0M20.0 42.5h0M24.2 40.3h0M12.5 36.5h0M18.8 39.5h0M24.9 40.0h0M13.2 42.1h0M22.3 38.3h0M11.5 31.9h0M10.5 39.7h0M18.0 36.8h0M21.4 37.9h0M10.5 40.9h0M15.4 34.0h0M26.5 40.2h0M24.3 41.2h0M12.2 39.1h0" stroke="#e86a28" stroke-width="1.2" stroke-linecap="round" fill="none" opacity="0.75"/><path d="M13.0 27.3h0M10.2 17.1h0M11.2 20.3h0M11.8 27.2h0M10.2 21.7h0M13.9 23.6h0M10.6 19.0h0M12.5 13.1h0M12.9 16.7h0M12.4 17.9h0M12.7 11.5h0M12.3 23.5h0M15.0 21.1h0M11.9 28.5h0M11.1 24.7h0M11.0 23.4h0M14.2 12.8h0M12.4 28.9h0M16.0 21.7h0M12.4 20.2h0M14.6 25.5h0M17.9 27.1h0M18.3 27.7h0M16.1 23.7h0M17.1 30.4h0M15.2 25.4h0M17.3 23.4h0M19.0 27.1h0M17.6 30.7h0M17.1 25.2h0M23.7 32.1h0M20.5 37.4h0M24.4 36.4h0M21.9 38.2h0M21.1 32.5h0M18.9 31.1h0M12.8 32.7h0M16.1 31.0h0M24.0 33.9h0M25.8 34.5h0M17.6 33.9h0M16.0 33.0h0" stroke="#f6d040" stroke-width="1.2" stroke-linecap="round" fill="none" opacity="0.75"/><path d="M9.5 16.3h0M12.3 14.8h0M3.1 16.2h0M3.7 22.4h0M8.5 15.8h0M10.5 18.4h0M2.6 17.0h0M6.7 24.3h0M7.6 14.1h0M8.5 18.0h0M13.2 16.5h0M14.1 27.6h0M6.3 11.4h0M13.7 25.2h0M11.4 18.7h0M10.8 20.6h0M11.5 29.0h0M14.4 15.3h0M15.3 15.7h0M6.3 20.2h0M8.4 18.7h0M7.9 11.6h0M14.6 13.7h0M5.3 23.8h0M10.3 11.7h0M8.0 10.4h0M7.3 24.7h0M7.8 21.7h0M7.7 11.6h0M3.8 23.5h0M9.7 19.5h0M3.3 18.7h0M3.3 20.3h0M6.0 18.0h0M14.3 18.3h0M14.9 15.1h0M12.0 23.0h0M9.5 15.3h0M10.0 27.9h0M14.7 14.8h0M6.4 26.2h0M13.3 20.0h0M15.5 20.4h0M5.4 13.0h0M5.7 20.7h0M24.5 35.5h0M11.5 35.7h0M17.6 31.8h0M18.0 42.3h0M13.9 39.0h0M14.3 37.2h0M18.7 31.0h0M26.4 36.2h0M19.2 37.4h0M19.5 38.5h0M17.0 31.7h0M23.8 38.4h0M20.4 36.3h0M19.7 40.9h0M22.9 39.5h0M21.1 30.6h0M23.5 42.0h0M25.5 40.4h0M26.1 40.9h0M21.5 41.9h0M19.6 32.0h0M27.2 36.7h0M14.7 36.2h0M17.1 31.9h0M19.9 36.0h0M21.2 38.3h0M22.3 37.7h0M20.9 43.2h0M9.4 36.7h0M22.3 39.0h0M16.1 38.3h0M13.4 35.9h0M23.0 36.4h0M13.5 35.3h0M14.6 35.9h0M13.0 41.1h0M10.0 39.1h0M22.8 41.7h0M23.0 41.4h0M16.0 37.7h0M20.2 30.8h0M16.6 24.4h0M15.1 28.2h0M14.7 28.5h0M21.7 29.2h0M16.9 26.2h0M17.6 23.9h0M21.0 29.2h0M17.0 24.4h0M20.0 28.0h0" stroke="#ffffff" stroke-width="0.9" stroke-linecap="round" fill="none" opacity="0.5"/></g><path d="M26.4 8.9h0M23.2 7.6h0M24.8 5.8h0M24.3 5.3h0M21.3 8.5h0M27.8 9.1h0M23.5 5.2h0M24.1 5.9h0M25.5 6.8h0M22.8 10.5h0M24.2 12.8h0M18.7 10.4h0M21.4 4.8h0M20.3 12.6h0M17.6 11.7h0M17.7 5.3h0M26.0 7.9h0M28.3 13.2h0M19.2 5.9h0M19.6 6.4h0M23.6 9.7h0M24.8 5.7h0M24.6 6.2h0M24.6 12.6h0M19.6 4.4h0M27.7 11.7h0M23.6 13.7h0M21.1 12.1h0M16.6 11.9h0M16.3 6.8h0M16.7 5.1h0M16.9 7.6h0M22.9 4.0h0" stroke="#98cf8e" stroke-width="0.85" stroke-linecap="round" fill="none" opacity="0.72"/><path d="M22.0 11.5h0M18.5 8.2h0M26.5 11.3h0M24.4 6.5h0M22.9 8.9h0M21.5 12.6h0M24.6 8.0h0M18.9 9.7h0M24.0 12.9h0M17.8 5.7h0M17.6 8.6h0M21.8 8.3h0M23.7 10.4h0M26.8 8.1h0M20.2 11.1h0M24.9 8.0h0M24.1 11.7h0M18.4 7.3h0M20.8 7.9h0M20.7 11.0h0M19.1 7.2h0M26.9 6.9h0M20.0 4.4h0M28.4 13.6h0M18.9 12.9h0M21.9 4.7h0M18.1 13.2h0M28.2 12.3h0M22.7 13.0h0M25.7 7.8h0M26.5 10.5h0M26.8 8.2h0M17.5 8.1h0M16.7 7.6h0M17.3 4.3h0M17.4 6.4h0M16.0 12.0h0M26.5 5.1h0M18.3 4.8h0M21.4 2.7h0M17.5 11.7h0" stroke="#66b56a" stroke-width="0.85" stroke-linecap="round" fill="none" opacity="0.72"/><path d="M18.5 10.2h0M26.8 11.2h0M25.7 11.2h0M19.6 4.5h0M26.7 11.2h0M18.4 9.9h0M21.0 12.5h0M19.9 5.6h0M26.4 7.5h0M28.3 8.3h0M24.6 8.2h0M26.8 7.0h0M25.1 11.2h0M28.1 9.8h0M28.5 7.4h0M19.4 10.3h0M19.4 12.3h0M26.0 12.9h0M26.6 6.0h0M18.4 11.2h0M18.5 13.0h0M20.6 6.2h0M28.0 9.7h0M18.2 6.6h0M17.6 5.5h0M16.6 5.8h0M16.6 9.2h0M16.4 13.1h0M18.2 3.6h0M16.5 4.5h0M16.6 9.8h0" stroke="#7cc07c" stroke-width="0.85" stroke-linecap="round" fill="none" opacity="0.72"/><path d="M26.6 6.5h0M28.6 13.2h0M20.8 11.9h0M20.1 8.5h0M27.5 9.9h0M28.5 9.2h0M27.3 8.0h0M19.2 8.0h0M26.7 12.6h0M23.7 8.0h0M23.7 12.4h0M23.3 8.9h0M23.3 12.5h0M22.4 13.2h0M28.6 8.9h0M19.3 9.4h0M23.1 12.0h0M17.2 4.7h0M26.7 8.4h0M20.3 10.6h0M19.2 12.0h0M22.9 12.1h0M23.4 3.7h0M25.4 7.2h0M26.2 13.7h0M23.5 6.8h0M22.3 13.7h0M20.5 6.3h0M22.3 4.0h0M22.1 10.6h0M25.5 6.4h0M28.4 6.2h0M16.7 8.8h0M18.9 4.5h0M22.6 3.5h0" stroke="#b2dca6" stroke-width="0.85" stroke-linecap="round" fill="none" opacity="0.72"/><path d="M32.7 26.7h0M38.7 26.6h0M38.6 29.9h0M30.5 25.7h0M37.2 19.7h0M34.4 30.1h0M34.6 19.0h0M38.5 30.7h0M34.2 30.4h0M32.4 22.0h0M35.3 18.3h0M35.9 27.9h0M31.6 29.3h0M34.6 27.3h0M31.6 28.9h0M37.4 23.0h0M39.1 27.2h0M37.0 27.5h0M31.5 18.8h0M33.8 22.7h0M32.0 18.9h0M33.0 27.7h0M29.0 23.6h0M27.9 34.6h0M35.3 29.1h0M38.5 17.6h0M19.8 21.2h0M30.6 24.3h0M25.8 18.1h0M21.2 24.3h0M32.8 32.1h0M37.8 23.8h0M28.5 25.8h0M30.2 18.4h0M20.4 14.3h0M26.3 19.4h0M32.7 34.3h0M17.5 16.2h0M26.1 15.5h0M34.5 24.3h0M29.9 23.8h0M34.2 21.0h0M18.5 15.3h0M38.1 20.5h0M36.6 20.1h0M36.5 31.7h0M34.5 29.1h0M39.9 18.3h0M29.2 11.8h0M36.8 22.7h0M36.1 17.0h0M32.6 26.9h0M34.2 15.3h0M22.2 19.8h0M31.7 25.9h0M27.8 27.1h0M32.0 15.3h0M21.3 27.5h0M31.2 32.2h0M29.5 23.4h0M35.9 30.7h0M28.2 29.1h0M18.7 20.6h0M24.3 16.4h0M32.8 25.1h0M32.8 15.4h0M33.1 15.4h0M22.0 16.8h0M33.7 23.8h0M34.6 24.0h0M23.9 29.7h0M28.9 24.1h0M28.7 16.8h0M36.2 14.3h0M40.8 25.6h0M35.5 16.1h0M37.8 26.3h0M29.7 33.0h0M37.7 20.3h0M36.4 33.9h0M31.7 36.3h0M20.7 28.8h0M19.3 24.3h0M38.1 16.3h0M34.6 11.5h0M33.6 34.8h0M41.1 26.9h0M35.0 11.9h0M38.4 30.1h0M41.3 25.1h0" stroke="#8fc890" stroke-width="0.85" stroke-linecap="round" fill="none" opacity="0.72"/><path d="M31.3 21.8h0M36.9 19.9h0M37.7 25.1h0M30.7 27.4h0M36.1 26.5h0M36.6 25.2h0M31.1 16.2h0M31.7 17.6h0M30.8 27.5h0M28.9 26.0h0M38.5 27.6h0M28.9 24.4h0M34.9 30.4h0M35.9 20.4h0M35.4 31.1h0M29.1 16.2h0M39.3 22.7h0M24.3 27.9h0M24.9 17.8h0M33.3 32.8h0M29.5 35.4h0M30.6 11.0h0M24.1 22.2h0M19.7 18.0h0M32.2 14.6h0M32.1 23.3h0M35.6 30.7h0M35.5 19.8h0M26.9 25.7h0M22.2 19.2h0M26.1 32.9h0M33.8 24.5h0M34.8 27.8h0M32.6 13.4h0M27.7 32.9h0M30.0 17.4h0M19.5 18.1h0M30.5 32.0h0M37.1 29.1h0M27.9 27.4h0M33.9 28.4h0M39.2 24.3h0M28.9 22.6h0M36.8 27.9h0M25.1 32.0h0M25.6 23.0h0M39.2 27.6h0M32.5 17.9h0M37.9 23.3h0M35.6 26.3h0M37.2 26.6h0M33.6 29.1h0M36.6 25.9h0M21.0 18.8h0M33.6 26.6h0M30.5 16.8h0M31.6 23.3h0M37.1 27.1h0M36.3 21.0h0M32.8 33.6h0M29.6 8.1h0M31.1 9.7h0M38.4 23.3h0M28.1 36.6h0M39.7 20.7h0M39.5 18.0h0M33.5 34.1h0M20.8 27.1h0M30.2 8.1h0M38.4 30.1h0M25.5 34.2h0M24.2 30.8h0M41.2 22.2h0M26.9 36.0h0M27.0 34.6h0M20.8 25.7h0M40.0 18.4h0" stroke="#c2e2b8" stroke-width="0.85" stroke-linecap="round" fill="none" opacity="0.72"/><path d="M38.7 28.3h0M36.7 20.5h0M34.6 19.2h0M31.9 29.3h0M40.4 23.3h0M31.7 16.9h0M30.3 23.3h0M38.1 26.6h0M30.0 15.9h0M36.2 26.8h0M31.6 29.0h0M32.4 24.0h0M32.4 25.5h0M38.8 25.7h0M34.9 28.1h0M32.0 17.1h0M37.1 20.2h0M38.9 23.3h0M25.6 34.0h0M38.5 19.7h0M27.0 28.3h0M38.3 28.6h0M36.0 31.6h0M33.2 29.8h0M35.0 21.2h0M23.4 29.1h0M38.4 30.7h0M31.8 20.6h0M21.1 22.7h0M31.7 10.7h0M31.1 35.9h0M28.0 26.2h0M33.1 30.8h0M35.4 24.1h0M38.2 31.1h0M35.1 28.1h0M37.0 30.1h0M21.3 24.7h0M36.6 16.6h0M39.3 23.1h0M19.1 16.6h0M35.0 20.8h0M22.7 20.2h0M21.8 21.7h0M35.6 15.1h0M35.3 24.1h0M28.8 23.7h0M21.3 19.9h0M28.0 26.7h0M31.0 30.2h0M36.1 26.4h0M30.3 18.2h0M32.6 15.3h0M31.8 27.3h0M36.0 30.9h0M33.8 21.0h0M24.5 16.3h0M30.9 33.1h0M33.5 28.7h0M31.1 34.9h0M25.9 14.4h0M24.8 30.9h0M31.9 32.6h0M20.7 27.6h0M40.6 22.0h0M29.9 36.8h0M18.8 22.8h0M27.2 35.4h0M18.0 20.7h0M21.0 28.2h0M23.3 33.0h0M40.5 18.5h0M32.6 11.2h0M27.6 35.7h0M19.8 24.5h0M38.3 16.9h0M27.7 36.1h0M29.2 36.6h0M35.4 32.8h0" stroke="#a9d6a0" stroke-width="0.85" stroke-linecap="round" fill="none" opacity="0.72"/><path d="M22.0 29.9h0M18.4 19.2h0M28.0 32.4h0M27.6 23.2h0M27.9 15.6h0M19.6 15.0h0M27.2 25.0h0M27.7 29.1h0M25.7 23.5h0M26.2 22.2h0M25.6 20.9h0M19.0 15.4h0M26.2 25.1h0M18.3 17.2h0" stroke="#d8eed0" stroke-width="0.85" stroke-linecap="round" fill="none" opacity="0.72"/><path d="M28.8 17.3h0M26.6 25.5h0M22.7 21.0h0M25.2 14.3h0M28.7 35.1h0M27.4 31.3h0M27.3 21.0h0M24.5 29.5h0" stroke="#f3e6c4" stroke-width="0.85" stroke-linecap="round" fill="none" opacity="0.72"/><circle cx="32.6" cy="37.6" r="1.5" fill="#5e8a3c" filter="url(#bl2)"/></g>
<g transform="translate(194.4,32.5)"><rect x="0" y="0" width="44" height="44" fill="#fff" stroke="#c8c8cc" stroke-width="0.8"/><path d="M17.0 4.5 L21.5 3.0 L27.0 5.0 L33.0 11.0 L40.0 18.0 L41.0 26.0 L37.5 32.5 L31.0 36.5 L26.0 35.0 L22.0 30.0 L18.0 22.0 L16.5 14.0Z" fill="#f2f8f3" opacity="0.6" filter="url(#bl)"/><g filter="url(#bl)" opacity="0.8"><path d="M14.3 20.2h0M13.3 16.2h0M11.3 27.0h0M9.1 29.4h0M6.7 15.6h0M8.8 15.0h0M7.5 28.8h0M4.4 12.7h0M15.3 15.2h0M10.2 15.0h0M4.9 16.3h0M7.6 19.1h0M8.8 19.9h0M18.1 29.5h0M15.4 27.1h0M15.4 23.1h0M18.0 29.9h0" stroke="#8cc842" stroke-width="3.2" stroke-linecap="round" fill="none" opacity="0.55"/><path d="M9.8 17.2h0M12.2 28.6h0M11.5 15.0h0M5.2 27.5h0M14.1 20.6h0M6.0 20.3h0M7.8 14.0h0M9.3 21.4h0M15.9 29.0h0M15.9 30.6h0M18.0 30.7h0" stroke="#b9d63a" stroke-width="3.2" stroke-linecap="round" fill="none" opacity="0.55"/><path d="M5.5 25.5h0M4.6 26.0h0M5.8 13.2h0M3.3 17.6h0M2.7 21.6h0M3.8 16.8h0" stroke="#d8dc36" stroke-width="3.2" stroke-linecap="round" fill="none" opacity="0.55"/><path d="M14.0 17.1h0M10.8 28.2h0M11.3 13.6h0M9.0 13.9h0M12.8 23.5h0M13.0 15.0h0M7.6 15.7h0M7.1 18.1h0M12.6 15.7h0M7.2 15.4h0M8.4 17.7h0M13.2 23.1h0M14.4 22.0h0M11.1 10.3h0M7.1 16.9h0M11.1 24.2h0M10.0 24.3h0M12.1 17.1h0M9.5 17.2h0M12.5 12.7h0M12.1 24.8h0M6.0 11.0h0M12.8 12.0h0M6.5 17.4h0M12.1 15.2h0M10.9 17.9h0M4.6 24.7h0M19.7 29.6h0M17.6 24.7h0M16.6 28.1h0" stroke="#a6d03c" stroke-width="3.2" stroke-linecap="round" fill="none" opacity="0.55"/><path d="M2.5 21.2h0M6.4 12.5h0M3.1 19.5h0M5.8 21.9h0" stroke="#e6e23a" stroke-width="3.2" stroke-linecap="round" fill="none" opacity="0.55"/><path d="M9.4 24.9h0M15.0 15.4h0M7.4 22.9h0M12.3 14.1h0M7.8 13.1h0M13.6 25.7h0M6.9 20.4h0M9.7 12.2h0M16.2 16.2h0M9.0 18.9h0M15.5 18.6h0M19.9 29.4h0M15.3 22.4h0M18.6 25.2h0M15.8 29.3h0M19.7 30.3h0M15.5 30.4h0" stroke="#7cc444" stroke-width="3.2" stroke-linecap="round" fill="none" opacity="0.55"/><path d="M2.9 16.5h0" stroke="#eee548" stroke-width="3.2" stroke-linecap="round" fill="none" opacity="0.55"/><path d="M12.2 32.6h0" stroke="#b5d43a" stroke-width="3.2" stroke-linecap="round" fill="none" opacity="0.55"/><path d="M20.5 34.5h0M12.4 38.7h0M22.7 34.4h0M15.9 40.9h0M23.6 37.6h0M21.6 42.6h0M22.8 36.0h0M25.6 33.6h0M16.3 43.4h0M18.2 31.1h0M22.4 31.1h0" stroke="#3ea64a" stroke-width="3.2" stroke-linecap="round" fill="none" opacity="0.55"/><path d="M23.2 40.2h0M12.6 38.4h0M20.3 31.5h0M18.5 34.2h0M23.5 40.4h0M14.4 32.6h0M25.0 39.9h0M13.3 32.0h0M23.9 34.2h0M23.3 36.8h0M11.7 41.5h0M23.8 34.1h0M25.3 39.8h0M25.5 38.9h0M15.2 33.2h0M16.4 31.6h0M16.1 39.3h0M18.3 40.9h0M16.6 33.4h0M24.3 33.1h0M22.7 31.3h0" stroke="#6cbf44" stroke-width="3.2" stroke-linecap="round" fill="none" opacity="0.55"/><path d="M15.0 38.0h0M15.2 38.1h0M12.1 35.7h0M16.3 41.7h0M22.5 39.7h0M12.6 37.2h0M23.8 34.0h0M19.3 38.1h0" stroke="#4aae48" stroke-width="3.2" stroke-linecap="round" fill="none" opacity="0.55"/><path d="M26.5 40.3h0M11.5 34.8h0M26.2 37.8h0M19.2 36.5h0M19.4 38.7h0M24.7 41.2h0M18.9 32.4h0M24.9 39.3h0M22.0 36.6h0M13.8 33.7h0M12.6 31.4h0" stroke="#5cb845" stroke-width="3.2" stroke-linecap="round" fill="none" opacity="0.55"/><path d="M10.8 34.0h0M11.0 38.4h0" stroke="#9ccc3e" stroke-width="3.2" stroke-linecap="round" fill="none" opacity="0.55"/><path d="M12.8 34.3h0M9.4 37.1h0" stroke="#c8da38" stroke-width="3.2" stroke-linecap="round" fill="none" opacity="0.55"/></g><g filter="url(#bl2)"><path d="M14.3 20.2h0M5.3 11.8h0M15.2 16.1h0M4.6 26.0h0M9.4 24.9h0M14.7 23.8h0M13.5 20.4h0M8.8 14.6h0M12.2 15.0h0M7.4 22.9h0M12.3 14.1h0M11.3 13.6h0M7.4 19.3h0M4.7 11.9h0M13.4 24.6h0M5.2 27.5h0M10.6 11.3h0M8.0 19.6h0M8.4 28.2h0M8.8 15.0h0M13.0 21.4h0M6.5 16.6h0M7.5 28.8h0M7.8 22.9h0M13.2 16.7h0M10.9 14.7h0M11.4 15.6h0M10.0 26.9h0M7.0 13.2h0M4.9 16.3h0M7.6 19.1h0M11.2 22.3h0M12.5 15.5h0M9.0 18.9h0M14.4 22.0h0M15.0 16.3h0M5.8 21.9h0M14.3 25.9h0M10.0 24.3h0M15.5 18.6h0M12.2 18.5h0M12.7 25.3h0M11.0 14.1h0M15.2 14.8h0M6.5 17.4h0M12.1 15.2h0M12.7 14.0h0M15.5 22.3h0M16.1 22.3h0M17.4 28.8h0M15.3 22.4h0M20.2 29.0h0M17.6 24.7h0M17.3 30.4h0M14.1 30.0h0M18.0 30.1h0M10.7 30.7h0" stroke="#8cc842" stroke-width="1.2" stroke-linecap="round" fill="none" opacity="0.75"/><path d="M7.9 10.3h0M12.7 23.0h0M9.8 17.2h0M6.9 24.0h0M12.0 26.9h0M4.4 16.0h0M10.6 16.8h0M14.0 17.1h0M11.6 16.4h0M5.8 22.7h0M10.8 28.2h0M6.6 14.9h0M9.5 12.3h0M12.3 15.8h0M5.5 24.3h0M13.4 18.9h0M15.0 26.4h0M11.3 27.0h0M4.9 14.1h0M10.2 15.9h0M13.6 25.7h0M15.6 21.0h0M8.8 15.0h0M6.9 20.4h0M11.2 17.1h0M7.2 15.4h0M12.4 27.1h0M11.0 23.3h0M13.2 23.1h0M9.0 10.6h0M13.9 21.4h0M9.1 25.5h0M13.3 12.8h0M13.1 20.0h0M6.4 27.0h0M11.1 24.2h0M14.1 13.4h0M3.8 16.8h0M13.0 24.2h0M10.3 25.1h0M7.8 14.0h0M12.5 12.7h0M12.1 24.8h0M6.4 26.4h0M6.0 11.0h0M14.9 21.0h0M5.1 21.3h0M7.2 18.6h0M19.0 27.9h0M19.1 29.9h0M15.5 24.6h0M14.4 26.3h0M16.4 29.2h0M19.3 28.0h0M15.3 22.1h0M17.3 26.0h0M15.8 29.3h0M15.0 25.9h0M22.1 29.8h0M16.6 28.1h0M15.5 24.4h0M19.4 30.4h0M15.9 30.6h0M13.3 30.2h0" stroke="#7cc444" stroke-width="1.2" stroke-linecap="round" fill="none" opacity="0.75"/><path d="M5.5 25.5h0M12.2 28.6h0M14.3 16.8h0M9.2 27.9h0M6.6 18.6h0M13.3 16.2h0M7.2 18.3h0M8.0 11.1h0M6.8 27.9h0M9.1 11.1h0M13.0 15.0h0M9.1 29.4h0M11.3 26.9h0M6.7 15.6h0M6.1 17.9h0M4.6 24.6h0M14.4 12.6h0M10.4 22.1h0M4.9 24.4h0M14.5 26.5h0M9.7 12.2h0M6.4 12.5h0M10.2 15.0h0M6.7 27.3h0M9.0 20.6h0M16.2 16.2h0M8.0 16.7h0M5.0 17.5h0M8.1 20.2h0M12.0 28.2h0M11.4 24.8h0M11.1 10.3h0M7.3 24.2h0M6.7 18.1h0M6.6 20.5h0M11.6 24.1h0M8.1 16.6h0M5.6 24.7h0M12.1 17.1h0M9.5 17.2h0M7.8 11.9h0M9.3 19.5h0M9.6 25.9h0M12.8 12.0h0M9.3 21.4h0M15.4 20.7h0M4.6 24.7h0M8.8 19.9h0M12.0 23.3h0M19.9 29.4h0M17.8 24.9h0M15.3 25.2h0M15.3 23.9h0M19.7 30.3h0M15.5 30.4h0M18.0 30.7h0" stroke="#a6d03c" stroke-width="1.2" stroke-linecap="round" fill="none" opacity="0.75"/><path d="M15.8 16.4h0M10.8 14.6h0M11.5 15.0h0M15.8 17.6h0M5.8 13.2h0M10.3 28.2h0M10.4 21.2h0M15.0 15.4h0M7.3 18.6h0M10.0 26.2h0M9.0 13.9h0M12.8 23.5h0M7.8 13.1h0M10.7 20.4h0M9.3 28.3h0M6.4 24.0h0M7.6 15.7h0M7.1 18.1h0M12.6 15.7h0M9.2 11.0h0M15.3 15.2h0M8.4 17.7h0M8.2 18.0h0M11.4 26.1h0M14.8 13.3h0M14.1 20.6h0M6.3 11.7h0M6.0 20.3h0M7.0 18.8h0M7.1 16.9h0M4.9 15.6h0M9.8 17.9h0M7.4 28.3h0M11.5 13.9h0M6.7 14.5h0M8.3 22.2h0M10.9 17.9h0M10.8 21.2h0M11.3 13.1h0M8.9 12.0h0M18.1 29.5h0M14.4 29.3h0M15.4 27.1h0M16.9 24.6h0M17.3 29.5h0M15.4 23.1h0M18.0 29.9h0M15.9 29.0h0M18.6 25.2h0M18.7 28.4h0M19.7 29.6h0M20.0 30.6h0M20.8 30.9h0" stroke="#b9d63a" stroke-width="1.2" stroke-linecap="round" fill="none" opacity="0.75"/><path d="M4.6 16.8h0M2.5 21.2h0M1.8 18.9h0M3.3 17.6h0M4.5 13.7h0M1.7 19.3h0M5.4 20.5h0M2.6 24.7h0" stroke="#e6e23a" stroke-width="1.2" stroke-linecap="round" fill="none" opacity="0.75"/><path d="M4.3 16.6h0M4.4 12.7h0M6.2 14.8h0M3.8 13.6h0M2.7 21.6h0M2.8 16.9h0M2.0 17.3h0" stroke="#d8dc36" stroke-width="1.2" stroke-linecap="round" fill="none" opacity="0.75"/><path d="M4.8 12.3h0M2.8 16.9h0M2.5 23.3h0M2.1 17.9h0M3.6 17.9h0M3.1 19.5h0M2.9 16.5h0M5.1 17.0h0M5.8 16.7h0M4.0 20.2h0M3.1 21.8h0" stroke="#eee548" stroke-width="1.2" stroke-linecap="round" fill="none" opacity="0.75"/><path d="M14.3 32.3h0M16.8 36.4h0M16.6 35.2h0M23.2 40.2h0M13.1 35.4h0M26.5 40.3h0M17.1 38.4h0M23.3 33.6h0M14.0 36.4h0M14.4 32.6h0M10.5 36.0h0M26.2 37.8h0M19.5 41.7h0M12.8 34.3h0M20.2 33.0h0M16.3 40.7h0M18.7 37.8h0M22.5 39.7h0M11.2 34.3h0M23.6 37.6h0M24.5 40.9h0M19.8 34.6h0M13.4 33.6h0M12.8 41.5h0M19.5 36.0h0M18.9 32.4h0M19.7 31.7h0M17.7 41.2h0M18.2 31.1h0M23.6 31.6h0M22.0 36.6h0M14.1 33.7h0M16.8 40.0h0M21.6 41.4h0M18.5 38.7h0M12.3 32.8h0M19.1 33.3h0" stroke="#6cbf44" stroke-width="1.2" stroke-linecap="round" fill="none" opacity="0.75"/><path d="M12.2 32.6h0M12.6 38.4h0M10.8 34.0h0M9.3 37.5h0M9.9 32.4h0M12.3 36.5h0M11.0 38.4h0M11.0 39.4h0M9.4 37.1h0" stroke="#9ccc3e" stroke-width="1.2" stroke-linecap="round" fill="none" opacity="0.75"/><path d="M19.6 31.9h0M20.5 34.5h0M18.8 35.5h0M15.2 38.1h0M24.1 37.9h0M22.6 35.7h0M11.5 34.8h0M20.6 39.1h0M23.5 40.4h0M15.7 41.4h0M25.0 40.5h0M23.3 36.8h0M19.2 36.5h0M18.6 41.2h0M26.1 35.8h0M22.7 34.4h0M18.2 40.4h0M22.6 37.0h0M14.6 38.0h0M15.2 33.2h0M23.9 40.9h0M22.8 36.0h0M13.0 33.4h0M12.6 37.2h0M24.7 41.2h0M14.0 40.5h0M16.3 43.4h0M13.8 39.2h0M11.9 41.4h0M17.1 39.1h0M18.4 33.9h0M17.1 42.8h0M12.8 39.8h0M22.4 31.1h0" stroke="#3ea64a" stroke-width="1.2" stroke-linecap="round" fill="none" opacity="0.75"/><path d="M13.0 34.3h0M10.1 31.8h0M11.7 41.5h0M10.2 35.4h0" stroke="#c8da38" stroke-width="1.2" stroke-linecap="round" fill="none" opacity="0.75"/><path d="M21.1 32.4h0M15.0 38.0h0M19.8 34.6h0M15.3 34.0h0M18.9 43.3h0M12.4 38.7h0M22.4 33.7h0M18.3 40.8h0M18.5 34.2h0M23.7 38.0h0M19.9 37.0h0M23.9 34.2h0M19.3 38.8h0M22.1 38.9h0M13.9 39.2h0M23.8 34.1h0M15.9 40.9h0M13.9 31.3h0M25.8 34.0h0M19.4 38.7h0M24.4 34.9h0M25.5 38.9h0M23.7 39.8h0M24.6 35.6h0M25.8 40.9h0M10.2 40.2h0M14.5 42.3h0M13.1 38.3h0M16.4 31.6h0M22.6 35.9h0M18.3 40.9h0M13.8 33.7h0M17.2 37.9h0M21.7 31.7h0M20.5 35.8h0M24.3 33.1h0M22.7 31.3h0" stroke="#5cb845" stroke-width="1.2" stroke-linecap="round" fill="none" opacity="0.75"/><path d="M20.8 40.3h0M12.0 41.9h0M18.2 35.4h0M13.5 31.0h0M20.3 31.5h0M12.1 36.3h0M22.8 42.8h0M19.8 37.5h0M22.9 32.2h0M12.0 37.4h0M25.0 39.9h0M15.4 39.6h0M13.3 32.0h0M18.7 36.7h0M14.3 40.7h0M16.3 41.7h0M26.1 37.8h0M24.6 38.3h0M19.6 41.6h0M24.7 38.2h0M22.9 33.0h0M17.1 35.2h0M12.4 33.2h0M21.6 42.6h0M17.6 40.2h0M25.3 39.8h0M10.5 34.0h0M14.2 36.1h0M23.8 34.0h0M25.6 33.6h0M22.9 41.1h0M18.3 40.7h0M24.9 39.3h0M15.2 37.2h0M16.1 39.3h0M21.6 35.1h0M22.1 37.8h0M13.3 38.5h0M25.7 34.6h0M16.6 33.4h0M12.6 31.4h0M19.3 38.1h0M23.2 42.0h0" stroke="#4aae48" stroke-width="1.2" stroke-linecap="round" fill="none" opacity="0.75"/><path d="M12.1 35.7h0M10.5 31.6h0M11.6 38.9h0M9.1 34.7h0M11.2 41.3h0" stroke="#b5d43a" stroke-width="1.2" stroke-linecap="round" fill="none" opacity="0.75"/><path d="M2.4 21.6h0M9.6 15.9h0M6.0 22.0h0M8.6 20.8h0M7.5 13.5h0M7.3 24.2h0M12.6 28.6h0M5.8 26.8h0M8.3 25.6h0M6.9 21.1h0M4.2 25.0h0M6.9 20.4h0M13.3 25.2h0M13.9 23.8h0M14.6 15.3h0M15.5 20.7h0M14.6 25.5h0M16.0 16.5h0M10.5 19.4h0M12.5 16.5h0M13.9 25.0h0M8.2 16.9h0M13.0 27.4h0M3.6 16.6h0M8.7 20.2h0M6.0 11.2h0M11.0 12.2h0M10.3 27.4h0M13.5 19.2h0M5.4 19.0h0M11.1 23.2h0M8.0 20.5h0M5.6 17.3h0M10.1 24.2h0M4.3 12.6h0M2.1 18.0h0M6.2 17.7h0M3.9 22.4h0M3.1 17.1h0M11.1 16.2h0M9.9 24.1h0M8.0 22.6h0M2.7 23.1h0M12.4 11.8h0M11.1 25.3h0M13.2 38.4h0M13.7 36.8h0M11.3 33.9h0M22.7 32.9h0M12.7 32.8h0M18.0 41.5h0M18.4 30.1h0M20.6 32.8h0M13.0 34.2h0M15.3 37.7h0M10.9 37.0h0M17.3 37.5h0M10.2 31.8h0M21.1 34.6h0M11.0 36.5h0M22.2 40.7h0M10.1 32.2h0M22.3 32.3h0M9.5 31.2h0M11.5 34.5h0M13.0 35.8h0M26.1 38.9h0M14.5 30.1h0M14.2 30.1h0M15.9 34.6h0M18.9 35.2h0M19.4 35.4h0M20.9 36.7h0M22.9 35.9h0M13.6 33.5h0M10.2 38.2h0M20.4 31.2h0M20.3 30.2h0M22.2 42.9h0M18.8 39.0h0M16.6 42.8h0M10.1 35.3h0M23.4 40.2h0M18.4 36.1h0M12.3 35.9h0M15.8 25.6h0M20.9 28.5h0M18.3 26.2h0M18.2 30.1h0M16.4 25.0h0M14.4 24.8h0M21.4 29.9h0M15.9 22.6h0M19.8 30.0h0M15.2 22.8h0" stroke="#ffffff" stroke-width="0.9" stroke-linecap="round" fill="none" opacity="0.5"/></g><path d="M25.7 7.5h0M22.2 13.3h0M22.4 10.8h0M25.2 10.4h0M22.5 5.8h0M27.6 10.5h0M19.1 11.0h0M21.6 10.1h0M19.9 8.1h0M21.4 10.4h0M23.0 4.6h0M21.3 8.2h0M19.7 12.9h0M21.3 3.3h0M17.6 8.6h0M25.8 5.4h0M28.5 10.6h0M27.2 6.3h0M17.9 4.4h0M16.6 12.4h0M26.4 5.4h0M16.8 10.0h0M25.0 4.8h0M18.9 3.6h0" stroke="#b5dccb" stroke-width="0.85" stroke-linecap="round" fill="none" opacity="0.72"/><path d="M27.2 10.8h0M23.0 9.2h0M19.0 6.6h0M22.9 12.8h0M24.9 12.6h0M19.3 7.1h0M22.3 8.0h0M18.6 5.2h0M26.1 8.7h0M24.0 6.3h0M18.4 8.4h0M25.4 10.9h0M28.4 10.1h0M19.6 11.0h0M25.4 6.4h0M23.2 12.2h0M17.0 7.7h0M20.1 9.9h0M28.0 7.4h0M22.2 7.2h0M18.7 9.3h0M25.8 13.4h0M24.3 13.6h0M28.8 8.1h0M23.2 7.9h0M19.5 8.4h0M25.0 12.5h0M18.4 4.5h0M17.4 5.8h0M18.2 3.6h0M19.8 3.2h0M16.7 5.7h0M23.4 4.5h0M15.8 12.9h0M16.6 3.7h0" stroke="#5e9e8a" stroke-width="0.85" stroke-linecap="round" fill="none" opacity="0.72"/><path d="M27.6 12.5h0M17.8 8.0h0M26.0 12.3h0M24.3 13.4h0M20.7 4.9h0M24.2 5.1h0M18.5 9.7h0M21.1 10.3h0M21.1 7.2h0M19.1 4.7h0M25.0 7.5h0M25.4 12.8h0M19.4 10.4h0M25.6 7.7h0M18.9 11.7h0M27.8 7.1h0M23.3 6.5h0M26.4 9.4h0M26.8 8.6h0M20.2 9.2h0M16.9 11.2h0M20.2 13.0h0M17.3 4.3h0M17.6 9.8h0M17.1 4.0h0" stroke="#6aae95" stroke-width="0.85" stroke-linecap="round" fill="none" opacity="0.72"/><path d="M19.9 11.2h0M24.3 8.1h0M22.3 13.1h0M28.3 9.0h0M18.7 7.5h0M23.8 11.4h0M21.5 6.5h0M21.3 8.6h0M19.6 11.5h0M25.9 8.8h0M17.6 4.7h0M18.2 12.5h0M24.5 7.2h0M26.0 8.8h0M17.4 11.0h0M24.9 12.4h0M26.2 9.6h0M22.2 6.0h0M17.1 4.7h0M23.6 6.1h0M25.0 13.1h0M20.6 3.5h0M20.1 6.5h0M20.7 10.4h0M20.8 11.3h0M24.6 4.5h0M17.6 9.9h0M20.9 3.4h0M19.5 3.9h0M22.0 12.4h0M24.8 4.1h0M17.4 6.4h0M25.5 5.1h0" stroke="#7fbfa5" stroke-width="0.85" stroke-linecap="round" fill="none" opacity="0.72"/><path d="M25.8 8.5h0M25.2 10.3h0M25.5 7.0h0M23.1 13.5h0M27.7 13.6h0M25.8 8.8h0M25.7 9.7h0M24.0 12.3h0M24.8 9.8h0M23.7 6.1h0M18.9 5.0h0M21.3 7.1h0M21.1 8.4h0M20.9 10.4h0M17.1 7.2h0M23.0 9.8h0M24.9 12.5h0M27.0 11.4h0M22.5 12.2h0M22.5 9.6h0M19.2 6.7h0M20.6 9.1h0M18.5 3.2h0" stroke="#9fd0bb" stroke-width="0.85" stroke-linecap="round" fill="none" opacity="0.72"/><path d="M34.4 22.4h0M39.0 21.1h0M31.5 25.5h0M34.6 26.5h0M29.4 19.7h0M38.3 26.7h0M30.6 17.4h0M38.8 23.2h0M31.4 20.8h0M29.9 26.5h0M32.6 27.3h0M36.9 20.0h0M38.4 24.5h0M37.2 27.3h0M30.9 29.8h0M36.5 20.4h0M30.3 27.2h0M30.3 26.1h0M30.9 22.9h0M34.4 28.1h0M32.7 26.9h0M35.5 25.6h0M34.6 30.4h0M30.3 25.1h0M37.5 26.5h0M20.9 24.6h0M29.8 32.6h0M37.6 16.2h0M31.5 32.9h0M29.8 14.9h0M22.5 26.6h0M33.5 28.6h0M35.4 22.8h0M30.5 33.4h0M29.9 22.9h0M30.5 34.9h0M34.0 23.3h0M22.8 25.4h0M29.4 34.8h0M30.7 31.5h0M33.8 28.6h0M29.5 24.1h0M31.3 30.7h0M32.2 21.9h0M31.9 19.7h0M37.7 18.2h0M39.4 22.0h0M30.4 12.3h0M36.1 26.5h0M34.9 21.5h0M32.0 20.6h0M29.6 24.3h0M32.0 18.6h0M23.1 17.8h0M29.7 25.2h0M38.7 19.2h0M34.4 25.2h0M29.0 33.8h0M22.6 30.0h0M27.0 14.0h0M39.1 17.8h0M32.7 29.9h0M32.1 27.4h0M31.8 13.6h0M26.2 19.7h0M37.8 18.7h0M21.5 23.2h0M30.6 23.7h0M22.5 21.6h0M35.0 16.0h0M29.0 18.1h0M32.4 11.8h0M39.5 24.4h0M35.3 32.2h0M23.3 18.0h0M34.7 18.7h0M38.2 30.4h0M32.0 20.1h0M29.4 10.6h0M37.7 19.1h0M37.7 25.2h0M38.5 24.0h0M33.6 13.9h0M36.3 29.9h0M25.8 25.0h0M21.9 27.9h0M25.9 27.0h0M33.8 34.6h0M36.4 18.6h0M34.6 17.3h0M18.9 25.3h0M31.9 36.1h0M33.5 11.6h0M19.1 23.9h0M30.2 9.3h0M29.1 6.5h0M40.5 26.7h0M31.5 10.2h0M18.8 21.9h0M33.4 35.4h0M24.6 33.2h0M19.7 27.0h0M37.7 16.0h0M21.2 27.2h0M40.1 26.5h0M39.5 28.4h0M34.3 11.6h0M35.9 33.2h0M28.0 36.2h0M40.2 27.5h0M27.9 34.5h0M35.4 13.5h0" stroke="#a9d7c5" stroke-width="0.85" stroke-linecap="round" fill="none" opacity="0.72"/><path d="M35.4 24.4h0M39.8 24.9h0M30.6 20.8h0M35.7 29.4h0M30.3 22.6h0M31.4 22.2h0M35.9 20.9h0M31.8 23.7h0M35.0 18.3h0M35.4 24.8h0M37.9 27.2h0M36.4 21.4h0M38.5 22.1h0M32.2 20.6h0M30.8 19.6h0M33.0 20.4h0M33.6 26.4h0M39.4 26.8h0M38.5 20.9h0M38.6 25.7h0M33.6 23.2h0M31.2 17.1h0M32.4 19.2h0M31.2 16.2h0M32.7 24.2h0M35.1 19.4h0M36.7 28.1h0M34.4 20.8h0M30.2 18.1h0M30.3 18.0h0M27.5 20.8h0M35.0 18.4h0M30.9 13.5h0M30.9 9.2h0M23.2 14.9h0M35.5 17.2h0M33.5 17.3h0M25.2 20.7h0M35.8 32.8h0M38.4 28.8h0M29.2 26.0h0M25.8 25.0h0M29.7 29.1h0M38.7 19.5h0M35.2 26.2h0M33.9 26.5h0M29.1 13.5h0M35.4 30.3h0M29.5 33.9h0M33.0 24.1h0M29.6 16.0h0M29.5 25.6h0M30.0 23.5h0M25.1 23.7h0M35.8 30.1h0M32.2 24.9h0M38.4 27.2h0M17.3 14.1h0M34.2 15.8h0M30.4 11.5h0M22.1 25.7h0M27.4 19.1h0M29.2 12.0h0M26.3 33.8h0M33.4 27.7h0M30.6 12.0h0M18.0 18.3h0M27.7 15.4h0M33.3 30.2h0M34.4 14.0h0M36.1 32.4h0M30.4 26.9h0M31.1 32.7h0M36.2 30.5h0M21.7 22.1h0M39.4 17.8h0M25.7 14.3h0M29.9 30.1h0M37.8 27.8h0M33.2 29.1h0M35.9 24.4h0M29.7 26.4h0M33.7 19.1h0M37.3 25.4h0M31.8 22.8h0M24.7 18.3h0M38.6 31.7h0M23.3 31.1h0M32.1 9.3h0M40.5 24.9h0M18.8 24.5h0M31.7 36.5h0M30.1 35.9h0M26.8 36.0h0M31.2 36.3h0M21.2 29.1h0M30.9 37.1h0M21.2 28.8h0M39.6 17.1h0M20.2 26.0h0M37.1 15.7h0M18.2 20.3h0M40.9 17.9h0M34.5 35.8h0M21.1 29.8h0M34.2 12.0h0M34.5 34.3h0M25.4 34.0h0" stroke="#8cc8b4" stroke-width="0.85" stroke-linecap="round" fill="none" opacity="0.72"/><path d="M24.3 15.6h0M27.6 32.1h0M23.4 24.8h0M18.4 20.4h0M27.1 28.6h0M27.7 31.7h0M22.5 21.0h0M21.8 25.8h0M27.9 24.8h0M22.2 14.8h0M24.5 15.5h0M22.8 27.9h0M24.5 16.5h0M20.3 19.6h0M20.7 20.1h0" stroke="#bfe2cf" stroke-width="0.85" stroke-linecap="round" fill="none" opacity="0.72"/><path d="M19.9 14.7h0M20.1 24.8h0M27.8 33.4h0M20.7 19.0h0M19.8 19.7h0M25.5 23.5h0M27.6 15.3h0M25.0 25.0h0M28.4 20.9h0M18.7 18.6h0M28.0 32.5h0M21.2 20.8h0M26.1 22.0h0M17.1 15.3h0M24.9 32.8h0" stroke="#d4ece0" stroke-width="0.85" stroke-linecap="round" fill="none" opacity="0.72"/><path d="M27.2 23.1h0M27.5 22.1h0M26.3 14.1h0M23.9 20.8h0M23.1 26.5h0M26.3 25.6h0M27.6 16.6h0M24.8 26.5h0M21.0 22.5h0M25.8 21.3h0" stroke="#a9d8c0" stroke-width="0.85" stroke-linecap="round" fill="none" opacity="0.72"/><path d="M21.2 19.4h0M18.8 20.6h0M25.5 20.0h0M24.6 23.0h0M21.2 14.3h0M28.9 25.1h0M20.3 17.5h0M24.9 23.7h0M20.5 21.8h0M22.2 26.5h0" stroke="#9ccfb6" stroke-width="0.85" stroke-linecap="round" fill="none" opacity="0.72"/><circle cx="32.6" cy="37.6" r="1.5" fill="#5e8a3c" filter="url(#bl2)"/></g>
<g transform="translate(194.4,82.6)"><rect x="0" y="0" width="44" height="44" fill="#fff" stroke="#c8c8cc" stroke-width="0.8"/><path d="M17.0 4.5 L21.5 3.0 L27.0 5.0 L33.0 11.0 L40.0 18.0 L41.0 26.0 L37.5 32.5 L31.0 36.5 L26.0 35.0 L22.0 30.0 L18.0 22.0 L16.5 14.0Z" fill="#f2f8f3" opacity="0.6" filter="url(#bl)"/><g filter="url(#bl)" opacity="0.8"><path d="M7.2 10.7h0M14.5 18.5h0M9.3 11.0h0M7.9 22.7h0M11.9 26.8h0M15.5 18.1h0M12.9 27.0h0M9.9 16.6h0M13.6 25.0h0M13.0 27.2h0M9.4 29.6h0M10.4 10.8h0M8.4 20.4h0M12.2 10.9h0M5.3 16.6h0M11.3 16.7h0M5.4 19.5h0M9.9 11.6h0M6.4 28.8h0M10.4 18.7h0M6.1 15.9h0M19.0 27.7h0M16.5 27.6h0M16.6 29.3h0" stroke="#8cc842" stroke-width="3.2" stroke-linecap="round" fill="none" opacity="0.55"/><path d="M6.9 12.9h0M9.2 29.5h0M13.1 13.4h0M7.9 16.5h0M8.2 23.6h0M10.2 11.4h0M7.4 17.7h0M16.2 18.9h0M5.9 14.1h0M15.5 22.9h0M12.5 28.9h0M6.3 14.1h0M12.1 28.7h0M7.0 27.2h0M9.7 17.8h0M7.3 10.4h0M17.8 26.5h0M20.7 28.0h0M20.9 30.4h0" stroke="#7cc444" stroke-width="3.2" stroke-linecap="round" fill="none" opacity="0.55"/><path d="M8.1 18.8h0M16.2 20.6h0M14.4 25.5h0M10.8 15.4h0M11.4 23.1h0M6.6 18.6h0M6.3 20.2h0M9.3 18.8h0M8.5 27.1h0M20.2 29.2h0M19.5 25.6h0" stroke="#b9d63a" stroke-width="3.2" stroke-linecap="round" fill="none" opacity="0.55"/><path d="M2.6 17.7h0M3.1 24.5h0M6.3 18.0h0M3.6 21.3h0M3.0 19.2h0" stroke="#eee548" stroke-width="3.2" stroke-linecap="round" fill="none" opacity="0.55"/><path d="M3.0 14.9h0M4.8 25.1h0M3.1 21.0h0M2.2 23.8h0M1.6 18.8h0" stroke="#e6e23a" stroke-width="3.2" stroke-linecap="round" fill="none" opacity="0.55"/><path d="M8.9 17.1h0M8.1 11.7h0M5.5 16.5h0M14.0 12.1h0M5.9 28.2h0M6.0 28.2h0M10.8 24.8h0M15.0 20.8h0M14.3 25.7h0M19.3 29.9h0M16.7 28.4h0M16.8 26.9h0M15.1 22.8h0M13.9 30.4h0M17.2 30.3h0" stroke="#a6d03c" stroke-width="3.2" stroke-linecap="round" fill="none" opacity="0.55"/><path d="M4.6 17.2h0M3.4 18.8h0M4.9 15.3h0M3.0 14.4h0M2.3 18.4h0M5.4 19.9h0" stroke="#d8dc36" stroke-width="3.2" stroke-linecap="round" fill="none" opacity="0.55"/><path d="M18.3 38.9h0M23.5 33.3h0M13.1 34.3h0M15.7 31.8h0M22.4 32.8h0M16.7 34.3h0M16.3 41.5h0M14.9 42.6h0M17.3 42.9h0M19.9 32.7h0M19.3 38.1h0M24.3 41.2h0M25.1 34.5h0M16.2 35.9h0M20.2 38.5h0M26.2 39.7h0M12.7 33.2h0M14.6 42.4h0M15.9 42.3h0" stroke="#4aae48" stroke-width="3.2" stroke-linecap="round" fill="none" opacity="0.55"/><path d="M18.0 31.9h0M22.2 31.3h0M15.8 37.5h0M23.1 35.1h0M20.9 41.1h0M14.8 38.0h0M14.1 37.2h0M20.6 41.9h0M26.5 38.1h0M21.9 36.1h0M22.4 37.0h0M25.5 39.0h0M19.5 41.5h0M20.4 34.6h0" stroke="#5cb845" stroke-width="3.2" stroke-linecap="round" fill="none" opacity="0.55"/><path d="M11.1 41.5h0M14.3 38.9h0M18.0 39.5h0M19.7 41.2h0M22.0 38.1h0" stroke="#3ea64a" stroke-width="3.2" stroke-linecap="round" fill="none" opacity="0.55"/><path d="M13.3 39.6h0M16.1 35.0h0M13.5 31.9h0M16.4 40.5h0M27.3 35.8h0M12.6 36.1h0M13.4 31.6h0M13.7 38.9h0M24.8 39.9h0M21.0 35.1h0M26.2 34.3h0M24.0 39.0h0M24.9 38.9h0M19.8 37.8h0M22.5 41.5h0M24.1 34.4h0M25.1 32.9h0M24.9 39.2h0" stroke="#6cbf44" stroke-width="3.2" stroke-linecap="round" fill="none" opacity="0.55"/><path d="M11.6 32.5h0" stroke="#9ccc3e" stroke-width="3.2" stroke-linecap="round" fill="none" opacity="0.55"/></g><g filter="url(#bl2)"><path d="M7.2 10.7h0M11.9 20.0h0M12.4 24.7h0M13.1 13.6h0M13.4 16.6h0M10.8 23.5h0M8.9 17.1h0M14.4 25.5h0M7.9 22.7h0M11.5 15.6h0M9.6 21.8h0M9.6 26.9h0M5.9 18.6h0M11.4 23.1h0M7.9 16.5h0M9.9 26.8h0M10.0 19.7h0M12.9 14.7h0M14.1 27.5h0M12.0 17.3h0M13.0 24.4h0M11.0 28.3h0M10.4 10.8h0M7.6 20.4h0M12.6 15.4h0M12.1 28.7h0M10.3 14.0h0M9.3 12.8h0M5.9 28.2h0M4.8 20.8h0M8.3 13.8h0M12.6 27.7h0M8.7 27.8h0M9.9 11.6h0M15.5 22.4h0M8.8 26.0h0M15.0 20.8h0M11.6 24.0h0M9.0 22.9h0M19.3 29.4h0M16.9 25.0h0M14.3 25.7h0M19.3 29.9h0M15.0 23.5h0M15.9 28.8h0M18.6 25.1h0M16.7 28.4h0M14.3 26.2h0M16.8 26.9h0M19.8 29.9h0M20.7 28.0h0M22.5 30.2h0M18.6 30.6h0M19.5 25.6h0M15.1 22.8h0M17.1 23.8h0M17.2 30.3h0" stroke="#a6d03c" stroke-width="1.2" stroke-linecap="round" fill="none" opacity="0.75"/><path d="M2.5 22.5h0M3.5 21.6h0M6.0 21.7h0M2.6 17.7h0M3.0 21.7h0M4.4 19.3h0M4.8 25.1h0M6.9 18.8h0M5.4 11.6h0M4.9 15.3h0M3.1 24.5h0M2.3 18.4h0M6.0 17.2h0M5.3 20.8h0M3.6 21.3h0M3.6 18.8h0M5.1 15.0h0" stroke="#eee548" stroke-width="1.2" stroke-linecap="round" fill="none" opacity="0.75"/><path d="M7.9 20.4h0M14.5 18.5h0M8.1 18.8h0M16.2 20.6h0M9.3 11.0h0M7.4 20.8h0M10.1 28.2h0M9.2 29.5h0M7.1 11.4h0M11.9 26.8h0M11.6 10.7h0M12.7 13.4h0M10.8 15.4h0M5.9 27.5h0M8.9 26.4h0M13.1 13.4h0M5.5 18.8h0M4.9 22.4h0M12.2 15.3h0M6.6 18.6h0M9.4 29.6h0M4.6 15.5h0M5.9 14.1h0M13.8 21.2h0M7.9 13.5h0M11.6 17.0h0M9.6 18.7h0M7.9 26.6h0M6.3 14.1h0M8.5 27.8h0M6.8 24.5h0M10.7 28.7h0M10.8 19.3h0M9.8 20.9h0M6.8 27.7h0M9.7 23.6h0M10.7 13.0h0M8.3 27.4h0M11.5 15.2h0M6.2 22.9h0M6.4 28.8h0M6.0 28.2h0M10.4 18.7h0M15.8 23.5h0M8.5 27.1h0M14.7 28.3h0M19.2 30.2h0M18.2 28.6h0M14.1 28.0h0M20.1 29.6h0M16.0 24.7h0M13.9 30.4h0M20.5 30.9h0M15.7 30.3h0" stroke="#8cc842" stroke-width="1.2" stroke-linecap="round" fill="none" opacity="0.75"/><path d="M6.9 12.9h0M15.9 22.6h0M10.0 29.5h0M8.0 20.1h0M13.6 14.2h0M14.4 14.2h0M15.5 18.1h0M12.9 27.0h0M9.9 16.6h0M13.1 18.3h0M10.8 20.5h0M14.6 27.8h0M8.2 12.0h0M4.7 20.1h0M11.4 18.7h0M8.1 21.1h0M8.1 11.7h0M14.4 13.4h0M10.2 11.4h0M7.4 17.7h0M15.0 26.6h0M16.2 18.9h0M16.1 16.5h0M15.1 19.6h0M5.6 23.0h0M9.4 18.0h0M15.5 22.9h0M16.5 18.0h0M5.8 17.7h0M12.5 28.9h0M12.5 23.7h0M8.5 19.5h0M8.4 20.4h0M11.9 21.6h0M9.9 18.4h0M5.3 13.1h0M12.2 10.9h0M8.0 21.7h0M5.4 19.5h0M7.0 27.2h0M4.5 23.5h0M12.2 14.0h0M6.4 17.0h0M12.8 11.1h0M9.9 22.6h0M10.5 28.9h0M9.3 18.8h0M5.7 14.6h0M7.3 10.4h0M6.1 15.9h0M10.7 13.1h0M9.1 26.6h0M20.6 26.7h0M16.5 27.6h0M15.8 28.0h0M14.7 26.0h0M13.7 30.9h0M21.6 30.7h0M13.1 30.7h0M20.9 30.4h0" stroke="#7cc444" stroke-width="1.2" stroke-linecap="round" fill="none" opacity="0.75"/><path d="M4.7 16.2h0M7.6 17.3h0M12.9 15.5h0M13.3 26.5h0M4.6 22.5h0M13.5 15.5h0M5.6 11.5h0M6.7 21.5h0M13.6 25.0h0M8.2 18.2h0M7.6 23.0h0M14.9 26.2h0M11.3 21.6h0M8.2 23.6h0M12.5 22.9h0M13.0 27.2h0M13.2 11.2h0M10.1 21.2h0M14.0 12.1h0M13.7 18.1h0M3.5 24.6h0M11.6 20.9h0M6.3 18.0h0M11.9 14.2h0M11.3 16.7h0M11.3 17.8h0M9.7 17.8h0M8.8 29.1h0M10.8 24.8h0M8.9 17.7h0M12.9 10.8h0M7.8 13.3h0M20.2 29.2h0M19.0 27.7h0M18.3 28.1h0M17.8 26.5h0M17.5 24.8h0M14.6 26.2h0M15.2 24.0h0M16.6 29.3h0M16.5 30.4h0M18.4 30.4h0M18.5 30.1h0M13.8 30.4h0" stroke="#b9d63a" stroke-width="1.2" stroke-linecap="round" fill="none" opacity="0.75"/><path d="M3.0 14.9h0M3.0 14.0h0M3.4 18.8h0M5.2 27.4h0M3.4 19.5h0M5.5 16.5h0M5.4 18.3h0M5.4 19.9h0M5.5 20.1h0M5.3 16.6h0M1.9 19.9h0M3.0 19.2h0" stroke="#d8dc36" stroke-width="1.2" stroke-linecap="round" fill="none" opacity="0.75"/><path d="M3.6 25.3h0M4.6 17.2h0M2.0 20.1h0M3.0 14.4h0M4.5 12.5h0M3.1 21.0h0M5.9 22.1h0M2.2 23.8h0M4.5 22.5h0M6.3 20.2h0M1.6 18.8h0M4.3 17.3h0M2.6 19.2h0" stroke="#e6e23a" stroke-width="1.2" stroke-linecap="round" fill="none" opacity="0.75"/><path d="M18.3 38.9h0M14.3 38.9h0M18.3 34.6h0M16.4 31.3h0M13.1 34.3h0M26.0 38.5h0M17.8 33.6h0M25.4 35.9h0M15.8 37.5h0M16.3 41.5h0M23.0 41.3h0M13.7 36.0h0M13.8 35.2h0M15.4 42.6h0M23.1 35.1h0M19.5 36.3h0M20.9 41.1h0M14.1 37.2h0M14.6 32.3h0M19.3 38.1h0M16.4 40.5h0M20.6 41.9h0M18.1 32.4h0M24.3 41.2h0M11.3 40.7h0M27.3 35.8h0M19.0 37.0h0M10.9 38.4h0M25.7 38.1h0M19.5 43.0h0M21.5 40.2h0M24.8 39.9h0M22.3 35.7h0M16.0 33.6h0M17.7 34.3h0M16.6 32.5h0M22.7 35.6h0M20.8 37.0h0M22.5 41.9h0M22.5 41.5h0M14.7 39.4h0M17.4 36.0h0M15.7 33.6h0M19.7 41.2h0M12.3 32.8h0M25.1 32.9h0M15.9 42.3h0" stroke="#3ea64a" stroke-width="1.2" stroke-linecap="round" fill="none" opacity="0.75"/><path d="M25.8 39.3h0M21.3 41.8h0M25.1 41.4h0M18.2 32.7h0M22.4 32.8h0M16.4 32.2h0M16.7 34.3h0M17.4 37.3h0M15.1 33.7h0M19.9 32.7h0M23.4 32.5h0M14.8 38.0h0M21.2 40.6h0M16.0 31.3h0M13.1 35.4h0M15.1 32.8h0M20.2 38.5h0M26.2 39.7h0M16.5 39.1h0M25.3 34.8h0M24.3 33.8h0M25.5 39.0h0M17.6 42.2h0M21.4 31.3h0M20.4 34.6h0M24.9 35.6h0M24.1 34.4h0M18.9 31.5h0M22.0 38.1h0M27.0 36.8h0" stroke="#5cb845" stroke-width="1.2" stroke-linecap="round" fill="none" opacity="0.75"/><path d="M15.3 42.2h0M12.4 37.3h0M21.4 42.1h0M24.4 33.6h0M16.1 35.0h0M25.5 35.3h0M20.1 43.1h0M15.4 36.0h0M17.4 34.9h0M21.2 36.1h0M11.7 33.5h0M13.5 31.9h0M26.9 35.8h0M11.0 38.0h0M22.4 35.7h0M19.5 43.1h0M18.0 36.0h0M14.3 31.8h0M12.6 36.1h0M22.1 32.5h0M21.9 36.1h0M25.1 32.9h0M22.1 39.9h0M18.0 39.5h0M9.9 32.4h0M21.0 35.1h0M17.8 34.2h0M26.2 34.3h0M21.5 36.1h0M19.5 41.5h0M12.7 33.2h0M24.9 38.9h0M16.4 40.4h0M21.8 38.1h0M19.8 37.8h0M17.7 39.3h0M14.6 42.4h0M26.8 40.2h0M21.8 40.7h0M24.9 39.2h0" stroke="#6cbf44" stroke-width="1.2" stroke-linecap="round" fill="none" opacity="0.75"/><path d="M18.0 31.9h0M22.7 38.3h0M23.5 33.3h0M23.4 37.8h0M15.7 31.8h0M20.4 33.9h0M22.2 31.3h0M20.0 37.7h0M14.9 42.6h0M17.3 42.9h0M25.8 39.2h0M11.9 35.7h0M18.3 41.0h0M25.8 39.6h0M20.9 36.9h0M26.5 38.1h0M16.4 39.8h0M25.1 34.5h0M16.2 35.9h0M12.8 40.0h0M13.4 31.6h0M13.7 38.9h0M21.6 33.4h0M23.1 31.8h0M22.4 37.0h0M17.3 32.8h0M17.5 43.4h0M24.0 39.0h0M10.9 33.2h0M13.2 34.3h0M21.4 43.3h0M14.8 39.3h0M22.0 31.3h0M17.3 42.8h0M14.6 36.2h0M26.1 35.9h0M22.2 32.2h0" stroke="#4aae48" stroke-width="1.2" stroke-linecap="round" fill="none" opacity="0.75"/><path d="M11.1 41.5h0M11.1 34.6h0M11.1 37.8h0" stroke="#9ccc3e" stroke-width="1.2" stroke-linecap="round" fill="none" opacity="0.75"/><path d="M11.6 32.9h0M10.4 37.3h0M13.3 39.6h0M12.1 31.1h0M9.5 36.1h0M10.9 33.0h0M9.8 31.7h0" stroke="#c8da38" stroke-width="1.2" stroke-linecap="round" fill="none" opacity="0.75"/><path d="M11.2 34.8h0M11.6 32.5h0M10.8 39.7h0M10.2 36.9h0" stroke="#b5d43a" stroke-width="1.2" stroke-linecap="round" fill="none" opacity="0.75"/><path d="M10.2 24.6h0M10.6 16.3h0M8.2 13.3h0M7.3 12.8h0M7.3 26.7h0M8.8 22.1h0M5.9 25.3h0M10.2 18.8h0M13.4 24.3h0M9.1 9.8h0M13.2 25.9h0M14.4 24.9h0M13.4 25.1h0M3.1 23.8h0M11.0 19.0h0M2.4 19.5h0M2.8 15.4h0M9.7 26.9h0M4.9 18.7h0M15.4 17.7h0M14.2 15.2h0M8.5 26.7h0M4.8 23.4h0M13.7 12.5h0M11.9 12.2h0M4.4 26.8h0M11.5 25.5h0M13.6 14.1h0M5.0 24.1h0M15.2 25.0h0M10.7 25.0h0M9.9 20.1h0M2.8 19.7h0M13.0 27.4h0M9.2 9.7h0M12.3 25.7h0M11.3 14.2h0M7.5 17.3h0M8.9 20.9h0M15.4 13.2h0M5.2 22.8h0M8.7 27.0h0M9.4 29.3h0M7.4 15.4h0M14.5 17.9h0M9.7 32.6h0M22.9 40.4h0M14.3 33.4h0M23.4 38.6h0M22.6 32.7h0M15.8 39.3h0M20.7 37.0h0M12.7 41.6h0M19.8 36.7h0M23.3 34.5h0M14.6 41.2h0M15.8 30.0h0M24.0 34.3h0M10.7 34.8h0M25.9 34.8h0M18.6 39.4h0M25.2 38.3h0M10.0 38.6h0M13.3 40.8h0M19.1 35.9h0M9.0 34.8h0M15.9 35.2h0M14.5 42.1h0M9.5 36.9h0M16.0 31.7h0M18.0 43.1h0M13.3 42.1h0M22.0 33.8h0M21.2 40.9h0M22.0 33.4h0M18.3 41.2h0M11.0 39.1h0M17.5 37.9h0M24.0 38.9h0M9.9 32.6h0M18.9 42.1h0M14.2 35.2h0M20.0 35.4h0M24.1 39.7h0M10.3 32.3h0M18.0 25.1h0M16.3 23.8h0M14.3 26.3h0M14.4 24.4h0M15.9 25.9h0M17.2 28.3h0M17.2 25.4h0M20.9 29.1h0M17.8 25.7h0M17.8 30.0h0" stroke="#ffffff" stroke-width="0.9" stroke-linecap="round" fill="none" opacity="0.5"/></g><path d="M23.0 5.4h0M25.7 8.5h0M21.3 8.4h0M20.6 6.2h0M19.2 5.3h0M19.9 6.1h0M21.7 9.6h0M27.1 10.9h0M23.1 12.5h0M19.0 4.9h0M28.7 13.3h0M23.1 7.4h0M28.0 6.2h0M23.7 4.9h0M24.9 7.2h0M24.8 13.5h0M17.7 10.8h0M22.2 4.6h0M25.6 7.8h0M16.3 10.7h0M20.5 4.2h0M17.3 13.4h0" stroke="#9fd0bb" stroke-width="0.85" stroke-linecap="round" fill="none" opacity="0.72"/><path d="M28.9 11.8h0M28.9 9.1h0M21.4 12.5h0M22.2 10.7h0M24.4 12.7h0M24.6 5.1h0M24.6 12.7h0M21.8 7.9h0M26.5 7.3h0M25.5 12.8h0M25.3 5.4h0M24.7 7.2h0M23.4 7.4h0M21.9 8.9h0M22.0 4.5h0M23.5 8.0h0M18.5 13.0h0M28.5 7.9h0M25.6 11.8h0M18.4 7.1h0M25.3 6.8h0M27.9 10.5h0M19.3 3.8h0M24.4 3.4h0M16.2 13.7h0M17.6 4.2h0M19.2 3.5h0M17.7 6.1h0M16.0 9.9h0M16.2 10.0h0" stroke="#6aae95" stroke-width="0.85" stroke-linecap="round" fill="none" opacity="0.72"/><path d="M21.7 8.3h0M25.4 5.6h0M26.4 6.7h0M28.6 13.4h0M28.1 10.7h0M19.7 9.4h0M26.1 8.9h0M26.2 7.8h0M18.8 9.3h0M20.3 7.8h0M19.8 4.2h0M27.6 12.1h0M22.4 9.0h0M25.5 10.2h0M19.0 12.7h0M19.7 10.4h0M18.4 9.3h0M21.3 13.9h0M17.1 6.5h0M19.5 9.3h0M15.8 13.1h0M26.2 5.3h0" stroke="#7fbfa5" stroke-width="0.85" stroke-linecap="round" fill="none" opacity="0.72"/><path d="M25.2 12.5h0M18.1 9.9h0M19.7 6.3h0M25.4 7.1h0M28.3 12.4h0M18.8 8.4h0M21.9 12.7h0M27.2 10.3h0M27.9 7.7h0M21.9 7.6h0M21.6 6.2h0M24.8 7.4h0M19.9 13.5h0M24.1 9.2h0M22.1 9.5h0M20.6 5.8h0M18.2 11.1h0M18.5 7.9h0M19.5 5.5h0M26.0 5.6h0M18.6 12.3h0M22.8 9.4h0M27.9 9.3h0M23.5 4.1h0M17.9 5.0h0M17.1 13.8h0" stroke="#b5dccb" stroke-width="0.85" stroke-linecap="round" fill="none" opacity="0.72"/><path d="M19.8 4.4h0M21.7 11.4h0M20.1 12.6h0M26.0 11.1h0M20.4 6.0h0M27.0 10.3h0M28.0 9.2h0M25.5 12.0h0M20.1 9.2h0M23.0 13.6h0M27.7 13.0h0M24.7 8.6h0M20.1 7.0h0M25.5 8.3h0M28.1 9.0h0M28.6 10.8h0M26.0 8.3h0M26.4 9.4h0M17.9 10.2h0M19.9 11.6h0M23.9 11.6h0M18.8 13.4h0M25.8 8.1h0M21.3 13.5h0M25.7 7.7h0M17.5 7.7h0M17.6 9.7h0" stroke="#5e9e8a" stroke-width="0.85" stroke-linecap="round" fill="none" opacity="0.72"/><path d="M33.0 27.6h0M38.7 22.3h0M32.2 20.6h0M36.1 28.6h0M31.6 21.4h0M38.8 24.3h0M35.3 25.0h0M37.7 20.3h0M37.6 30.0h0M36.8 21.3h0M35.8 18.4h0M32.7 16.0h0M33.9 28.8h0M33.2 22.8h0M36.3 27.0h0M30.1 19.8h0M39.3 23.4h0M29.8 22.4h0M30.2 19.3h0M39.8 24.4h0M38.9 22.9h0M34.5 24.5h0M34.8 24.7h0M29.9 26.7h0M33.2 26.1h0M36.3 20.3h0M29.0 17.8h0M28.9 20.0h0M34.3 16.8h0M35.1 17.6h0M31.7 18.1h0M29.3 17.1h0M37.7 21.9h0M38.7 28.0h0M31.1 27.8h0M36.0 25.2h0M30.7 21.1h0M30.0 19.4h0M35.1 17.6h0M33.0 16.5h0M17.5 15.4h0M36.8 23.6h0M32.7 24.8h0M20.9 22.5h0M21.8 21.9h0M40.2 23.2h0M30.9 13.0h0M36.3 17.4h0M32.1 20.4h0M24.6 25.9h0M31.3 32.0h0M30.6 26.0h0M27.5 32.8h0M32.4 15.6h0M33.3 13.2h0M33.4 15.8h0M31.7 22.6h0M29.2 15.0h0M38.0 28.0h0M29.1 24.6h0M32.7 18.5h0M32.0 35.1h0M34.3 23.4h0M39.6 25.1h0M29.5 23.9h0M29.8 32.9h0M36.7 26.5h0M36.1 29.9h0M36.0 20.1h0M33.0 12.3h0M34.4 27.0h0M38.3 24.5h0M25.3 27.7h0M28.7 25.7h0M33.7 14.3h0M24.0 14.3h0M32.2 15.2h0M38.7 27.2h0M19.5 15.2h0M19.5 20.8h0M36.8 15.6h0M30.7 12.9h0M32.1 33.9h0M38.1 17.3h0M31.7 19.7h0M40.7 25.9h0M39.2 25.8h0M35.4 14.6h0M24.5 32.1h0M24.0 26.5h0M34.8 19.8h0M35.6 15.0h0M32.0 31.1h0M26.9 34.8h0M34.5 14.0h0M32.5 18.2h0M35.8 27.8h0M30.8 9.4h0M19.2 14.0h0M37.7 24.2h0M29.8 8.5h0M32.6 11.2h0M26.6 34.6h0M37.2 15.2h0M28.5 36.3h0M30.7 37.2h0M39.8 19.0h0M30.2 9.1h0M29.8 36.7h0M28.4 36.1h0M25.7 33.9h0M21.4 28.5h0M39.0 28.9h0M36.9 14.7h0M35.5 34.1h0M36.6 15.2h0M32.1 11.1h0M37.3 32.6h0M40.4 20.2h0" stroke="#a9d7c5" stroke-width="0.85" stroke-linecap="round" fill="none" opacity="0.72"/><path d="M38.5 24.0h0M34.8 20.1h0M37.0 20.4h0M32.0 26.3h0M34.7 25.7h0M34.9 30.6h0M32.1 28.7h0M38.4 29.9h0M37.8 24.7h0M39.1 27.6h0M30.5 15.8h0M33.9 27.8h0M33.4 30.7h0M30.5 27.9h0M31.5 26.1h0M29.8 22.3h0M31.7 19.9h0M29.1 17.3h0M34.4 22.6h0M37.6 25.6h0M37.2 32.2h0M31.4 17.9h0M30.9 14.4h0M28.7 28.5h0M39.0 23.5h0M33.0 31.3h0M34.7 14.6h0M31.3 28.0h0M31.4 29.1h0M32.0 16.0h0M27.7 32.6h0M30.0 17.2h0M39.1 27.0h0M34.5 12.7h0M34.3 31.1h0M33.4 24.0h0M26.1 28.8h0M33.2 33.5h0M37.0 26.7h0M37.4 16.0h0M30.3 8.7h0M39.7 21.5h0M36.6 20.0h0M23.0 21.2h0M21.3 18.8h0M31.3 15.7h0M35.1 30.0h0M31.6 22.3h0M27.5 24.2h0M33.3 33.9h0M32.8 21.2h0M30.8 24.9h0M32.5 12.3h0M36.1 27.3h0M29.7 32.2h0M31.6 16.7h0M34.5 27.0h0M31.3 29.6h0M36.4 16.0h0M31.4 24.4h0M33.0 22.4h0M20.8 16.3h0M37.7 21.3h0M28.1 16.5h0M20.4 17.1h0M33.1 22.6h0M29.6 13.8h0M36.3 18.2h0M35.1 23.3h0M33.1 30.8h0M34.1 18.9h0M35.8 17.7h0M29.4 33.8h0M33.1 14.7h0M27.4 30.0h0M34.4 19.7h0M39.1 23.6h0M37.5 31.1h0M38.0 31.2h0M37.9 23.5h0M33.2 33.1h0M22.8 30.6h0M37.1 34.0h0M34.4 33.6h0M22.1 31.5h0M20.9 29.0h0M33.1 10.7h0M35.5 34.3h0M40.2 18.6h0M29.5 8.5h0M19.3 24.3h0M31.4 36.4h0M24.2 32.9h0M34.1 11.1h0M34.0 12.1h0M41.6 24.8h0M33.3 34.7h0M41.7 26.3h0M29.1 6.3h0M35.1 33.5h0M31.3 36.3h0M37.4 16.9h0M24.7 32.1h0M26.0 35.4h0M19.2 24.2h0M21.7 27.4h0M32.9 11.3h0M28.4 36.6h0M32.8 36.2h0" stroke="#8cc8b4" stroke-width="0.85" stroke-linecap="round" fill="none" opacity="0.72"/><path d="M20.7 18.4h0M24.0 23.6h0M26.3 25.2h0M27.8 15.3h0M28.4 33.5h0M22.5 18.6h0M20.8 22.2h0M25.4 24.8h0" stroke="#d4ece0" stroke-width="0.85" stroke-linecap="round" fill="none" opacity="0.72"/><path d="M20.4 19.1h0M25.3 16.4h0M25.6 24.8h0M26.8 27.3h0M19.6 19.8h0M28.2 33.6h0M27.8 32.7h0M18.5 15.3h0M19.7 21.3h0M18.9 17.8h0M26.3 30.9h0M24.6 16.7h0M20.8 17.6h0" stroke="#a9d8c0" stroke-width="0.85" stroke-linecap="round" fill="none" opacity="0.72"/><path d="M22.8 25.6h0M24.5 24.1h0M19.4 16.6h0M21.9 19.9h0M24.0 28.8h0M26.5 30.0h0M28.8 22.1h0M18.1 17.2h0M26.9 31.0h0M25.1 24.1h0M20.2 18.7h0" stroke="#9ccfb6" stroke-width="0.85" stroke-linecap="round" fill="none" opacity="0.72"/><path d="M28.3 21.5h0M18.0 16.0h0M18.1 17.3h0M21.8 20.3h0M19.0 19.3h0M25.4 25.9h0M18.8 18.5h0M22.9 23.6h0M18.6 16.5h0M19.2 23.3h0M20.0 15.2h0M22.6 15.6h0M24.3 25.7h0M23.3 14.6h0M26.7 25.6h0M25.8 31.3h0M28.4 16.1h0M22.3 26.9h0M20.5 15.5h0M23.5 28.6h0M21.6 25.7h0M27.5 31.5h0" stroke="#bfe2cf" stroke-width="0.85" stroke-linecap="round" fill="none" opacity="0.72"/><circle cx="32.6" cy="37.6" r="1.5" fill="#5e8a3c" filter="url(#bl2)"/></g>
<g transform="translate(257.8,33.0)"><rect x="0" y="0" width="44" height="44" fill="#fff" stroke="#c8c8cc" stroke-width="0.8"/><g filter="url(#bl)" opacity="0.5"><path d="M3.0 12.0 L5.0 8.5 L9.0 7.0 L13.0 8.0 L15.5 11.5 L14.5 16.0 L11.0 18.0 L6.0 18.0 L3.0 16.0Z" fill="#e6e23c"/><path d="M2.0 18.0 L6.0 17.0 L10.0 17.5 L11.5 22.0 L11.5 30.0 L10.5 35.5 L5.5 36.0 L2.0 32.0 L1.4 25.0Z" fill="#ece43a"/><path d="M11.0 27.0 L16.0 25.0 L21.0 24.0 L24.8 26.0 L25.0 32.0 L22.0 36.5 L15.0 37.3 L11.2 35.0Z" fill="#f0d434"/><path d="M15.0 15.0 L19.0 12.8 L24.0 13.0 L27.0 16.0 L26.5 22.0 L23.0 24.5 L17.0 25.5 L14.0 22.0Z" fill="#b8d43c" opacity="0.7"/><path d="M29.0 19.0 L34.0 18.5 L37.5 22.0 L35.0 27.0 L30.0 27.0Z" fill="#dfeea0"/><path d="M28.5 29.0 L33.0 28.0 L35.0 32.0 L31.5 36.5 L28.5 34.5Z" fill="#dcec98"/><path d="M22.5 7.0 L26.0 5.8 L29.4 8.0 L29.0 12.5 L25.5 13.2 L22.8 11.0Z" fill="#eaf2c4"/></g><g filter="url(#bl2)"><path d="M3.8 13.9h0M3.4 13.6h0M7.3 10.6h0M10.2 13.0h0M7.5 13.1h0M13.7 14.8h0M13.9 14.1h0M9.3 14.3h0M6.8 16.4h0M6.7 12.5h0M7.1 15.3h0M4.0 11.6h0M10.4 11.4h0M9.9 12.3h0M10.7 16.9h0M12.5 8.4h0M7.0 8.7h0M9.0 10.2h0" stroke="#f0e658" stroke-width="1.2" stroke-linecap="round" fill="none" opacity="0.75"/><path d="M9.7 14.1h0M7.5 12.4h0M4.3 16.3h0M5.8 11.9h0M10.3 8.8h0M6.0 8.5h0M12.2 9.3h0M9.6 15.9h0M12.8 11.1h0M7.3 14.3h0M14.5 10.2h0M12.6 12.5h0M6.2 11.2h0M8.5 14.6h0" stroke="#d8dc3a" stroke-width="1.2" stroke-linecap="round" fill="none" opacity="0.75"/><path d="M13.0 13.1h0M7.4 16.3h0M9.3 11.7h0M10.3 9.7h0M4.8 10.1h0M6.6 15.7h0M8.8 16.0h0M6.2 9.1h0M8.0 13.1h0M8.3 11.8h0M7.3 14.5h0M9.7 12.0h0M13.4 15.8h0M4.2 10.0h0M14.6 11.4h0M9.0 17.7h0M11.0 11.4h0M9.5 9.1h0M3.5 15.2h0" stroke="#e6e23c" stroke-width="1.2" stroke-linecap="round" fill="none" opacity="0.75"/><path d="M11.5 8.3h0M6.0 10.8h0M7.8 8.1h0M5.9 8.2h0M3.4 13.7h0M4.9 12.8h0M12.9 11.1h0M10.2 10.8h0M13.3 10.3h0M11.2 14.2h0M4.8 17.0h0M9.6 15.2h0M14.4 10.7h0M10.6 13.6h0M12.6 15.5h0M11.3 10.7h0M4.2 15.2h0M9.6 11.1h0M3.4 15.6h0M7.2 11.0h0M8.8 11.5h0M7.2 11.2h0M5.6 16.8h0M6.2 9.7h0M12.5 8.0h0M9.9 13.1h0M9.7 14.3h0M5.8 9.0h0M10.7 7.5h0" stroke="#eee44a" stroke-width="1.2" stroke-linecap="round" fill="none" opacity="0.75"/><path d="M9.3 21.4h0M8.5 33.7h0M9.1 33.7h0M7.2 29.9h0M7.0 27.4h0M10.9 22.2h0M2.0 21.3h0M10.2 34.9h0M3.6 28.9h0M8.3 19.3h0M5.5 25.6h0M3.7 30.6h0M4.5 18.8h0M5.2 22.3h0M10.3 23.6h0M4.4 24.6h0M11.3 25.2h0M8.4 23.1h0M5.9 29.3h0M8.4 27.1h0M10.9 24.8h0M5.7 17.8h0M5.4 18.0h0M8.9 29.7h0M6.2 34.5h0" stroke="#f0e040" stroke-width="1.2" stroke-linecap="round" fill="none" opacity="0.75"/><path d="M3.4 20.4h0M1.7 28.2h0M7.9 20.9h0M8.4 29.6h0M4.7 26.2h0M1.7 28.0h0M8.8 23.5h0M8.5 17.4h0M7.8 25.4h0M10.9 27.1h0M8.0 29.7h0M9.3 20.9h0M4.8 30.4h0M3.2 18.2h0M8.5 35.3h0M2.6 18.3h0M5.0 25.4h0M10.3 35.2h0M4.9 34.0h0M10.8 29.0h0M7.3 18.4h0M7.9 28.7h0M7.4 20.4h0M10.7 29.2h0M8.7 31.6h0M10.3 22.2h0M11.5 29.1h0M6.1 27.9h0M5.8 25.6h0M6.5 20.0h0" stroke="#ece43a" stroke-width="1.2" stroke-linecap="round" fill="none" opacity="0.75"/><path d="M8.9 18.8h0M4.5 17.8h0M11.0 30.5h0M8.1 32.7h0M9.4 17.6h0M7.7 17.8h0M7.0 24.7h0M11.3 25.5h0M5.3 33.4h0M7.0 27.1h0M5.8 17.8h0M6.1 18.9h0M4.2 30.3h0M1.9 21.8h0M2.9 32.5h0M8.4 17.6h0M10.8 26.6h0M6.0 18.8h0M10.0 25.7h0M5.6 25.6h0M10.1 22.3h0M6.3 25.1h0M7.5 30.6h0" stroke="#f2e656" stroke-width="1.2" stroke-linecap="round" fill="none" opacity="0.75"/><path d="M2.8 26.2h0M10.2 21.4h0M5.9 18.9h0M8.9 19.1h0M5.1 30.9h0M5.0 34.4h0M3.0 24.6h0M2.8 22.0h0M9.1 19.6h0M10.9 25.7h0M6.7 24.8h0M9.9 23.3h0" stroke="#e6de38" stroke-width="1.2" stroke-linecap="round" fill="none" opacity="0.75"/><path d="M10.2 24.1h0M10.8 24.8h0M11.3 27.4h0M11.2 28.3h0M9.9 23.0h0M10.1 20.8h0M10.5 19.6h0M11.4 29.4h0M10.0 21.0h0M9.7 21.6h0M11.7 28.9h0M9.6 21.5h0M10.5 28.1h0" stroke="#5a9a3a" stroke-width="1.2" stroke-linecap="round" fill="none" opacity="0.75"/><path d="M10.3 27.8h0M10.1 29.8h0M10.8 24.8h0M12.0 22.4h0" stroke="#4a8a38" stroke-width="1.2" stroke-linecap="round" fill="none" opacity="0.75"/><path d="M10.0 22.1h0M11.4 23.4h0M9.6 24.7h0M11.9 28.8h0M9.9 25.0h0M10.3 27.8h0M11.9 29.9h0M10.1 19.5h0" stroke="#7ab040" stroke-width="1.2" stroke-linecap="round" fill="none" opacity="0.75"/><path d="M10.7 24.9h0M9.9 22.1h0M10.9 21.0h0M11.2 18.8h0M10.8 23.3h0" stroke="#8cbc3c" stroke-width="1.2" stroke-linecap="round" fill="none" opacity="0.75"/><path d="M21.5 30.7h0M20.8 24.1h0M22.5 30.9h0M20.5 29.3h0M14.7 27.3h0M18.6 28.3h0M20.5 27.5h0M23.4 28.8h0M21.0 34.5h0M13.5 31.5h0M19.4 35.1h0M16.2 30.0h0M19.9 32.0h0M15.4 25.4h0M23.1 26.6h0M21.9 29.6h0M11.5 30.5h0M15.8 29.1h0M14.1 30.5h0M12.4 32.5h0M17.7 33.6h0M14.8 31.3h0M18.2 31.4h0M12.2 32.1h0M16.6 25.2h0" stroke="#f0d434" stroke-width="1.2" stroke-linecap="round" fill="none" opacity="0.75"/><path d="M13.5 26.9h0M16.0 25.1h0M19.8 34.6h0M14.5 36.4h0M15.9 30.6h0M22.2 33.7h0M17.8 36.5h0M22.2 35.0h0M19.5 32.0h0M20.9 24.2h0M23.9 29.6h0M20.5 25.6h0M19.8 26.1h0M22.1 35.7h0M13.9 33.8h0M20.3 36.6h0M11.6 35.2h0M17.8 36.1h0M19.8 28.6h0M14.3 36.3h0M14.8 34.9h0M23.6 31.1h0M16.7 27.5h0M16.5 33.2h0M23.3 27.8h0M20.4 31.7h0M24.7 32.2h0" stroke="#eecc2c" stroke-width="1.2" stroke-linecap="round" fill="none" opacity="0.75"/><path d="M18.6 33.9h0M23.1 25.3h0M15.3 32.9h0M18.0 34.5h0M18.7 30.9h0M21.3 36.1h0M18.2 29.2h0M21.6 30.5h0M15.4 26.3h0M21.7 34.0h0M13.2 28.8h0M18.5 33.1h0M22.1 28.3h0M22.7 32.4h0M16.4 28.9h0M12.7 32.2h0M15.1 31.9h0M11.8 30.0h0M17.0 32.7h0M18.6 28.5h0M21.5 25.6h0M17.0 29.3h0M17.1 34.9h0M20.7 26.5h0M16.8 33.4h0M15.4 36.8h0M11.1 29.8h0M16.0 35.8h0M15.9 27.8h0M19.6 33.2h0M15.1 27.7h0M16.2 26.1h0M14.1 36.1h0" stroke="#f2dc40" stroke-width="1.2" stroke-linecap="round" fill="none" opacity="0.75"/><path d="M16.9 29.0h0M18.5 36.6h0M15.5 35.7h0M22.0 25.4h0M11.4 35.0h0M11.6 28.9h0M24.6 32.1h0M20.6 33.7h0M11.8 33.5h0M24.5 27.0h0M16.6 28.0h0M22.2 35.4h0M14.6 32.3h0M20.1 30.8h0M18.1 27.2h0M20.7 36.0h0M19.4 25.4h0M11.7 30.0h0M21.1 27.4h0M12.8 30.2h0M22.8 27.6h0M16.3 34.4h0M14.0 30.5h0M16.0 28.6h0M11.6 34.0h0" stroke="#f4e050" stroke-width="1.2" stroke-linecap="round" fill="none" opacity="0.75"/><path d="M24.6 23.0h0M24.0 19.5h0M15.4 20.1h0M17.3 18.2h0M25.0 22.8h0M14.2 21.7h0M20.3 17.6h0M25.3 21.5h0M22.5 24.3h0M14.8 22.4h0M15.6 21.0h0M20.0 13.2h0M20.5 13.1h0M22.8 22.6h0M16.4 21.2h0" stroke="#d8e060" stroke-width="1.2" stroke-linecap="round" fill="none" opacity="0.75"/><path d="M15.2 22.0h0M16.4 19.2h0M24.2 14.9h0M17.2 17.5h0M14.8 21.0h0M19.5 13.9h0M21.1 24.1h0M15.6 20.3h0M25.6 18.7h0M18.3 17.8h0M25.5 22.5h0M17.6 17.2h0M20.9 13.6h0M20.7 24.6h0" stroke="#a8cc3c" stroke-width="1.2" stroke-linecap="round" fill="none" opacity="0.75"/><path d="M19.8 17.4h0M22.9 21.6h0M26.9 16.9h0M21.7 16.6h0M14.2 21.8h0M22.6 16.5h0M20.6 14.0h0M16.5 17.9h0M21.9 16.3h0M25.7 21.4h0M23.8 13.7h0M18.5 15.1h0M23.0 22.5h0M16.5 17.4h0M21.9 15.8h0M20.6 24.3h0M22.1 15.6h0M24.6 14.4h0" stroke="#cadc48" stroke-width="1.2" stroke-linecap="round" fill="none" opacity="0.75"/><path d="M21.6 14.2h0M17.3 17.4h0M18.5 19.4h0M26.4 20.3h0M22.6 22.8h0M20.5 23.0h0M16.3 19.1h0M21.2 16.2h0M26.1 18.6h0M15.4 19.1h0M17.1 15.7h0M17.9 17.5h0M24.5 22.7h0M22.3 16.8h0" stroke="#b8d43c" stroke-width="1.2" stroke-linecap="round" fill="none" opacity="0.75"/><path d="M21.3 20.2h0M21.4 19.2h0M19.5 20.5h0M19.1 21.3h0M22.9 19.9h0" stroke="#6aae3c" stroke-width="1.2" stroke-linecap="round" fill="none" opacity="0.75"/><path d="M19.5 22.7h0M21.6 20.3h0M16.7 23.1h0M22.0 19.7h0M25.3 17.9h0M18.3 21.1h0M17.2 22.8h0M17.0 22.1h0M19.7 22.3h0" stroke="#2f8a38" stroke-width="1.2" stroke-linecap="round" fill="none" opacity="0.75"/><path d="M16.6 23.7h0M20.6 19.9h0M17.2 23.3h0M18.3 23.3h0M22.4 20.1h0" stroke="#55a83c" stroke-width="1.2" stroke-linecap="round" fill="none" opacity="0.75"/><path d="M26.8 17.1h0M15.3 15.7h0M19.0 18.0h0M21.3 24.0h0M24.9 13.9h0M26.3 19.4h0M18.9 19.6h0" stroke="#8cbc3a" stroke-width="1.2" stroke-linecap="round" fill="none" opacity="0.75"/><path d="M24.7 18.5h0M25.4 16.5h0M20.9 21.5h0" stroke="#3f9a3a" stroke-width="1.2" stroke-linecap="round" fill="none" opacity="0.75"/><path d="M4.8 14.2h0M10.1 10.9h0M3.7 11.3h0M3.2 15.7h0M10.2 11.2h0M8.1 14.0h0M10.4 12.2h0M9.0 15.0h0M8.5 10.2h0M10.9 12.9h0M9.2 7.3h0M7.3 14.6h0M13.2 16.2h0M7.0 17.2h0M11.0 14.8h0M9.5 7.3h0M12.7 10.1h0M6.4 15.1h0M12.2 15.3h0M15.1 10.9h0M5.1 33.6h0M8.3 22.5h0M5.3 18.6h0M2.0 18.5h0M10.2 18.0h0M3.7 19.0h0M10.7 20.6h0M10.7 27.9h0M8.6 35.5h0M10.2 31.7h0M5.3 20.8h0M8.5 30.5h0M2.8 20.8h0M2.7 29.4h0M6.0 29.6h0M7.7 32.3h0M10.9 22.6h0M11.0 31.7h0M6.0 25.3h0M10.0 30.9h0M10.1 29.5h0M6.6 17.4h0M8.1 33.0h0M11.3 30.6h0M8.2 34.4h0M15.2 30.0h0M22.4 30.6h0M18.9 30.3h0M11.8 33.4h0M22.6 30.2h0M24.3 30.4h0M22.6 35.4h0M21.3 34.7h0M15.1 28.7h0M12.9 35.0h0M20.0 34.2h0M20.9 26.9h0M18.7 33.4h0M18.9 26.2h0M22.1 29.9h0M15.9 32.5h0M16.8 32.9h0M18.1 34.8h0M17.7 35.7h0M15.5 31.1h0M21.0 32.9h0M11.5 32.0h0M18.9 34.8h0M20.1 28.9h0M18.6 27.3h0M22.0 22.6h0M17.9 21.1h0M18.3 15.1h0M21.1 21.6h0M24.8 13.8h0M18.2 18.0h0M15.8 19.7h0M16.2 17.4h0M15.1 22.1h0M26.2 16.1h0M20.1 16.4h0M18.1 13.4h0M18.0 16.3h0M17.8 19.8h0M16.2 23.7h0M19.5 16.9h0M19.3 15.7h0M15.4 16.4h0M16.6 20.9h0M23.3 19.2h0M26.6 20.7h0M16.7 23.2h0M22.9 24.1h0M21.0 19.1h0M20.1 16.3h0" stroke="#ffffff" stroke-width="1.0" stroke-linecap="round" fill="none" opacity="0.55"/></g><path d="M31.7 16.8h0M38.7 26.3h0M30.8 25.1h0M29.0 30.9h0M28.4 16.5h0M35.3 29.6h0M32.8 27.5h0M30.3 35.8h0M39.1 26.0h0M37.2 18.6h0M38.5 21.2h0M28.7 23.6h0" stroke="#9cc890" stroke-width="1.0" stroke-linecap="round" fill="none" opacity="0.85"/><path d="M34.3 24.4h0M32.7 26.3h0M30.6 16.5h0M36.4 22.3h0M28.1 15.7h0M34.5 24.1h0M31.3 16.6h0M39.3 21.1h0M36.1 30.8h0" stroke="#e3eec0" stroke-width="1.0" stroke-linecap="round" fill="none" opacity="0.85"/><path d="M39.9 23.7h0M39.6 21.4h0M40.3 23.0h0M37.1 34.7h0M31.8 30.9h0M37.3 33.4h0M35.5 16.7h0M27.6 31.3h0" stroke="#a9cf80" stroke-width="1.0" stroke-linecap="round" fill="none" opacity="0.85"/><path d="M32.7 23.4h0M36.2 21.9h0M27.9 23.9h0M30.9 14.5h0M36.0 17.2h0M35.0 18.9h0M38.4 22.2h0M34.2 22.4h0M31.6 32.4h0" stroke="#cfe49a" stroke-width="1.0" stroke-linecap="round" fill="none" opacity="0.85"/><path d="M28.5 16.2h0M29.0 32.8h0M37.9 29.2h0M29.4 35.5h0M28.0 33.6h0M34.7 32.8h0M39.7 28.7h0M39.6 26.4h0M36.2 32.0h0M32.8 20.2h0M31.8 29.0h0M31.9 17.2h0" stroke="#b8d888" stroke-width="1.0" stroke-linecap="round" fill="none" opacity="0.85"/><path d="M36.0 23.1h0M31.0 23.0h0M33.9 26.0h0M32.3 21.9h0M37.0 22.5h0M34.1 24.9h0M35.6 22.0h0M34.2 20.0h0M35.3 22.7h0M34.9 25.6h0M30.2 31.4h0M30.7 31.1h0M31.4 32.8h0M30.0 29.9h0M26.6 12.8h0M25.4 6.4h0M23.7 11.1h0M27.6 10.6h0M27.5 9.8h0M23.1 7.5h0M23.6 11.1h0M27.9 7.4h0M26.2 12.9h0" stroke="#d8e8a0" stroke-width="1.0" stroke-linecap="round" fill="none" opacity="0.85"/><path d="M30.9 19.2h0M34.7 20.2h0M31.3 19.5h0M32.6 26.0h0M30.3 20.0h0M35.8 25.0h0M32.2 25.4h0M30.9 21.6h0M35.0 22.6h0M31.0 23.8h0M30.2 23.7h0M31.8 29.4h0M32.3 29.7h0M28.7 31.4h0M32.2 32.8h0M28.7 34.4h0M31.2 30.5h0M32.2 34.1h0M29.2 33.5h0M29.4 29.2h0" stroke="#b0d470" stroke-width="1.0" stroke-linecap="round" fill="none" opacity="0.85"/><path d="M34.3 21.3h0M30.1 26.2h0M29.3 20.8h0M30.2 25.5h0M32.4 29.4h0M31.9 33.8h0M31.8 34.8h0M28.8 34.5h0M30.6 29.4h0M33.1 28.5h0M33.4 29.3h0" stroke="#c8e080" stroke-width="1.0" stroke-linecap="round" fill="none" opacity="0.85"/><path d="M26.5 12.2h0M23.1 11.0h0M25.7 11.4h0M23.9 9.5h0M29.3 8.8h0M28.8 8.0h0M23.8 11.3h0" stroke="#e6efc0" stroke-width="1.0" stroke-linecap="round" fill="none" opacity="0.85"/><path d="M25.6 9.4h0M27.2 7.8h0" stroke="#c8e090" stroke-width="1.0" stroke-linecap="round" fill="none" opacity="0.85"/><circle cx="18.5" cy="22" r="1.0" fill="#4a8a3a" opacity="0.8"/><path d="M16.8 40 L17 42.5" stroke="#4d8a3a" stroke-width="1.2"/><path d="M28.5 35.5 L29.2 38.5" stroke="#6da04a" stroke-width="1.2"/><circle cx="39.1" cy="20.9" r="0.8" fill="#7a90a0"/></g>
<g transform="translate(257.8,83.0)"><rect x="0" y="0" width="44" height="44" fill="#fff" stroke="#c8c8cc" stroke-width="0.8"/><g filter="url(#bl)" opacity="0.5"><path d="M3.0 12.0 L5.0 8.5 L9.0 7.0 L13.0 8.0 L15.5 11.5 L14.5 16.0 L11.0 18.0 L6.0 18.0 L3.0 16.0Z" fill="#d8e040"/><path d="M2.0 18.0 L6.0 17.0 L10.0 17.5 L11.5 22.0 L11.5 30.0 L10.5 35.5 L5.5 36.0 L2.0 32.0 L1.4 25.0Z" fill="#f0dc34"/><path d="M11.0 27.0 L16.0 25.0 L21.0 24.0 L24.8 26.0 L25.0 32.0 L22.0 36.5 L15.0 37.3 L11.2 35.0Z" fill="#f0c828"/><path d="M15.0 15.0 L19.0 12.8 L24.0 13.0 L27.0 16.0 L26.5 22.0 L23.0 24.5 L17.0 25.5 L14.0 22.0Z" fill="#d8e890" opacity="0.7"/><path d="M29.0 19.0 L34.0 18.5 L37.5 22.0 L35.0 27.0 L30.0 27.0Z" fill="#dfeea0"/><path d="M28.5 29.0 L33.0 28.0 L35.0 32.0 L31.5 36.5 L28.5 34.5Z" fill="#dcec98"/><path d="M22.5 7.0 L26.0 5.8 L29.4 8.0 L29.0 12.5 L25.5 13.2 L22.8 11.0Z" fill="#eaf2c4"/></g><g filter="url(#bl2)"><path d="M11.5 14.4h0M11.5 16.8h0M5.1 17.2h0M13.6 10.2h0M4.4 16.0h0M9.1 16.4h0M10.7 15.4h0M15.1 12.9h0M9.2 10.0h0M3.5 13.8h0M6.7 14.8h0M7.0 13.6h0M6.8 15.3h0M10.5 16.3h0M9.3 11.0h0M11.8 13.8h0M10.6 14.9h0M13.1 11.9h0M10.9 14.8h0M8.4 15.8h0M6.3 15.9h0M10.4 16.3h0M9.3 7.4h0" stroke="#ccdc48" stroke-width="1.2" stroke-linecap="round" fill="none" opacity="0.75"/><path d="M3.8 12.6h0M5.7 9.3h0M11.2 15.0h0M12.9 13.5h0M4.7 15.1h0M4.5 16.6h0M10.4 10.3h0M10.6 15.7h0M10.8 8.3h0M4.4 15.8h0M10.4 8.4h0M3.7 15.3h0M7.3 15.6h0M7.6 14.2h0M4.4 16.0h0M11.1 14.5h0M4.9 15.4h0M3.3 15.1h0M11.9 16.6h0M14.5 12.7h0M7.1 13.3h0" stroke="#d8e040" stroke-width="1.2" stroke-linecap="round" fill="none" opacity="0.75"/><path d="M5.5 15.6h0M12.4 13.2h0M8.1 9.9h0M4.3 12.6h0M3.5 15.2h0M7.1 14.5h0M4.6 10.2h0M9.5 8.3h0M11.1 16.4h0M4.2 10.7h0M5.7 14.3h0M11.7 13.8h0M10.8 9.7h0M3.1 11.9h0M15.1 11.0h0" stroke="#c8d840" stroke-width="1.2" stroke-linecap="round" fill="none" opacity="0.75"/><path d="M8.9 10.6h0M3.9 14.4h0M15.2 11.8h0M9.1 7.6h0M7.5 14.8h0M6.2 12.6h0M14.9 13.5h0M11.0 10.1h0M6.6 10.2h0M12.6 11.0h0M8.7 15.4h0M13.0 15.0h0M5.9 17.2h0M5.6 17.3h0M8.1 14.0h0M12.2 10.3h0M8.7 15.6h0M6.4 11.6h0M7.1 13.6h0M13.2 12.7h0M11.7 9.2h0" stroke="#e4e244" stroke-width="1.2" stroke-linecap="round" fill="none" opacity="0.75"/><path d="M10.1 31.1h0M5.9 32.2h0M9.7 33.5h0M3.5 31.1h0M5.1 23.2h0M3.0 21.1h0M2.8 28.3h0M2.1 21.1h0M2.8 23.9h0M4.5 21.6h0M4.4 30.1h0M8.0 28.3h0M5.2 27.3h0M7.7 20.6h0M5.7 21.2h0M3.4 31.6h0M9.2 27.7h0M5.8 21.0h0M7.3 27.2h0M2.2 23.4h0" stroke="#f2e448" stroke-width="1.2" stroke-linecap="round" fill="none" opacity="0.75"/><path d="M5.6 22.1h0M11.5 28.2h0M2.1 26.7h0M4.9 29.2h0M2.2 24.8h0M9.8 30.9h0M3.9 26.3h0M10.2 25.0h0M4.7 23.9h0M4.7 21.9h0M10.9 32.9h0M2.0 26.4h0M8.2 20.5h0M4.7 29.1h0M4.8 27.6h0M9.3 32.6h0M6.5 30.5h0M9.5 20.4h0M8.0 17.6h0M9.2 24.9h0M2.7 18.7h0M8.9 20.6h0M7.9 31.8h0M9.2 32.6h0M7.2 30.6h0M7.1 19.9h0M9.5 21.0h0" stroke="#e8d832" stroke-width="1.2" stroke-linecap="round" fill="none" opacity="0.75"/><path d="M3.0 30.7h0M6.7 23.6h0M11.0 32.0h0M7.1 32.4h0M7.3 34.5h0M2.9 26.8h0M4.3 28.4h0M3.7 24.6h0M7.4 31.1h0M9.3 25.9h0M5.6 17.7h0M5.6 20.6h0M11.4 26.0h0M9.4 19.7h0M8.6 29.2h0M5.3 32.6h0M7.9 18.2h0M5.0 18.3h0M7.3 30.5h0M10.1 30.8h0M2.2 26.4h0M10.3 27.3h0" stroke="#f0dc34" stroke-width="1.2" stroke-linecap="round" fill="none" opacity="0.75"/><path d="M2.0 30.0h0M3.0 27.8h0M6.2 31.0h0M7.3 19.0h0M3.7 28.4h0M4.7 20.8h0M1.9 22.8h0M9.7 31.5h0M4.3 31.6h0M11.2 23.0h0M5.2 20.6h0M8.5 33.6h0M10.6 21.1h0M9.6 27.8h0M4.9 26.8h0M9.0 26.0h0M8.4 17.8h0M6.0 35.1h0M9.8 24.7h0M4.6 19.5h0M2.6 32.5h0" stroke="#eed430" stroke-width="1.2" stroke-linecap="round" fill="none" opacity="0.75"/><path d="M11.7 27.4h0M10.1 26.2h0M10.7 26.8h0M11.5 22.6h0M11.5 23.2h0M12.2 29.5h0M11.9 29.8h0M12.3 29.8h0M10.6 26.1h0M11.5 19.8h0" stroke="#7ab040" stroke-width="1.2" stroke-linecap="round" fill="none" opacity="0.75"/><path d="M11.4 24.7h0M10.1 22.3h0M12.1 29.8h0M12.0 26.5h0M10.1 27.6h0M10.7 29.5h0M11.2 24.9h0M12.2 27.3h0" stroke="#8cbc3c" stroke-width="1.2" stroke-linecap="round" fill="none" opacity="0.75"/><path d="M11.3 24.6h0M9.9 21.1h0M9.9 19.8h0M11.5 22.4h0" stroke="#5a9a3a" stroke-width="1.2" stroke-linecap="round" fill="none" opacity="0.75"/><path d="M11.5 27.0h0M9.6 28.5h0M11.8 26.6h0M12.0 23.7h0M10.3 18.8h0M12.3 26.3h0M12.4 29.1h0M11.1 22.8h0" stroke="#4a8a38" stroke-width="1.2" stroke-linecap="round" fill="none" opacity="0.75"/><path d="M14.3 35.4h0M18.5 33.5h0M18.0 30.3h0M15.9 35.4h0M16.3 28.6h0M20.3 26.5h0M16.2 30.5h0M21.8 33.2h0M23.2 25.7h0M22.0 25.8h0M15.1 35.5h0M14.9 36.5h0M11.6 30.3h0M12.4 32.0h0M16.0 32.5h0M16.2 30.2h0M14.3 31.6h0M20.4 26.6h0M22.9 31.7h0M22.0 26.1h0M19.1 33.9h0M22.7 29.4h0M23.3 32.3h0M22.1 28.1h0M13.1 34.1h0M24.1 30.9h0M18.5 32.4h0" stroke="#f0c828" stroke-width="1.2" stroke-linecap="round" fill="none" opacity="0.75"/><path d="M12.1 27.6h0M16.3 34.7h0M18.6 28.4h0M23.7 28.0h0M18.0 27.0h0M13.7 31.9h0M21.9 25.5h0M18.9 31.0h0M18.3 31.0h0M11.9 27.0h0M19.1 26.7h0M14.8 35.6h0M21.6 24.6h0M20.8 32.5h0M14.5 34.5h0M16.5 27.4h0M17.9 25.5h0M22.0 24.8h0M21.8 33.4h0M21.5 35.4h0M19.7 28.3h0M21.4 33.1h0M16.9 31.7h0M15.1 30.2h0M22.4 35.7h0M13.0 31.0h0M22.5 27.7h0M21.3 30.6h0M16.7 31.9h0M12.1 34.1h0M19.2 30.6h0M23.7 27.8h0" stroke="#f4d038" stroke-width="1.2" stroke-linecap="round" fill="none" opacity="0.75"/><path d="M19.9 33.1h0M21.4 29.1h0M19.0 34.3h0M15.3 27.7h0M23.2 28.9h0M21.3 29.4h0M11.3 28.0h0M15.1 35.2h0M12.1 30.5h0M13.6 32.8h0M12.2 32.7h0M23.6 30.1h0M21.2 28.8h0M17.1 31.8h0M22.4 31.0h0M15.7 27.5h0M13.7 34.0h0M14.3 29.4h0M20.7 28.7h0M20.2 29.4h0M13.4 29.6h0M16.1 25.8h0M17.5 27.1h0M15.6 30.9h0M17.8 35.0h0M14.8 34.5h0" stroke="#f2d448" stroke-width="1.2" stroke-linecap="round" fill="none" opacity="0.75"/><path d="M15.7 29.6h0M18.6 27.4h0M17.1 29.4h0M21.2 30.4h0M17.4 30.8h0M12.8 28.7h0M11.9 35.1h0M17.2 35.5h0M14.4 31.5h0M16.4 37.0h0M14.2 25.8h0M21.8 27.9h0M18.3 28.8h0M20.6 27.4h0M21.6 30.9h0M14.4 29.8h0M20.8 24.4h0M16.0 32.9h0M22.7 34.7h0M20.2 31.1h0M14.1 26.2h0M24.2 27.4h0M13.6 28.6h0M23.1 26.7h0M20.3 26.9h0" stroke="#eebc24" stroke-width="1.2" stroke-linecap="round" fill="none" opacity="0.75"/><path d="M25.8 17.0h0M16.7 16.4h0M19.4 13.3h0M14.9 20.8h0M19.1 20.7h0M16.5 17.0h0M24.7 16.6h0M18.5 19.3h0M23.8 15.7h0M24.0 19.8h0M19.0 23.2h0M23.5 20.4h0" stroke="#e0eca0" stroke-width="1.2" stroke-linecap="round" fill="none" opacity="0.75"/><path d="M24.0 13.6h0M25.2 17.2h0M22.6 13.3h0M22.9 13.6h0M19.2 16.8h0M17.3 15.8h0M23.0 21.3h0M20.0 24.5h0M21.5 20.6h0M22.3 15.1h0M16.5 24.4h0M19.4 13.5h0M19.0 22.5h0M18.3 24.2h0" stroke="#b8d860" stroke-width="1.2" stroke-linecap="round" fill="none" opacity="0.75"/><path d="M19.8 23.4h0M16.4 15.1h0M16.8 22.2h0M21.0 24.1h0M23.1 24.3h0M24.0 16.9h0M22.4 16.9h0M15.8 17.4h0M18.0 23.4h0M26.2 21.9h0M23.4 17.4h0M18.9 20.3h0M15.6 19.5h0M19.5 16.5h0M15.0 17.0h0M22.5 16.9h0M21.8 13.8h0M26.1 18.6h0M18.0 20.0h0" stroke="#c8e070" stroke-width="1.2" stroke-linecap="round" fill="none" opacity="0.75"/><path d="M24.7 14.8h0M16.8 16.7h0M26.1 16.6h0M25.5 17.2h0M23.1 17.3h0M16.4 17.7h0M24.3 14.9h0M26.8 17.2h0M15.1 19.0h0M19.8 24.7h0M16.0 23.4h0M17.0 23.5h0M23.2 22.1h0M18.1 19.1h0M18.3 16.9h0" stroke="#d8e890" stroke-width="1.2" stroke-linecap="round" fill="none" opacity="0.75"/><path d="M9.4 8.7h0M13.4 14.7h0M10.8 15.3h0M9.9 10.3h0M14.8 12.5h0M12.1 17.0h0M4.5 14.4h0M10.6 16.6h0M10.1 11.1h0M8.0 10.8h0M5.9 10.8h0M8.5 11.1h0M14.1 15.6h0M11.1 9.1h0M10.5 7.5h0M7.4 9.6h0M15.0 13.0h0M4.2 11.4h0M10.4 10.3h0M5.5 8.9h0M6.0 24.4h0M9.0 21.5h0M4.7 18.6h0M5.5 32.2h0M9.8 25.2h0M8.0 31.8h0M7.1 29.3h0M3.9 21.3h0M9.0 22.3h0M5.6 27.6h0M8.0 23.7h0M3.4 29.4h0M10.7 24.7h0M3.0 18.4h0M9.4 24.9h0M10.3 34.3h0M2.0 19.5h0M9.7 25.1h0M9.3 34.7h0M9.5 21.8h0M9.9 35.2h0M10.2 34.6h0M7.5 34.2h0M2.1 32.0h0M6.2 23.1h0M14.1 31.2h0M18.3 31.8h0M22.4 26.5h0M15.6 34.1h0M17.2 28.8h0M12.4 28.3h0M12.6 34.4h0M13.6 30.0h0M13.0 35.7h0M20.9 27.2h0M21.6 25.0h0M20.6 30.0h0M21.2 36.1h0M18.5 29.8h0M18.2 28.6h0M18.9 34.5h0M23.0 32.1h0M11.4 34.6h0M20.8 25.9h0M17.7 26.6h0M23.0 28.8h0M20.7 30.3h0M14.9 29.6h0M11.7 26.9h0M21.0 26.0h0M17.9 14.7h0M19.9 18.0h0M20.5 18.6h0M24.1 16.7h0M26.4 15.9h0M26.2 15.3h0M18.8 18.8h0M26.3 20.0h0M19.3 20.7h0M17.9 15.0h0M24.4 15.1h0M19.9 24.7h0M22.4 13.1h0M24.0 20.3h0M25.8 17.8h0M26.0 16.0h0M24.3 18.8h0M18.4 20.9h0M22.0 22.5h0M17.4 22.4h0M24.1 21.3h0M22.2 20.8h0M15.5 23.3h0M19.2 18.3h0M21.4 19.0h0" stroke="#ffffff" stroke-width="1.0" stroke-linecap="round" fill="none" opacity="0.55"/></g><path d="M32.5 26.2h0M31.3 16.1h0M29.3 20.8h0M40.2 24.5h0M37.9 27.5h0M28.2 18.4h0M32.6 22.2h0M33.3 24.1h0M27.8 23.2h0M32.7 17.7h0" stroke="#a9cf80" stroke-width="1.0" stroke-linecap="round" fill="none" opacity="0.85"/><path d="M37.8 31.3h0M29.9 25.2h0M28.7 32.9h0M35.8 22.9h0M31.3 34.7h0M34.2 15.7h0M27.1 32.9h0M40.3 26.4h0M30.2 23.6h0M35.8 21.3h0M32.7 15.9h0M28.1 25.1h0M37.6 31.7h0" stroke="#9cc890" stroke-width="1.0" stroke-linecap="round" fill="none" opacity="0.85"/><path d="M35.7 30.7h0M32.8 23.2h0M31.1 27.1h0M34.5 16.1h0M31.9 26.6h0M35.7 16.3h0M29.4 30.7h0M32.2 33.9h0" stroke="#e3eec0" stroke-width="1.0" stroke-linecap="round" fill="none" opacity="0.85"/><path d="M31.8 28.5h0M29.5 19.5h0M30.6 33.1h0M30.3 33.3h0M39.4 18.8h0M31.2 31.2h0M31.4 23.9h0M30.8 25.7h0M32.9 27.2h0M36.6 26.8h0" stroke="#b8d888" stroke-width="1.0" stroke-linecap="round" fill="none" opacity="0.85"/><path d="M32.9 20.8h0M29.6 15.8h0M33.5 23.4h0M37.2 25.0h0M27.8 25.2h0M27.8 23.4h0M28.2 18.7h0M29.9 28.2h0M38.0 30.2h0" stroke="#cfe49a" stroke-width="1.0" stroke-linecap="round" fill="none" opacity="0.85"/><path d="M31.2 24.9h0M34.3 24.4h0M30.3 19.2h0M34.0 23.8h0M31.1 26.6h0M32.3 35.3h0M30.8 31.1h0M31.2 30.3h0M31.7 34.8h0M30.8 29.0h0M32.6 31.2h0M30.5 31.1h0M33.9 30.9h0M23.4 10.6h0M25.7 10.2h0M26.8 10.0h0" stroke="#d8e8a0" stroke-width="1.0" stroke-linecap="round" fill="none" opacity="0.85"/><path d="M34.3 25.0h0M32.5 21.2h0M29.7 23.3h0M34.2 24.4h0M30.0 25.8h0M30.6 19.3h0M32.3 21.9h0M30.9 34.8h0M29.7 31.8h0M33.3 33.9h0M32.6 33.4h0M31.2 32.4h0M31.4 30.3h0" stroke="#b0d470" stroke-width="1.0" stroke-linecap="round" fill="none" opacity="0.85"/><path d="M30.2 23.9h0M30.8 18.9h0M32.8 24.6h0M31.5 19.0h0M32.0 21.3h0M30.4 23.7h0M32.2 23.5h0M34.3 21.3h0M31.9 26.6h0M33.9 20.9h0M29.6 20.7h0M34.0 19.3h0M32.1 26.7h0M31.7 29.1h0M30.2 30.1h0M32.6 34.9h0M33.7 30.5h0M33.5 32.1h0M33.4 29.2h0" stroke="#c8e080" stroke-width="1.0" stroke-linecap="round" fill="none" opacity="0.85"/><path d="M27.4 10.4h0M24.6 8.5h0M22.9 9.2h0M26.9 7.1h0M28.5 8.7h0M23.3 8.9h0M28.5 12.1h0M23.4 8.3h0" stroke="#e6efc0" stroke-width="1.0" stroke-linecap="round" fill="none" opacity="0.85"/><path d="M26.2 12.0h0M27.7 10.2h0M27.0 12.3h0M23.7 9.9h0M26.1 6.5h0M27.7 7.6h0M23.6 11.2h0" stroke="#c8e090" stroke-width="1.0" stroke-linecap="round" fill="none" opacity="0.85"/><circle cx="18.5" cy="22" r="1.0" fill="#4a8a3a" opacity="0.8"/><path d="M16.8 40 L17 42.5" stroke="#4d8a3a" stroke-width="1.2"/><path d="M28.5 35.5 L29.2 38.5" stroke="#6da04a" stroke-width="1.2"/><circle cx="39.1" cy="20.9" r="0.8" fill="#7a90a0"/></g>
<g transform="translate(319.3,32.6)"><rect x="0" y="0" width="44" height="44" fill="#fff" stroke="#c8c8cc" stroke-width="0.8"/><g filter="url(#bl)" opacity="0.5"><path d="M12.0 8.0 L18.0 4.5 L26.0 4.0 L32.0 6.0 L36.0 12.0 L36.0 18.0 L31.0 20.0 L24.0 19.0 L18.0 16.0 L13.0 14.0Z" fill="#c9e040"/><path d="M1.5 17.0 L6.0 13.0 L11.0 13.5 L16.0 17.5 L20.0 23.0 L19.0 29.0 L13.0 31.0 L6.0 30.0 L2.0 25.0Z" fill="#c9e040"/><path d="M5.0 28.0 L12.0 29.0 L20.0 27.0 L24.0 33.0 L23.0 40.0 L16.0 42.0 L9.0 40.0 L5.0 34.0Z" fill="#dbe98a"/></g><g filter="url(#bl2)"><path d="M18.4 5.9h0M22.0 14.2h0M24.0 4.5h0M25.2 14.2h0M22.0 9.6h0M28.1 11.1h0M25.0 4.2h0M24.5 13.1h0M32.8 17.6h0M28.4 16.2h0M26.8 14.2h0M26.6 12.9h0M29.1 16.3h0M24.1 14.5h0M21.9 15.0h0M29.9 9.4h0M32.7 14.5h0M22.4 6.9h0M15.4 12.0h0M25.1 8.9h0M23.7 15.1h0M23.1 9.6h0M35.8 13.9h0M28.9 5.3h0M29.5 18.2h0M29.2 9.8h0M29.9 19.7h0M19.0 5.6h0M18.0 10.1h0M33.0 10.5h0M14.8 13.8h0M9.4 26.1h0M9.4 18.4h0M2.9 24.0h0M10.1 20.8h0M14.7 28.9h0M11.5 14.8h0M9.9 24.3h0M13.4 22.4h0M14.2 24.9h0M3.4 19.4h0M12.3 29.9h0M7.9 16.5h0M17.5 20.7h0M12.8 29.9h0M11.3 17.8h0M6.2 19.4h0M12.4 29.9h0M7.7 13.5h0M2.5 18.5h0M18.6 23.3h0M2.2 17.5h0M3.8 22.8h0M17.9 20.9h0M17.4 28.3h0" stroke="#9cc832" stroke-width="1.1" stroke-linecap="round" fill="none" opacity="0.75"/><path d="M20.0 7.6h0M28.9 15.1h0M18.5 7.4h0M30.7 15.8h0M18.8 9.4h0M24.8 12.9h0M28.8 6.0h0M24.5 4.4h0M25.0 11.1h0M22.6 17.9h0M15.3 11.9h0M31.2 7.1h0M34.7 18.5h0M16.8 15.5h0M24.4 14.8h0M23.6 13.9h0M20.4 5.2h0M35.7 15.7h0M22.2 13.9h0M28.2 16.9h0M32.8 11.6h0M21.3 11.9h0M20.2 14.1h0M27.9 8.1h0M16.0 7.7h0M18.6 14.5h0M22.0 15.7h0M28.3 17.4h0M21.4 7.4h0M22.7 6.8h0M25.0 16.3h0M36.0 14.9h0M26.2 10.5h0M26.3 4.6h0M15.7 11.7h0M27.5 5.9h0M35.1 17.3h0M34.2 14.6h0M31.6 18.1h0M27.3 4.8h0M13.2 26.8h0M15.8 27.9h0M8.3 21.7h0M3.9 24.9h0M6.8 18.0h0M14.6 23.3h0M15.8 18.5h0M16.7 22.0h0M6.9 14.4h0M10.5 16.9h0M16.1 28.5h0M14.9 27.8h0M9.6 14.1h0M11.4 27.0h0M8.9 24.4h0M6.0 15.7h0M18.6 26.6h0M13.1 23.3h0M5.8 14.1h0M6.0 19.6h0M10.0 13.7h0M6.8 27.3h0M4.1 23.7h0M11.2 30.2h0M16.1 26.5h0M10.1 27.1h0M12.0 17.7h0" stroke="#c8e040" stroke-width="1.1" stroke-linecap="round" fill="none" opacity="0.75"/><path d="M22.6 5.3h0M13.7 8.8h0M16.2 8.8h0M35.3 11.1h0M20.8 14.6h0M19.2 14.6h0M23.2 8.2h0M28.5 7.0h0M30.8 16.7h0M20.4 5.8h0M14.3 8.0h0M18.8 6.4h0M13.4 10.7h0M22.5 11.8h0M13.0 8.2h0M22.0 12.1h0M15.4 8.8h0M29.3 19.0h0M23.0 15.3h0M25.9 19.0h0M15.3 12.1h0M25.1 10.5h0M31.2 13.3h0M20.5 9.4h0M22.8 6.0h0M24.5 16.7h0M31.1 10.4h0M22.0 6.0h0M17.9 8.3h0M17.3 12.9h0M26.1 10.6h0M16.6 12.9h0M26.9 11.4h0M13.6 12.2h0M33.5 18.3h0M24.0 4.7h0M12.4 18.3h0M18.0 25.4h0M13.1 26.9h0M4.0 16.2h0M9.1 16.2h0M9.5 20.2h0M13.3 15.8h0M9.2 29.4h0M4.4 27.9h0M6.4 16.4h0M12.0 24.2h0M16.1 19.4h0M11.6 26.9h0M14.8 22.3h0M5.4 18.1h0M19.8 24.0h0M9.5 13.7h0M12.2 27.7h0M13.1 19.8h0M17.5 26.7h0M4.1 22.6h0M4.2 20.4h0M15.5 28.2h0M11.9 23.1h0M7.2 24.9h0" stroke="#b4d832" stroke-width="1.1" stroke-linecap="round" fill="none" opacity="0.75"/><path d="M24.9 17.4h0M24.5 7.7h0M19.4 8.5h0M33.8 18.2h0M24.1 18.5h0M17.5 14.6h0M22.8 10.2h0M31.0 17.7h0M33.0 16.4h0M30.9 8.0h0M25.3 4.6h0M27.7 9.3h0M22.0 15.7h0M25.8 4.6h0M24.5 11.8h0M12.8 9.0h0M27.7 12.3h0M31.5 10.3h0M13.2 10.0h0M28.7 7.5h0M22.5 13.7h0M34.4 17.7h0M20.3 10.5h0M20.4 4.5h0M34.1 17.2h0M33.9 17.1h0M7.9 29.4h0M18.1 23.2h0M15.1 20.1h0M11.3 25.7h0M18.3 22.6h0M10.7 17.7h0M13.7 20.4h0M13.1 25.3h0M8.9 20.8h0M12.8 17.3h0M18.5 24.0h0M14.1 25.6h0M14.0 16.2h0M19.2 23.4h0M10.6 29.1h0M12.1 29.6h0M7.9 22.4h0M9.3 16.2h0M9.9 29.0h0M9.3 13.7h0M17.5 25.2h0M10.6 28.4h0M7.3 14.3h0M17.8 24.4h0" stroke="#a9cf30" stroke-width="1.1" stroke-linecap="round" fill="none" opacity="0.75"/><path d="M34.3 12.5h0M22.9 5.3h0M34.4 16.6h0M31.7 14.0h0M27.4 16.9h0M30.1 9.8h0M29.6 17.4h0M34.3 18.1h0M21.7 16.3h0M23.1 18.2h0M18.9 15.3h0M31.2 18.3h0M31.7 16.5h0M18.3 12.9h0M34.5 10.5h0M28.3 13.7h0M22.0 10.1h0M18.0 6.7h0M18.0 11.1h0M15.7 10.5h0M24.4 4.3h0M26.1 14.1h0M19.2 14.2h0M30.0 5.8h0M18.7 16.3h0M18.6 13.6h0M27.9 12.9h0M22.0 8.8h0M35.2 12.4h0M17.3 11.6h0M30.6 7.0h0M28.3 11.4h0M31.5 18.1h0M16.3 7.9h0M30.4 10.5h0M16.3 12.6h0M25.9 12.2h0M1.8 19.4h0M14.9 20.3h0M9.3 15.8h0M11.5 20.6h0M8.2 24.4h0M17.2 26.5h0M11.4 15.3h0M8.1 18.7h0M12.1 15.4h0M11.9 29.6h0M5.1 17.6h0M12.6 30.2h0M6.7 21.7h0M9.9 26.5h0M5.5 22.3h0M7.8 19.5h0M14.1 20.4h0M17.2 29.4h0M8.2 27.0h0M7.8 30.2h0M8.8 29.9h0M2.9 17.7h0M14.7 19.2h0M4.4 21.3h0M2.8 24.3h0M13.3 19.7h0M3.6 16.2h0M6.7 20.3h0M7.2 28.3h0M14.9 29.2h0" stroke="#d8e85a" stroke-width="1.1" stroke-linecap="round" fill="none" opacity="0.75"/><path d="M9.3 33.1h0M22.5 35.1h0M20.2 38.5h0M20.1 30.3h0M23.2 33.7h0M17.7 40.4h0M19.1 36.0h0M20.4 40.1h0M22.7 36.4h0M18.1 36.3h0M7.1 36.3h0M5.4 31.6h0M23.2 35.5h0M5.8 34.9h0M15.9 37.1h0M17.5 37.2h0M13.7 39.9h0M9.1 39.0h0M16.1 36.7h0M14.5 40.5h0" stroke="#c8e060" stroke-width="1.1" stroke-linecap="round" fill="none" opacity="0.75"/><path d="M19.8 40.0h0M17.8 40.5h0M19.7 32.6h0M11.9 35.6h0M18.9 29.4h0M7.1 30.3h0M14.6 29.9h0M11.7 32.2h0M13.9 31.9h0M14.2 35.8h0M17.4 29.4h0M16.5 30.3h0M15.8 31.1h0M18.7 35.4h0M20.8 33.5h0M18.0 40.0h0M11.2 38.4h0M23.1 33.6h0M6.8 29.8h0M6.4 29.1h0M13.6 38.1h0" stroke="#b8d840" stroke-width="1.1" stroke-linecap="round" fill="none" opacity="0.75"/><path d="M15.6 38.8h0M22.3 38.2h0M23.2 38.2h0M21.0 32.3h0M10.3 36.7h0M8.8 35.8h0M10.9 38.8h0M11.8 34.2h0M19.2 29.4h0M22.0 39.7h0M16.3 33.3h0M5.1 30.3h0M17.8 30.2h0M9.7 32.6h0M8.4 34.2h0M18.2 39.1h0M5.3 32.1h0M9.3 30.4h0M16.2 33.2h0M17.5 31.1h0" stroke="#a8cc40" stroke-width="1.1" stroke-linecap="round" fill="none" opacity="0.75"/><path d="M14.5 36.7h0M19.8 31.7h0M18.4 31.0h0M7.4 31.0h0M7.1 35.0h0M15.3 38.4h0M5.3 32.5h0M15.3 38.7h0M18.6 39.0h0M7.4 30.8h0M16.7 38.6h0M5.3 33.0h0M9.4 33.4h0M22.7 35.3h0M14.0 36.5h0M17.6 33.6h0M20.6 36.1h0M16.3 40.4h0M9.8 35.5h0" stroke="#d8e880" stroke-width="1.1" stroke-linecap="round" fill="none" opacity="0.75"/><path d="M16.2 9.0h0M14.7 7.8h0M31.3 10.5h0M32.1 8.5h0M22.2 10.8h0M18.5 9.3h0M21.7 8.9h0M35.3 14.4h0M18.8 12.3h0M19.6 12.6h0M22.8 8.2h0M19.0 5.2h0M13.9 12.1h0M16.3 6.6h0M23.8 7.1h0M19.4 7.4h0M23.1 13.7h0M18.4 14.2h0M29.6 17.3h0M33.9 10.9h0M19.9 7.7h0M32.2 10.9h0M30.7 12.0h0M19.9 6.0h0M19.4 13.2h0M23.5 12.5h0M18.6 10.4h0M22.9 16.0h0M14.5 6.7h0M22.8 10.5h0M21.2 5.3h0M18.2 14.5h0M18.9 9.5h0M22.6 15.8h0M22.2 7.1h0M31.9 18.0h0M27.3 15.0h0M27.1 4.5h0M13.2 10.1h0M31.8 8.1h0M32.0 14.1h0M30.7 15.1h0M26.3 9.0h0M27.3 14.8h0M24.8 8.4h0M15.3 27.0h0M13.4 24.2h0M7.7 14.2h0M14.3 29.6h0M10.4 14.2h0M6.6 13.8h0M8.9 17.9h0M12.3 16.7h0M8.1 29.7h0M8.5 23.3h0M4.9 16.9h0M10.0 30.0h0M8.2 23.6h0M15.7 17.5h0M14.2 27.2h0M8.4 15.8h0M17.2 26.3h0M16.9 26.1h0M4.7 19.5h0M7.8 13.8h0M8.1 14.0h0M8.6 28.1h0M10.8 19.5h0M17.8 28.4h0M16.9 25.0h0M10.3 14.6h0M16.6 29.5h0M18.6 25.9h0M1.8 18.6h0M13.8 16.6h0M10.9 17.0h0M2.3 21.0h0M8.4 27.9h0M3.3 20.6h0M8.1 19.1h0M7.9 31.9h0M14.3 29.6h0M17.3 37.7h0M10.0 38.3h0M19.5 31.7h0M14.0 36.7h0M15.7 35.9h0M11.1 34.1h0M15.6 32.5h0M17.6 35.2h0M11.4 37.3h0M18.1 30.2h0M18.7 28.9h0M17.9 30.9h0M17.3 38.7h0M18.3 36.5h0M12.8 35.0h0M18.6 32.6h0M11.1 28.9h0M15.3 37.7h0M14.0 35.9h0M22.0 36.0h0M11.8 37.8h0M11.6 31.8h0M8.4 35.0h0M20.2 36.6h0M12.2 38.1h0M10.9 39.7h0M18.4 38.6h0M17.5 41.5h0" stroke="#ffffff" stroke-width="0.9" stroke-linecap="round" fill="none" opacity="0.55"/></g><path d="M12 14.5 Q 16 15.5 21 21" stroke="#fff" stroke-width="1.1" fill="none" opacity="0.8"/><path d="M37.3 27.4h0M33.8 31.6h0M28.2 22.0h0M26.0 25.4h0M25.8 21.7h0M25.3 22.8h0M34.3 32.5h0M38.1 28.2h0M28.4 21.2h0M31.1 31.7h0M26.6 22.1h0M31.9 32.0h0M34.3 22.8h0M34.6 25.6h0M26.9 22.8h0M31.8 25.9h0M27.2 18.9h0M32.1 19.5h0M27.4 29.1h0M35.5 19.2h0" stroke="#b8d860" stroke-width="0.9" stroke-linecap="round" fill="none" opacity="0.8"/><path d="M26.7 19.2h0M30.5 19.8h0M33.3 31.9h0M29.3 28.3h0M30.1 24.0h0M29.8 23.5h0M28.0 19.4h0M27.4 18.4h0M27.4 29.3h0M37.3 29.1h0M30.0 19.3h0M28.2 22.8h0M29.5 30.4h0M36.7 24.6h0M34.8 25.7h0" stroke="#c8e070" stroke-width="0.9" stroke-linecap="round" fill="none" opacity="0.8"/><path d="M27.5 26.4h0M33.6 28.3h0M34.6 22.9h0M27.8 25.9h0M32.0 23.0h0M28.7 22.3h0M36.1 24.1h0M29.1 19.2h0M38.2 26.2h0M33.2 28.6h0M28.7 27.8h0M29.1 28.6h0M33.3 30.1h0M36.8 30.2h0M34.4 29.8h0M36.5 28.9h0M32.4 17.5h0M32.0 31.5h0M33.5 32.6h0M25.5 23.7h0" stroke="#d8e8a0" stroke-width="0.9" stroke-linecap="round" fill="none" opacity="0.8"/></g>
<g transform="translate(319.3,83.0)"><rect x="0" y="0" width="44" height="44" fill="#fff" stroke="#c8c8cc" stroke-width="0.8"/><g filter="url(#bl)" opacity="0.5"><path d="M12.0 8.0 L18.0 4.5 L26.0 4.0 L32.0 6.0 L36.0 12.0 L36.0 18.0 L31.0 20.0 L24.0 19.0 L18.0 16.0 L13.0 14.0Z" fill="#d6e43c"/><path d="M1.5 17.0 L6.0 13.0 L11.0 13.5 L16.0 17.5 L20.0 23.0 L19.0 29.0 L13.0 31.0 L6.0 30.0 L2.0 25.0Z" fill="#d6e43c"/><path d="M5.0 28.0 L12.0 29.0 L20.0 27.0 L24.0 33.0 L23.0 40.0 L16.0 42.0 L9.0 40.0 L5.0 34.0Z" fill="#dbe98a"/></g><g filter="url(#bl2)"><path d="M30.8 16.7h0M27.2 10.1h0M12.7 10.7h0M30.8 13.7h0M22.4 14.2h0M25.3 10.5h0M28.3 11.4h0M32.0 15.8h0M19.4 8.2h0M22.5 12.3h0M20.0 10.4h0M27.9 12.3h0M27.6 9.4h0M18.2 15.7h0M27.7 9.4h0M24.1 6.3h0M14.9 8.7h0M30.4 19.5h0M23.6 16.0h0M30.4 5.7h0M34.3 11.5h0M28.1 9.4h0M23.3 17.7h0M24.5 12.7h0M31.6 16.2h0M19.8 15.0h0M13.7 8.8h0M16.4 5.8h0M23.7 7.4h0M15.2 13.3h0M25.2 5.5h0M28.3 8.5h0M19.7 12.3h0M16.4 26.6h0M8.5 20.2h0M7.7 16.8h0M4.9 27.7h0M14.9 22.7h0M11.0 19.8h0M10.8 26.4h0M15.0 27.8h0M6.5 20.6h0M3.1 15.9h0M5.3 15.1h0M5.9 27.0h0M5.4 27.5h0M10.2 17.8h0M5.4 26.3h0M13.8 28.1h0M4.7 21.2h0M8.5 25.1h0M4.9 26.0h0M6.7 23.7h0M5.1 17.2h0M8.9 26.4h0M7.7 25.3h0M5.8 24.1h0M8.5 20.9h0M12.4 29.3h0M7.1 21.9h0M13.2 16.9h0M14.5 29.1h0M6.2 27.9h0M10.4 18.4h0M5.9 14.0h0M7.3 16.2h0M9.0 28.8h0M12.8 22.5h0M12.2 30.5h0M5.7 14.7h0M10.1 17.0h0" stroke="#d8e640" stroke-width="1.1" stroke-linecap="round" fill="none" opacity="0.75"/><path d="M27.5 19.3h0M25.2 15.7h0M35.9 13.1h0M21.3 14.6h0M30.6 12.8h0M28.3 6.2h0M31.7 16.0h0M19.5 8.1h0M18.1 5.4h0M29.0 8.6h0M21.3 7.0h0M19.8 9.9h0M17.6 10.0h0M27.3 16.1h0M25.5 18.9h0M19.5 5.9h0M26.3 5.8h0M25.5 10.3h0M21.1 13.4h0M18.5 16.3h0M28.7 10.0h0M18.1 14.9h0M24.0 4.4h0M34.8 18.2h0M24.4 9.1h0M18.4 9.7h0M15.4 8.4h0M26.1 8.6h0M14.7 7.5h0M13.3 11.7h0M13.7 8.9h0M26.1 14.0h0M17.5 11.4h0M20.5 4.4h0M30.0 8.2h0M34.0 17.6h0M26.5 13.9h0M30.2 13.7h0M26.4 14.2h0M35.6 13.2h0M3.4 18.7h0M11.6 15.6h0M3.8 24.1h0M6.0 14.9h0M14.3 27.9h0M8.1 25.2h0M9.7 21.9h0M6.4 13.5h0M7.8 15.2h0M13.5 25.8h0M11.1 24.7h0M2.1 20.3h0M7.8 28.8h0M13.4 27.4h0M16.7 21.3h0M9.5 15.2h0" stroke="#b0d234" stroke-width="1.1" stroke-linecap="round" fill="none" opacity="0.75"/><path d="M18.2 10.3h0M28.3 14.5h0M24.3 18.3h0M24.2 7.5h0M31.0 12.2h0M13.6 12.5h0M19.7 10.7h0M26.0 6.2h0M16.4 14.7h0M19.9 9.3h0M34.4 17.2h0M28.0 16.6h0M31.8 10.4h0M23.8 15.5h0M27.0 6.8h0M18.2 15.4h0M33.5 9.7h0M21.1 6.9h0M28.1 18.0h0M25.5 9.7h0M27.0 14.6h0M31.0 19.8h0M28.9 8.6h0M32.9 13.4h0M29.3 5.6h0M14.1 8.8h0M32.3 11.2h0M15.2 7.8h0M33.3 11.3h0M26.4 15.3h0M28.5 12.6h0M20.1 16.0h0M18.1 11.4h0M28.6 6.0h0M31.7 17.1h0M24.4 9.0h0M23.3 4.8h0M17.0 13.1h0M13.5 17.2h0M19.9 23.1h0M11.6 24.8h0M14.7 27.0h0M17.7 23.1h0M15.9 18.7h0M18.8 24.1h0M17.1 27.8h0M7.7 26.9h0M16.8 27.8h0M9.8 14.6h0M16.1 21.3h0M18.8 28.2h0M6.1 22.5h0M9.7 29.3h0M14.9 21.9h0M6.7 16.8h0M3.2 24.0h0M11.8 18.5h0M15.3 17.8h0M18.6 26.7h0M19.0 28.9h0M11.4 17.8h0" stroke="#c8de34" stroke-width="1.1" stroke-linecap="round" fill="none" opacity="0.75"/><path d="M26.7 15.6h0M17.4 12.5h0M18.6 11.8h0M24.8 11.1h0M23.1 12.5h0M27.6 15.1h0M19.6 15.9h0M13.9 8.4h0M24.7 18.5h0M22.9 7.7h0M21.4 6.7h0M30.0 13.4h0M32.7 8.3h0M25.9 11.4h0M32.7 13.6h0M15.0 11.7h0M28.3 7.5h0M29.0 11.2h0M24.4 17.9h0M30.5 10.9h0M27.3 17.8h0M24.6 13.2h0M25.8 15.6h0M30.6 17.4h0M29.4 16.0h0M20.6 16.6h0M11.4 21.7h0M12.4 22.2h0M6.3 29.0h0M3.8 23.5h0M9.4 13.9h0M3.1 24.0h0M10.2 18.5h0M9.6 16.6h0M9.3 22.1h0M16.0 17.7h0M9.2 26.1h0M3.2 22.7h0M10.6 16.2h0M7.5 21.3h0M5.0 23.2h0M12.9 16.0h0M15.9 21.0h0M8.4 14.5h0M10.9 20.8h0M10.1 18.1h0M2.2 22.7h0M3.1 22.6h0M6.2 15.4h0M8.5 22.3h0M7.6 27.0h0M9.7 29.9h0M11.9 28.7h0M16.1 29.0h0M5.7 22.9h0M11.9 17.4h0M9.6 22.3h0M8.8 20.6h0M17.0 25.7h0" stroke="#e0ea5a" stroke-width="1.1" stroke-linecap="round" fill="none" opacity="0.75"/><path d="M15.9 11.9h0M29.1 10.5h0M20.8 6.6h0M16.1 8.2h0M22.2 12.4h0M24.7 7.9h0M29.2 8.9h0M33.8 9.7h0M17.5 6.7h0M20.6 8.1h0M16.3 15.2h0M26.6 6.2h0M28.2 12.6h0M30.2 8.4h0M12.7 12.0h0M29.8 16.9h0M14.7 8.5h0M30.9 17.3h0M24.9 18.2h0M30.3 15.1h0M33.3 8.6h0M15.1 14.5h0M19.5 9.4h0M24.2 10.6h0M13.3 11.5h0M32.4 6.7h0M26.3 10.0h0M13.9 12.0h0M20.5 7.0h0M21.4 9.4h0M17.8 5.8h0M17.2 14.8h0M33.4 14.8h0M9.2 21.8h0M13.8 30.6h0M8.9 23.0h0M6.9 21.3h0M9.0 16.9h0M7.4 27.8h0M10.3 26.3h0M17.6 28.8h0M17.9 29.1h0M11.3 17.7h0M15.6 26.6h0M17.0 21.7h0M18.6 26.3h0M2.1 22.0h0M10.9 17.0h0M13.8 25.1h0M15.3 28.1h0M9.4 19.7h0M16.6 19.0h0M6.4 21.9h0" stroke="#bcd834" stroke-width="1.1" stroke-linecap="round" fill="none" opacity="0.75"/><path d="M17.4 29.6h0M13.7 30.4h0M15.7 40.3h0M18.1 28.6h0M9.1 37.4h0M7.8 36.8h0M19.4 27.5h0M17.1 35.7h0M11.5 33.6h0M18.7 39.0h0M8.9 34.4h0M7.3 31.0h0M6.9 31.1h0M7.6 34.7h0M20.9 36.9h0M16.0 40.6h0M19.3 38.2h0M19.2 37.4h0M9.0 35.1h0" stroke="#d8e880" stroke-width="1.1" stroke-linecap="round" fill="none" opacity="0.75"/><path d="M22.5 32.6h0M19.5 31.0h0M19.5 28.3h0M20.7 38.4h0M21.4 30.1h0M15.9 37.4h0M16.8 29.6h0M15.0 40.4h0M6.8 28.4h0M18.0 30.6h0M11.9 39.7h0M11.2 39.4h0M6.6 29.2h0M16.8 37.3h0M11.9 29.9h0" stroke="#c8e060" stroke-width="1.1" stroke-linecap="round" fill="none" opacity="0.75"/><path d="M22.3 33.4h0M9.4 31.2h0M23.6 34.1h0M12.0 34.2h0M19.8 40.0h0M9.6 28.9h0M11.6 31.3h0M22.1 34.4h0M21.3 32.7h0M16.4 40.1h0M23.2 32.9h0M16.3 30.9h0M18.8 32.4h0M18.4 28.9h0M19.0 37.0h0M16.5 33.7h0M16.8 35.7h0M5.4 29.4h0M18.8 36.9h0M7.3 35.1h0" stroke="#a8cc40" stroke-width="1.1" stroke-linecap="round" fill="none" opacity="0.75"/><path d="M9.0 29.5h0M9.6 38.6h0M11.5 34.5h0M11.8 36.0h0M16.4 36.2h0M17.0 29.3h0M17.2 35.3h0M20.4 40.1h0M7.4 29.8h0M20.7 37.4h0M11.4 32.7h0M7.6 35.2h0M13.7 41.1h0M18.5 34.5h0M12.6 39.5h0M12.1 31.2h0M19.9 39.8h0M13.2 39.4h0M18.9 32.9h0M18.4 31.6h0M9.4 30.3h0M21.2 37.1h0M16.4 41.2h0M19.7 34.8h0M13.1 29.3h0M21.5 39.8h0" stroke="#b8d840" stroke-width="1.1" stroke-linecap="round" fill="none" opacity="0.75"/><path d="M23.9 8.4h0M34.4 14.9h0M30.9 12.6h0M34.3 10.7h0M20.0 11.1h0M24.7 11.3h0M19.3 9.7h0M32.0 12.7h0M35.5 14.2h0M24.4 4.3h0M25.0 5.9h0M31.4 6.9h0M19.8 6.4h0M14.2 9.4h0M22.8 6.7h0M23.3 5.1h0M18.2 11.7h0M26.7 4.2h0M28.6 12.4h0M27.0 13.9h0M12.9 8.7h0M17.0 15.1h0M31.1 10.3h0M24.4 13.9h0M30.7 14.2h0M29.1 14.1h0M22.4 13.0h0M21.0 8.8h0M24.0 11.1h0M26.1 5.2h0M18.8 16.2h0M25.7 19.2h0M26.4 4.4h0M17.2 9.0h0M23.8 13.6h0M27.6 11.0h0M25.4 7.6h0M32.9 13.5h0M17.6 11.1h0M22.6 12.2h0M22.6 5.5h0M35.0 17.2h0M27.7 10.3h0M19.7 8.8h0M32.4 15.4h0M12.0 15.0h0M13.4 20.1h0M18.5 26.4h0M12.5 17.8h0M15.5 21.3h0M15.7 24.8h0M9.9 27.2h0M4.1 25.3h0M11.9 28.7h0M8.9 25.3h0M12.4 28.6h0M16.9 23.3h0M8.6 16.3h0M5.4 20.9h0M5.1 17.3h0M10.4 24.2h0M14.0 27.2h0M2.9 19.7h0M11.9 16.8h0M12.5 19.4h0M3.0 25.1h0M7.6 15.4h0M10.4 24.2h0M7.2 18.9h0M11.6 14.4h0M15.7 28.7h0M2.6 23.9h0M7.8 14.3h0M6.8 25.8h0M5.7 22.9h0M12.2 15.8h0M13.2 22.3h0M2.8 24.4h0M10.4 30.4h0M2.9 23.9h0M9.3 29.4h0M21.7 31.2h0M17.3 38.3h0M19.9 29.4h0M16.7 31.0h0M18.8 31.9h0M13.5 34.0h0M15.9 31.4h0M23.0 37.5h0M19.8 27.1h0M23.3 36.7h0M16.9 37.9h0M18.1 36.9h0M15.0 28.6h0M13.9 34.9h0M16.1 34.5h0M10.5 38.4h0M17.8 30.3h0M13.1 39.9h0M23.3 34.5h0M9.9 38.5h0M20.5 31.6h0M12.3 30.1h0M21.3 31.8h0M14.7 32.3h0M12.3 36.9h0M21.1 34.3h0M15.2 35.0h0M13.3 37.3h0M22.0 40.0h0" stroke="#ffffff" stroke-width="0.9" stroke-linecap="round" fill="none" opacity="0.55"/></g><path d="M12 14.5 Q 16 15.5 21 21" stroke="#fff" stroke-width="1.1" fill="none" opacity="0.8"/><path d="M31.5 32.1h0M37.4 30.2h0M33.8 25.2h0M29.3 25.8h0M25.1 23.8h0M36.6 21.1h0M27.9 26.1h0M32.1 30.7h0M27.6 27.0h0M36.0 22.1h0M35.7 26.9h0M31.1 19.6h0M34.0 24.8h0M30.3 25.0h0M32.6 32.5h0M34.4 18.7h0M36.2 23.8h0M35.1 22.3h0M28.8 18.3h0M32.0 31.3h0" stroke="#d8e8a0" stroke-width="0.9" stroke-linecap="round" fill="none" opacity="0.8"/><path d="M31.5 30.1h0M33.7 25.8h0M34.0 32.7h0M37.7 26.8h0M35.0 32.1h0M36.6 24.5h0M37.4 29.5h0M31.2 22.4h0M28.5 17.8h0M31.9 30.5h0M32.8 31.0h0M36.2 28.3h0M29.2 24.9h0M36.8 21.6h0M28.6 23.2h0M34.7 19.3h0" stroke="#c8e070" stroke-width="0.9" stroke-linecap="round" fill="none" opacity="0.8"/><path d="M30.9 19.5h0M28.9 17.6h0M35.6 29.9h0M32.2 24.0h0M33.5 22.4h0M38.3 26.5h0M38.4 26.3h0M35.2 23.5h0M34.1 31.6h0M33.2 28.5h0M32.4 25.9h0M26.9 23.9h0M34.6 24.2h0M27.8 22.5h0M31.9 27.8h0M30.5 25.5h0M32.2 32.2h0M29.0 24.7h0M28.1 20.5h0" stroke="#b8d860" stroke-width="0.9" stroke-linecap="round" fill="none" opacity="0.8"/></g>
<line x1="420.30" y1="21.05" x2="420.30" y2="78.00" stroke="#262626" stroke-width="1.1" />
<line x1="419.80" y1="78.00" x2="495.60" y2="78.00" stroke="#262626" stroke-width="1.0" />
<line x1="417.70" y1="77.40" x2="420.30" y2="77.40" stroke="#262626" stroke-width="0.9" />
<text x="414.70" y="79.90" font-size="6.0" text-anchor="end" font-weight="normal" fill="#222" >0</text>
<line x1="417.70" y1="66.77" x2="420.30" y2="66.77" stroke="#262626" stroke-width="0.9" />
<text x="414.70" y="69.27" font-size="6.0" text-anchor="end" font-weight="normal" fill="#222" >2000</text>
<line x1="417.70" y1="56.14" x2="420.30" y2="56.14" stroke="#262626" stroke-width="0.9" />
<text x="414.70" y="58.64" font-size="6.0" text-anchor="end" font-weight="normal" fill="#222" >4000</text>
<line x1="417.70" y1="45.51" x2="420.30" y2="45.51" stroke="#262626" stroke-width="0.9" />
<text x="414.70" y="48.01" font-size="6.0" text-anchor="end" font-weight="normal" fill="#222" >6000</text>
<line x1="417.70" y1="34.88" x2="420.30" y2="34.88" stroke="#262626" stroke-width="0.9" />
<text x="414.70" y="37.38" font-size="6.0" text-anchor="end" font-weight="normal" fill="#222" >8000</text>
<line x1="417.70" y1="24.25" x2="420.30" y2="24.25" stroke="#262626" stroke-width="0.9" />
<text x="414.70" y="26.75" font-size="6.0" text-anchor="end" font-weight="normal" fill="#222" >10000</text>
<line x1="393.90" y1="31.10" x2="393.90" y2="49.20" stroke="#222" stroke-width="1.0" />
<path d="M391.95 31.90 L393.90 27.60 L395.85 31.90 Z" fill="#222"/>
<text x="395.80" y="74.80" font-size="7.0" text-anchor="start" font-weight="bold" fill="#1a1a1a" textLength="23.6" lengthAdjust="spacingAndGlyphs" transform="rotate(-90 395.80 74.80)" >CAR MFI</text>
<rect x="432.2" y="53.0" width="22.4" height="3.7" fill="#f3a638" stroke="#e59022" stroke-width="0.5"/>
<line x1="437.50" y1="54.60" x2="453.50" y2="54.60" stroke="#3a2206" stroke-width="1.3" />
<line x1="437.50" y1="55.90" x2="449.50" y2="55.90" stroke="#b87a3a" stroke-width="0.9" />
<rect x="466.3" y="32.9" width="22.5" height="17.5" fill="#176a52" stroke="#0f4f3c" stroke-width="0.6"/>
<line x1="466.30" y1="44.30" x2="488.80" y2="44.30" stroke="#0b3326" stroke-width="1.3" />
<line x1="477.50" y1="28.60" x2="477.50" y2="32.90" stroke="#174a3a" stroke-width="0.9" />
<line x1="477.50" y1="50.40" x2="477.50" y2="53.10" stroke="#174a3a" stroke-width="0.9" />
<line x1="471.00" y1="28.60" x2="483.80" y2="28.60" stroke="#174a3a" stroke-width="0.9" />
<line x1="471.00" y1="53.10" x2="483.80" y2="53.10" stroke="#174a3a" stroke-width="0.9" />
<line x1="443.50" y1="23.80" x2="477.40" y2="23.80" stroke="#444" stroke-width="0.9" />
<text x="460.70" y="23.20" font-size="5.0" text-anchor="middle" font-weight="normal" fill="#222" >*</text>
<text x="433.20" y="87.80" font-size="6.2" text-anchor="start" font-weight="normal" fill="#eeaa44" >Without ECP</text>
<text x="433.20" y="96.50" font-size="6.2" text-anchor="start" font-weight="normal" fill="#2f7363" >With ECP (2 J/cm<tspan dy="-2" font-size="4">2</tspan><tspan dy="2">)</tspan></text>
<text x="64.60" y="158.10" font-size="7.5" text-anchor="middle" font-weight="normal" fill="#222" >CTLA-4</text>
<text x="138.10" y="158.10" font-size="7.5" text-anchor="middle" font-weight="normal" fill="#222" >CD71</text>
<text x="208.70" y="158.10" font-size="7.5" text-anchor="middle" font-weight="normal" fill="#222" >4-1BB</text>
<text x="282.40" y="158.10" font-size="7.5" text-anchor="middle" font-weight="normal" fill="#222" >CD69</text>
<text x="356.50" y="158.10" font-size="7.5" text-anchor="middle" font-weight="normal" fill="#222" >CD95</text>
<line x1="45.40" y1="162.20" x2="45.40" y2="222.50" stroke="#262626" stroke-width="1.1" />
<line x1="44.90" y1="222.00" x2="82.90" y2="222.00" stroke="#262626" stroke-width="1.1" />
<line x1="42.80" y1="222.00" x2="45.40" y2="222.00" stroke="#262626" stroke-width="0.9" />
<text x="39.80" y="224.20" font-size="6.2" text-anchor="end" font-weight="normal" fill="#222" >0</text>
<line x1="42.80" y1="203.00" x2="45.40" y2="203.00" stroke="#262626" stroke-width="0.9" />
<text x="39.80" y="205.20" font-size="6.2" text-anchor="end" font-weight="normal" fill="#222" >600</text>
<line x1="42.80" y1="184.00" x2="45.40" y2="184.00" stroke="#262626" stroke-width="0.9" />
<text x="39.80" y="186.20" font-size="6.2" text-anchor="end" font-weight="normal" fill="#222" >1200</text>
<line x1="42.80" y1="165.00" x2="45.40" y2="165.00" stroke="#262626" stroke-width="0.9" />
<text x="39.80" y="167.20" font-size="6.2" text-anchor="end" font-weight="normal" fill="#222" >1800</text>
<line x1="120.00" y1="162.20" x2="120.00" y2="222.50" stroke="#262626" stroke-width="1.1" />
<line x1="119.50" y1="222.00" x2="157.50" y2="222.00" stroke="#262626" stroke-width="1.1" />
<line x1="117.40" y1="222.00" x2="120.00" y2="222.00" stroke="#262626" stroke-width="0.9" />
<text x="114.40" y="224.20" font-size="6.2" text-anchor="end" font-weight="normal" fill="#222" >0</text>
<line x1="117.40" y1="210.60" x2="120.00" y2="210.60" stroke="#262626" stroke-width="0.9" />
<text x="114.40" y="212.80" font-size="6.2" text-anchor="end" font-weight="normal" fill="#222" >15000</text>
<line x1="117.40" y1="199.20" x2="120.00" y2="199.20" stroke="#262626" stroke-width="0.9" />
<text x="114.40" y="201.40" font-size="6.2" text-anchor="end" font-weight="normal" fill="#222" >30000</text>
<line x1="117.40" y1="187.80" x2="120.00" y2="187.80" stroke="#262626" stroke-width="0.9" />
<text x="114.40" y="190.00" font-size="6.2" text-anchor="end" font-weight="normal" fill="#222" >45000</text>
<line x1="117.40" y1="176.40" x2="120.00" y2="176.40" stroke="#262626" stroke-width="0.9" />
<text x="114.40" y="178.60" font-size="6.2" text-anchor="end" font-weight="normal" fill="#222" >60000</text>
<line x1="117.40" y1="165.00" x2="120.00" y2="165.00" stroke="#262626" stroke-width="0.9" />
<text x="114.40" y="167.20" font-size="6.2" text-anchor="end" font-weight="normal" fill="#222" >75000</text>
<line x1="190.20" y1="162.20" x2="190.20" y2="222.50" stroke="#262626" stroke-width="1.1" />
<line x1="189.70" y1="222.00" x2="227.70" y2="222.00" stroke="#262626" stroke-width="1.1" />
<line x1="187.60" y1="222.00" x2="190.20" y2="222.00" stroke="#262626" stroke-width="0.9" />
<text x="184.60" y="224.20" font-size="6.2" text-anchor="end" font-weight="normal" fill="#222" >0</text>
<line x1="187.60" y1="207.75" x2="190.20" y2="207.75" stroke="#262626" stroke-width="0.9" />
<text x="184.60" y="209.95" font-size="6.2" text-anchor="end" font-weight="normal" fill="#222" >1000</text>
<line x1="187.60" y1="193.50" x2="190.20" y2="193.50" stroke="#262626" stroke-width="0.9" />
<text x="184.60" y="195.70" font-size="6.2" text-anchor="end" font-weight="normal" fill="#222" >2000</text>
<line x1="187.60" y1="179.25" x2="190.20" y2="179.25" stroke="#262626" stroke-width="0.9" />
<text x="184.60" y="181.45" font-size="6.2" text-anchor="end" font-weight="normal" fill="#222" >3000</text>
<line x1="187.60" y1="165.00" x2="190.20" y2="165.00" stroke="#262626" stroke-width="0.9" />
<text x="184.60" y="167.20" font-size="6.2" text-anchor="end" font-weight="normal" fill="#222" >4000</text>
<line x1="264.30" y1="162.20" x2="264.30" y2="222.50" stroke="#262626" stroke-width="1.1" />
<line x1="263.80" y1="222.00" x2="301.80" y2="222.00" stroke="#262626" stroke-width="1.1" />
<line x1="261.70" y1="222.00" x2="264.30" y2="222.00" stroke="#262626" stroke-width="0.9" />
<text x="258.70" y="224.20" font-size="6.2" text-anchor="end" font-weight="normal" fill="#222" >0</text>
<line x1="261.70" y1="203.00" x2="264.30" y2="203.00" stroke="#262626" stroke-width="0.9" />
<text x="258.70" y="205.20" font-size="6.2" text-anchor="end" font-weight="normal" fill="#222" >5000</text>
<line x1="261.70" y1="184.00" x2="264.30" y2="184.00" stroke="#262626" stroke-width="0.9" />
<text x="258.70" y="186.20" font-size="6.2" text-anchor="end" font-weight="normal" fill="#222" >10000</text>
<line x1="261.70" y1="165.00" x2="264.30" y2="165.00" stroke="#262626" stroke-width="0.9" />
<text x="258.70" y="167.20" font-size="6.2" text-anchor="end" font-weight="normal" fill="#222" >15000</text>
<line x1="337.60" y1="162.20" x2="337.60" y2="222.50" stroke="#262626" stroke-width="1.1" />
<line x1="337.10" y1="222.00" x2="375.10" y2="222.00" stroke="#262626" stroke-width="1.1" />
<line x1="335.00" y1="222.00" x2="337.60" y2="222.00" stroke="#262626" stroke-width="0.9" />
<text x="332.00" y="224.20" font-size="6.2" text-anchor="end" font-weight="normal" fill="#222" >0</text>
<line x1="335.00" y1="207.75" x2="337.60" y2="207.75" stroke="#262626" stroke-width="0.9" />
<text x="332.00" y="209.95" font-size="6.2" text-anchor="end" font-weight="normal" fill="#222" >3000</text>
<line x1="335.00" y1="193.50" x2="337.60" y2="193.50" stroke="#262626" stroke-width="0.9" />
<text x="332.00" y="195.70" font-size="6.2" text-anchor="end" font-weight="normal" fill="#222" >6000</text>
<line x1="335.00" y1="179.25" x2="337.60" y2="179.25" stroke="#262626" stroke-width="0.9" />
<text x="332.00" y="181.45" font-size="6.2" text-anchor="end" font-weight="normal" fill="#222" >9000</text>
<line x1="335.00" y1="165.00" x2="337.60" y2="165.00" stroke="#262626" stroke-width="0.9" />
<text x="332.00" y="167.20" font-size="6.2" text-anchor="end" font-weight="normal" fill="#222" >12000</text>
<line x1="45.40" y1="239.20" x2="45.40" y2="298.30" stroke="#262626" stroke-width="1.1" />
<line x1="44.90" y1="297.80" x2="82.90" y2="297.80" stroke="#262626" stroke-width="1.1" />
<line x1="42.80" y1="297.80" x2="45.40" y2="297.80" stroke="#262626" stroke-width="0.9" />
<text x="39.80" y="300.00" font-size="6.2" text-anchor="end" font-weight="normal" fill="#222" >0</text>
<line x1="42.80" y1="279.20" x2="45.40" y2="279.20" stroke="#262626" stroke-width="0.9" />
<text x="39.80" y="281.40" font-size="6.2" text-anchor="end" font-weight="normal" fill="#222" >600</text>
<line x1="42.80" y1="260.60" x2="45.40" y2="260.60" stroke="#262626" stroke-width="0.9" />
<text x="39.80" y="262.80" font-size="6.2" text-anchor="end" font-weight="normal" fill="#222" >1200</text>
<line x1="42.80" y1="242.00" x2="45.40" y2="242.00" stroke="#262626" stroke-width="0.9" />
<text x="39.80" y="244.20" font-size="6.2" text-anchor="end" font-weight="normal" fill="#222" >1800</text>
<line x1="120.00" y1="239.20" x2="120.00" y2="298.30" stroke="#262626" stroke-width="1.1" />
<line x1="119.50" y1="297.80" x2="157.50" y2="297.80" stroke="#262626" stroke-width="1.1" />
<line x1="117.40" y1="297.80" x2="120.00" y2="297.80" stroke="#262626" stroke-width="0.9" />
<text x="114.40" y="300.00" font-size="6.2" text-anchor="end" font-weight="normal" fill="#222" >0</text>
<line x1="117.40" y1="286.64" x2="120.00" y2="286.64" stroke="#262626" stroke-width="0.9" />
<text x="114.40" y="288.84" font-size="6.2" text-anchor="end" font-weight="normal" fill="#222" >15000</text>
<line x1="117.40" y1="275.48" x2="120.00" y2="275.48" stroke="#262626" stroke-width="0.9" />
<text x="114.40" y="277.68" font-size="6.2" text-anchor="end" font-weight="normal" fill="#222" >30000</text>
<line x1="117.40" y1="264.32" x2="120.00" y2="264.32" stroke="#262626" stroke-width="0.9" />
<text x="114.40" y="266.52" font-size="6.2" text-anchor="end" font-weight="normal" fill="#222" >45000</text>
<line x1="117.40" y1="253.16" x2="120.00" y2="253.16" stroke="#262626" stroke-width="0.9" />
<text x="114.40" y="255.36" font-size="6.2" text-anchor="end" font-weight="normal" fill="#222" >60000</text>
<line x1="117.40" y1="242.00" x2="120.00" y2="242.00" stroke="#262626" stroke-width="0.9" />
<text x="114.40" y="244.20" font-size="6.2" text-anchor="end" font-weight="normal" fill="#222" >75000</text>
<line x1="190.20" y1="239.20" x2="190.20" y2="298.30" stroke="#262626" stroke-width="1.1" />
<line x1="189.70" y1="297.80" x2="227.70" y2="297.80" stroke="#262626" stroke-width="1.1" />
<line x1="187.60" y1="297.80" x2="190.20" y2="297.80" stroke="#262626" stroke-width="0.9" />
<text x="184.60" y="300.00" font-size="6.2" text-anchor="end" font-weight="normal" fill="#222" >0</text>
<line x1="187.60" y1="283.85" x2="190.20" y2="283.85" stroke="#262626" stroke-width="0.9" />
<text x="184.60" y="286.05" font-size="6.2" text-anchor="end" font-weight="normal" fill="#222" >1000</text>
<line x1="187.60" y1="269.90" x2="190.20" y2="269.90" stroke="#262626" stroke-width="0.9" />
<text x="184.60" y="272.10" font-size="6.2" text-anchor="end" font-weight="normal" fill="#222" >2000</text>
<line x1="187.60" y1="255.95" x2="190.20" y2="255.95" stroke="#262626" stroke-width="0.9" />
<text x="184.60" y="258.15" font-size="6.2" text-anchor="end" font-weight="normal" fill="#222" >3000</text>
<line x1="187.60" y1="242.00" x2="190.20" y2="242.00" stroke="#262626" stroke-width="0.9" />
<text x="184.60" y="244.20" font-size="6.2" text-anchor="end" font-weight="normal" fill="#222" >4000</text>
<line x1="264.30" y1="239.20" x2="264.30" y2="298.30" stroke="#262626" stroke-width="1.1" />
<line x1="263.80" y1="297.80" x2="301.80" y2="297.80" stroke="#262626" stroke-width="1.1" />
<line x1="261.70" y1="297.80" x2="264.30" y2="297.80" stroke="#262626" stroke-width="0.9" />
<text x="258.70" y="300.00" font-size="6.2" text-anchor="end" font-weight="normal" fill="#222" >0</text>
<line x1="261.70" y1="279.20" x2="264.30" y2="279.20" stroke="#262626" stroke-width="0.9" />
<text x="258.70" y="281.40" font-size="6.2" text-anchor="end" font-weight="normal" fill="#222" >5000</text>
<line x1="261.70" y1="260.60" x2="264.30" y2="260.60" stroke="#262626" stroke-width="0.9" />
<text x="258.70" y="262.80" font-size="6.2" text-anchor="end" font-weight="normal" fill="#222" >10000</text>
<line x1="261.70" y1="242.00" x2="264.30" y2="242.00" stroke="#262626" stroke-width="0.9" />
<text x="258.70" y="244.20" font-size="6.2" text-anchor="end" font-weight="normal" fill="#222" >15000</text>
<line x1="337.60" y1="239.20" x2="337.60" y2="298.30" stroke="#262626" stroke-width="1.1" />
<line x1="337.10" y1="297.80" x2="375.10" y2="297.80" stroke="#262626" stroke-width="1.1" />
<line x1="335.00" y1="297.80" x2="337.60" y2="297.80" stroke="#262626" stroke-width="0.9" />
<text x="332.00" y="300.00" font-size="6.2" text-anchor="end" font-weight="normal" fill="#222" >0</text>
<line x1="335.00" y1="283.85" x2="337.60" y2="283.85" stroke="#262626" stroke-width="0.9" />
<text x="332.00" y="286.05" font-size="6.2" text-anchor="end" font-weight="normal" fill="#222" >3000</text>
<line x1="335.00" y1="269.90" x2="337.60" y2="269.90" stroke="#262626" stroke-width="0.9" />
<text x="332.00" y="272.10" font-size="6.2" text-anchor="end" font-weight="normal" fill="#222" >6000</text>
<line x1="335.00" y1="255.95" x2="337.60" y2="255.95" stroke="#262626" stroke-width="0.9" />
<text x="332.00" y="258.15" font-size="6.2" text-anchor="end" font-weight="normal" fill="#222" >9000</text>
<line x1="335.00" y1="242.00" x2="337.60" y2="242.00" stroke="#262626" stroke-width="0.9" />
<text x="332.00" y="244.20" font-size="6.2" text-anchor="end" font-weight="normal" fill="#222" >12000</text>
<line x1="45.40" y1="316.50" x2="45.40" y2="376.50" stroke="#262626" stroke-width="1.1" />
<line x1="44.90" y1="376.00" x2="82.90" y2="376.00" stroke="#262626" stroke-width="1.1" />
<line x1="42.80" y1="376.00" x2="45.40" y2="376.00" stroke="#262626" stroke-width="0.9" />
<text x="39.80" y="378.20" font-size="6.2" text-anchor="end" font-weight="normal" fill="#222" >0</text>
<line x1="42.80" y1="357.10" x2="45.40" y2="357.10" stroke="#262626" stroke-width="0.9" />
<text x="39.80" y="359.30" font-size="6.2" text-anchor="end" font-weight="normal" fill="#222" >600</text>
<line x1="42.80" y1="338.20" x2="45.40" y2="338.20" stroke="#262626" stroke-width="0.9" />
<text x="39.80" y="340.40" font-size="6.2" text-anchor="end" font-weight="normal" fill="#222" >1200</text>
<line x1="42.80" y1="319.30" x2="45.40" y2="319.30" stroke="#262626" stroke-width="0.9" />
<text x="39.80" y="321.50" font-size="6.2" text-anchor="end" font-weight="normal" fill="#222" >1800</text>
<line x1="120.00" y1="316.50" x2="120.00" y2="376.50" stroke="#262626" stroke-width="1.1" />
<line x1="119.50" y1="376.00" x2="157.50" y2="376.00" stroke="#262626" stroke-width="1.1" />
<line x1="117.40" y1="376.00" x2="120.00" y2="376.00" stroke="#262626" stroke-width="0.9" />
<text x="114.40" y="378.20" font-size="6.2" text-anchor="end" font-weight="normal" fill="#222" >0</text>
<line x1="117.40" y1="364.66" x2="120.00" y2="364.66" stroke="#262626" stroke-width="0.9" />
<text x="114.40" y="366.86" font-size="6.2" text-anchor="end" font-weight="normal" fill="#222" >15000</text>
<line x1="117.40" y1="353.32" x2="120.00" y2="353.32" stroke="#262626" stroke-width="0.9" />
<text x="114.40" y="355.52" font-size="6.2" text-anchor="end" font-weight="normal" fill="#222" >30000</text>
<line x1="117.40" y1="341.98" x2="120.00" y2="341.98" stroke="#262626" stroke-width="0.9" />
<text x="114.40" y="344.18" font-size="6.2" text-anchor="end" font-weight="normal" fill="#222" >45000</text>
<line x1="117.40" y1="330.64" x2="120.00" y2="330.64" stroke="#262626" stroke-width="0.9" />
<text x="114.40" y="332.84" font-size="6.2" text-anchor="end" font-weight="normal" fill="#222" >60000</text>
<line x1="117.40" y1="319.30" x2="120.00" y2="319.30" stroke="#262626" stroke-width="0.9" />
<text x="114.40" y="321.50" font-size="6.2" text-anchor="end" font-weight="normal" fill="#222" >75000</text>
<line x1="190.20" y1="316.50" x2="190.20" y2="376.50" stroke="#262626" stroke-width="1.1" />
<line x1="189.70" y1="376.00" x2="227.70" y2="376.00" stroke="#262626" stroke-width="1.1" />
<line x1="187.60" y1="376.00" x2="190.20" y2="376.00" stroke="#262626" stroke-width="0.9" />
<text x="184.60" y="378.20" font-size="6.2" text-anchor="end" font-weight="normal" fill="#222" >0</text>
<line x1="187.60" y1="361.82" x2="190.20" y2="361.82" stroke="#262626" stroke-width="0.9" />
<text x="184.60" y="364.02" font-size="6.2" text-anchor="end" font-weight="normal" fill="#222" >1000</text>
<line x1="187.60" y1="347.65" x2="190.20" y2="347.65" stroke="#262626" stroke-width="0.9" />
<text x="184.60" y="349.85" font-size="6.2" text-anchor="end" font-weight="normal" fill="#222" >2000</text>
<line x1="187.60" y1="333.48" x2="190.20" y2="333.48" stroke="#262626" stroke-width="0.9" />
<text x="184.60" y="335.68" font-size="6.2" text-anchor="end" font-weight="normal" fill="#222" >3000</text>
<line x1="187.60" y1="319.30" x2="190.20" y2="319.30" stroke="#262626" stroke-width="0.9" />
<text x="184.60" y="321.50" font-size="6.2" text-anchor="end" font-weight="normal" fill="#222" >4000</text>
<line x1="264.30" y1="316.50" x2="264.30" y2="376.50" stroke="#262626" stroke-width="1.1" />
<line x1="263.80" y1="376.00" x2="301.80" y2="376.00" stroke="#262626" stroke-width="1.1" />
<line x1="261.70" y1="376.00" x2="264.30" y2="376.00" stroke="#262626" stroke-width="0.9" />
<text x="258.70" y="378.20" font-size="6.2" text-anchor="end" font-weight="normal" fill="#222" >0</text>
<line x1="261.70" y1="357.10" x2="264.30" y2="357.10" stroke="#262626" stroke-width="0.9" />
<text x="258.70" y="359.30" font-size="6.2" text-anchor="end" font-weight="normal" fill="#222" >5000</text>
<line x1="261.70" y1="338.20" x2="264.30" y2="338.20" stroke="#262626" stroke-width="0.9" />
<text x="258.70" y="340.40" font-size="6.2" text-anchor="end" font-weight="normal" fill="#222" >10000</text>
<line x1="261.70" y1="319.30" x2="264.30" y2="319.30" stroke="#262626" stroke-width="0.9" />
<text x="258.70" y="321.50" font-size="6.2" text-anchor="end" font-weight="normal" fill="#222" >15000</text>
<line x1="337.60" y1="316.50" x2="337.60" y2="376.50" stroke="#262626" stroke-width="1.1" />
<line x1="337.10" y1="376.00" x2="375.10" y2="376.00" stroke="#262626" stroke-width="1.1" />
<line x1="335.00" y1="376.00" x2="337.60" y2="376.00" stroke="#262626" stroke-width="0.9" />
<text x="332.00" y="378.20" font-size="6.2" text-anchor="end" font-weight="normal" fill="#222" >0</text>
<line x1="335.00" y1="361.82" x2="337.60" y2="361.82" stroke="#262626" stroke-width="0.9" />
<text x="332.00" y="364.02" font-size="6.2" text-anchor="end" font-weight="normal" fill="#222" >3000</text>
<line x1="335.00" y1="347.65" x2="337.60" y2="347.65" stroke="#262626" stroke-width="0.9" />
<text x="332.00" y="349.85" font-size="6.2" text-anchor="end" font-weight="normal" fill="#222" >6000</text>
<line x1="335.00" y1="333.48" x2="337.60" y2="333.48" stroke="#262626" stroke-width="0.9" />
<text x="332.00" y="335.68" font-size="6.2" text-anchor="end" font-weight="normal" fill="#222" >9000</text>
<line x1="335.00" y1="319.30" x2="337.60" y2="319.30" stroke="#262626" stroke-width="0.9" />
<text x="332.00" y="321.50" font-size="6.2" text-anchor="end" font-weight="normal" fill="#222" >12000</text>
<line x1="19.20" y1="185.30" x2="19.20" y2="337.00" stroke="#222" stroke-width="1.0" />
<path d="M17.25 186.10 L19.20 181.80 L21.15 186.10 Z" fill="#222"/>
<text x="21.80" y="370.40" font-size="7.2" text-anchor="start" font-weight="bold" fill="#1a1a1a" textLength="30.1" lengthAdjust="spacingAndGlyphs" transform="rotate(-90 21.80 370.40)" >CTLA-4 MFI</text>
<line x1="89.00" y1="185.30" x2="89.00" y2="337.00" stroke="#222" stroke-width="1.0" />
<path d="M87.05 186.10 L89.00 181.80 L90.95 186.10 Z" fill="#222"/>
<text x="91.60" y="365.90" font-size="7.2" text-anchor="start" font-weight="bold" fill="#1a1a1a" textLength="25.6" lengthAdjust="spacingAndGlyphs" transform="rotate(-90 91.60 365.90)" >CD71 MFI</text>
<line x1="163.10" y1="185.30" x2="163.10" y2="337.00" stroke="#222" stroke-width="1.0" />
<path d="M161.15 186.10 L163.10 181.80 L165.05 186.10 Z" fill="#222"/>
<text x="165.70" y="367.30" font-size="7.2" text-anchor="start" font-weight="bold" fill="#1a1a1a" textLength="27.0" lengthAdjust="spacingAndGlyphs" transform="rotate(-90 165.70 367.30)" >4-1BB MFI</text>
<line x1="233.10" y1="185.30" x2="233.10" y2="337.00" stroke="#222" stroke-width="1.0" />
<path d="M231.15 186.10 L233.10 181.80 L235.05 186.10 Z" fill="#222"/>
<text x="235.70" y="365.90" font-size="7.2" text-anchor="start" font-weight="bold" fill="#1a1a1a" textLength="25.6" lengthAdjust="spacingAndGlyphs" transform="rotate(-90 235.70 365.90)" >CD69 MFI</text>
<line x1="307.50" y1="185.30" x2="307.50" y2="337.00" stroke="#222" stroke-width="1.0" />
<path d="M305.55 186.10 L307.50 181.80 L309.45 186.10 Z" fill="#222"/>
<text x="310.10" y="365.90" font-size="7.2" text-anchor="start" font-weight="bold" fill="#1a1a1a" textLength="25.6" lengthAdjust="spacingAndGlyphs" transform="rotate(-90 310.10 365.90)" >CD95 MFI</text>
<text x="12.00" y="193.00" font-size="6.3" text-anchor="middle" font-weight="normal" fill="#333" transform="rotate(-90 12.00 193.00)" >CD3</text>
<text x="12.00" y="269.60" font-size="6.3" text-anchor="middle" font-weight="normal" fill="#333" transform="rotate(-90 12.00 269.60)" >CD4</text>
<text x="11.60" y="345.20" font-size="6.3" text-anchor="middle" font-weight="normal" fill="#333" transform="rotate(-90 11.60 345.20)" >CD8</text>
<line x1="55.70" y1="174.60" x2="72.20" y2="174.60" stroke="#4a4a4a" stroke-width="0.9" />
<text x="63.95" y="174.70" font-size="5.0" text-anchor="middle" font-weight="normal" fill="#222" >*</text>
<line x1="56.30" y1="198.50" x2="72.00" y2="182.30" stroke="#151515" stroke-width="1.05"/><line x1="56.30" y1="204.60" x2="72.00" y2="189.00" stroke="#151515" stroke-width="1.05"/><line x1="56.30" y1="204.60" x2="72.00" y2="195.00" stroke="#151515" stroke-width="1.05"/><line x1="56.30" y1="204.00" x2="72.00" y2="199.50" stroke="#151515" stroke-width="1.05"/><circle cx="56.30" cy="198.50" r="1.7" fill="#eaa12e"/><circle cx="56.30" cy="204.60" r="1.7" fill="#eaa12e"/><circle cx="56.30" cy="204.60" r="1.7" fill="#eaa12e"/><circle cx="56.30" cy="204.00" r="1.7" fill="#eaa12e"/><rect x="70.35" y="180.65" width="3.3" height="3.3" fill="#17614a"/><rect x="70.35" y="187.35" width="3.3" height="3.3" fill="#17614a"/><rect x="70.35" y="193.35" width="3.3" height="3.3" fill="#17614a"/><rect x="70.35" y="197.85" width="3.3" height="3.3" fill="#17614a"/>
<line x1="130.30" y1="182.50" x2="146.80" y2="182.50" stroke="#4a4a4a" stroke-width="0.9" />
<text x="138.55" y="182.60" font-size="5.0" text-anchor="middle" font-weight="normal" fill="#222" >*</text>
<line x1="130.90" y1="186.50" x2="146.60" y2="198.10" stroke="#151515" stroke-width="1.05"/><line x1="130.90" y1="188.90" x2="146.60" y2="200.40" stroke="#151515" stroke-width="1.05"/><line x1="130.90" y1="194.20" x2="146.60" y2="205.00" stroke="#151515" stroke-width="1.05"/><line x1="130.90" y1="196.50" x2="146.60" y2="207.80" stroke="#151515" stroke-width="1.05"/><circle cx="130.90" cy="186.50" r="1.7" fill="#eaa12e"/><circle cx="130.90" cy="188.90" r="1.7" fill="#eaa12e"/><circle cx="130.90" cy="194.20" r="1.7" fill="#eaa12e"/><circle cx="130.90" cy="196.50" r="1.7" fill="#eaa12e"/><rect x="144.95" y="196.45" width="3.3" height="3.3" fill="#17614a"/><rect x="144.95" y="198.75" width="3.3" height="3.3" fill="#17614a"/><rect x="144.95" y="203.35" width="3.3" height="3.3" fill="#17614a"/><rect x="144.95" y="206.15" width="3.3" height="3.3" fill="#17614a"/>
<line x1="200.50" y1="178.30" x2="217.00" y2="178.30" stroke="#4a4a4a" stroke-width="0.9" />
<text x="208.75" y="178.40" font-size="5.0" text-anchor="middle" font-weight="normal" fill="#222" >*</text>
<line x1="201.10" y1="201.60" x2="216.80" y2="195.50" stroke="#151515" stroke-width="1.05"/><line x1="201.10" y1="206.00" x2="216.80" y2="201.60" stroke="#151515" stroke-width="1.05"/><line x1="201.10" y1="206.00" x2="216.80" y2="202.70" stroke="#151515" stroke-width="1.05"/><circle cx="201.10" cy="201.60" r="1.7" fill="#eaa12e"/><circle cx="201.10" cy="206.00" r="1.7" fill="#eaa12e"/><circle cx="201.10" cy="206.00" r="1.7" fill="#eaa12e"/><rect x="215.15" y="193.85" width="3.3" height="3.3" fill="#17614a"/><rect x="215.15" y="199.95" width="3.3" height="3.3" fill="#17614a"/><rect x="215.15" y="201.05" width="3.3" height="3.3" fill="#17614a"/>
<line x1="274.60" y1="169.40" x2="291.10" y2="169.40" stroke="#4a4a4a" stroke-width="0.9" />
<text x="282.85" y="169.50" font-size="5.0" text-anchor="middle" font-weight="normal" fill="#222" >*</text>
<line x1="275.20" y1="190.70" x2="290.90" y2="174.90" stroke="#151515" stroke-width="1.05"/><line x1="275.20" y1="198.30" x2="290.90" y2="185.40" stroke="#151515" stroke-width="1.05"/><line x1="275.20" y1="192.20" x2="290.90" y2="186.50" stroke="#151515" stroke-width="1.05"/><circle cx="275.20" cy="190.70" r="1.7" fill="#eaa12e"/><circle cx="275.20" cy="198.30" r="1.7" fill="#eaa12e"/><circle cx="275.20" cy="192.20" r="1.7" fill="#eaa12e"/><rect x="289.25" y="173.25" width="3.3" height="3.3" fill="#17614a"/><rect x="289.25" y="183.75" width="3.3" height="3.3" fill="#17614a"/><rect x="289.25" y="184.85" width="3.3" height="3.3" fill="#17614a"/>
<line x1="347.90" y1="178.30" x2="364.40" y2="178.30" stroke="#4a4a4a" stroke-width="0.9" />
<text x="356.15" y="178.40" font-size="5.0" text-anchor="middle" font-weight="normal" fill="#222" >*</text>
<line x1="348.50" y1="206.30" x2="364.20" y2="190.70" stroke="#151515" stroke-width="1.05"/><line x1="348.50" y1="206.30" x2="364.20" y2="193.60" stroke="#151515" stroke-width="1.05"/><line x1="348.50" y1="206.30" x2="364.20" y2="197.40" stroke="#151515" stroke-width="1.05"/><circle cx="348.50" cy="206.30" r="1.7" fill="#eaa12e"/><circle cx="348.50" cy="206.30" r="1.7" fill="#eaa12e"/><circle cx="348.50" cy="206.30" r="1.7" fill="#eaa12e"/><rect x="362.55" y="189.05" width="3.3" height="3.3" fill="#17614a"/><rect x="362.55" y="191.95" width="3.3" height="3.3" fill="#17614a"/><rect x="362.55" y="195.75" width="3.3" height="3.3" fill="#17614a"/>
<line x1="55.70" y1="245.90" x2="72.20" y2="245.90" stroke="#4a4a4a" stroke-width="0.9" />
<text x="63.95" y="246.00" font-size="5.0" text-anchor="middle" font-weight="normal" fill="#222" >*</text>
<line x1="56.30" y1="266.30" x2="72.00" y2="249.90" stroke="#151515" stroke-width="1.05"/><line x1="56.30" y1="268.90" x2="72.00" y2="260.80" stroke="#151515" stroke-width="1.05"/><line x1="56.30" y1="271.00" x2="72.00" y2="260.80" stroke="#151515" stroke-width="1.05"/><line x1="56.30" y1="274.10" x2="72.00" y2="261.20" stroke="#151515" stroke-width="1.05"/><circle cx="56.30" cy="266.30" r="1.7" fill="#eaa12e"/><circle cx="56.30" cy="268.90" r="1.7" fill="#eaa12e"/><circle cx="56.30" cy="271.00" r="1.7" fill="#eaa12e"/><circle cx="56.30" cy="274.10" r="1.7" fill="#eaa12e"/><rect x="70.35" y="248.25" width="3.3" height="3.3" fill="#17614a"/><rect x="70.35" y="259.15" width="3.3" height="3.3" fill="#17614a"/><rect x="70.35" y="259.15" width="3.3" height="3.3" fill="#17614a"/><rect x="70.35" y="259.55" width="3.3" height="3.3" fill="#17614a"/>
<line x1="130.30" y1="267.00" x2="146.80" y2="267.00" stroke="#4a4a4a" stroke-width="0.9" />
<text x="138.55" y="267.10" font-size="5.0" text-anchor="middle" font-weight="normal" fill="#222" >*</text>
<line x1="130.90" y1="272.30" x2="146.60" y2="279.70" stroke="#151515" stroke-width="1.05"/><line x1="130.90" y1="278.50" x2="146.60" y2="285.90" stroke="#151515" stroke-width="1.05"/><circle cx="130.90" cy="272.30" r="1.7" fill="#eaa12e"/><circle cx="130.90" cy="278.50" r="1.7" fill="#eaa12e"/><rect x="144.95" y="278.05" width="3.3" height="3.3" fill="#17614a"/><rect x="144.95" y="284.25" width="3.3" height="3.3" fill="#17614a"/>
<line x1="200.50" y1="256.40" x2="217.00" y2="256.40" stroke="#4a4a4a" stroke-width="0.9" />
<text x="208.75" y="256.50" font-size="5.0" text-anchor="middle" font-weight="normal" fill="#222" >*</text>
<line x1="201.10" y1="288.40" x2="216.80" y2="282.20" stroke="#151515" stroke-width="1.05"/><line x1="201.10" y1="288.40" x2="216.80" y2="283.80" stroke="#151515" stroke-width="1.05"/><line x1="201.10" y1="288.40" x2="216.80" y2="285.30" stroke="#151515" stroke-width="1.05"/><circle cx="201.10" cy="288.40" r="1.7" fill="#eaa12e"/><circle cx="201.10" cy="288.40" r="1.7" fill="#eaa12e"/><circle cx="201.10" cy="288.40" r="1.7" fill="#eaa12e"/><rect x="215.15" y="280.55" width="3.3" height="3.3" fill="#17614a"/><rect x="215.15" y="282.15" width="3.3" height="3.3" fill="#17614a"/><rect x="215.15" y="283.65" width="3.3" height="3.3" fill="#17614a"/>
<line x1="274.60" y1="243.00" x2="291.10" y2="243.00" stroke="#4a4a4a" stroke-width="0.9" />
<text x="282.85" y="243.10" font-size="5.0" text-anchor="middle" font-weight="normal" fill="#222" >*</text>
<line x1="275.20" y1="267.20" x2="290.90" y2="250.50" stroke="#151515" stroke-width="1.05"/><line x1="275.20" y1="263.30" x2="290.90" y2="262.90" stroke="#151515" stroke-width="1.05"/><line x1="275.20" y1="273.40" x2="290.90" y2="253.30" stroke="#151515" stroke-width="1.05"/><line x1="275.20" y1="271.40" x2="290.90" y2="261.60" stroke="#151515" stroke-width="1.05"/><circle cx="275.20" cy="267.20" r="1.7" fill="#eaa12e"/><circle cx="275.20" cy="263.30" r="1.7" fill="#eaa12e"/><circle cx="275.20" cy="273.40" r="1.7" fill="#eaa12e"/><circle cx="275.20" cy="271.40" r="1.7" fill="#eaa12e"/><rect x="289.25" y="248.85" width="3.3" height="3.3" fill="#17614a"/><rect x="289.25" y="261.25" width="3.3" height="3.3" fill="#17614a"/><rect x="289.25" y="251.65" width="3.3" height="3.3" fill="#17614a"/><rect x="289.25" y="259.95" width="3.3" height="3.3" fill="#17614a"/>
<line x1="347.90" y1="256.40" x2="364.40" y2="256.40" stroke="#4a4a4a" stroke-width="0.9" />
<text x="356.15" y="256.50" font-size="5.0" text-anchor="middle" font-weight="normal" fill="#222" >*</text>
<line x1="348.50" y1="283.80" x2="364.20" y2="265.20" stroke="#151515" stroke-width="1.05"/><line x1="348.50" y1="283.80" x2="364.20" y2="267.50" stroke="#151515" stroke-width="1.05"/><line x1="348.50" y1="283.80" x2="364.20" y2="271.40" stroke="#151515" stroke-width="1.05"/><line x1="348.50" y1="283.80" x2="364.20" y2="274.50" stroke="#151515" stroke-width="1.05"/><circle cx="348.50" cy="283.80" r="1.7" fill="#eaa12e"/><circle cx="348.50" cy="283.80" r="1.7" fill="#eaa12e"/><circle cx="348.50" cy="283.80" r="1.7" fill="#eaa12e"/><circle cx="348.50" cy="283.80" r="1.7" fill="#eaa12e"/><rect x="362.55" y="263.55" width="3.3" height="3.3" fill="#17614a"/><rect x="362.55" y="265.85" width="3.3" height="3.3" fill="#17614a"/><rect x="362.55" y="269.75" width="3.3" height="3.3" fill="#17614a"/><rect x="362.55" y="272.85" width="3.3" height="3.3" fill="#17614a"/>
<line x1="55.70" y1="345.00" x2="72.20" y2="345.00" stroke="#4a4a4a" stroke-width="0.9" />
<text x="63.95" y="345.10" font-size="5.0" text-anchor="middle" font-weight="normal" fill="#222" >*</text>
<line x1="56.30" y1="366.70" x2="72.00" y2="353.30" stroke="#151515" stroke-width="1.05"/><line x1="56.30" y1="366.70" x2="72.00" y2="362.50" stroke="#151515" stroke-width="1.05"/><line x1="56.30" y1="373.30" x2="72.00" y2="363.80" stroke="#151515" stroke-width="1.05"/><circle cx="56.30" cy="366.70" r="1.7" fill="#eaa12e"/><circle cx="56.30" cy="366.70" r="1.7" fill="#eaa12e"/><circle cx="56.30" cy="373.30" r="1.7" fill="#eaa12e"/><rect x="70.35" y="351.65" width="3.3" height="3.3" fill="#17614a"/><rect x="70.35" y="360.85" width="3.3" height="3.3" fill="#17614a"/><rect x="70.35" y="362.15" width="3.3" height="3.3" fill="#17614a"/>
<line x1="130.30" y1="323.80" x2="146.80" y2="323.80" stroke="#4a4a4a" stroke-width="0.9" />
<text x="138.55" y="323.90" font-size="5.0" text-anchor="middle" font-weight="normal" fill="#222" >*</text>
<line x1="130.90" y1="330.50" x2="146.60" y2="342.30" stroke="#151515" stroke-width="1.05"/><line x1="130.90" y1="336.20" x2="146.60" y2="347.60" stroke="#151515" stroke-width="1.05"/><line x1="130.90" y1="336.20" x2="146.60" y2="350.50" stroke="#151515" stroke-width="1.05"/><line x1="130.90" y1="341.90" x2="146.60" y2="353.00" stroke="#151515" stroke-width="1.05"/><circle cx="130.90" cy="330.50" r="1.7" fill="#eaa12e"/><circle cx="130.90" cy="336.20" r="1.7" fill="#eaa12e"/><circle cx="130.90" cy="336.20" r="1.7" fill="#eaa12e"/><circle cx="130.90" cy="341.90" r="1.7" fill="#eaa12e"/><rect x="144.95" y="340.65" width="3.3" height="3.3" fill="#17614a"/><rect x="144.95" y="345.95" width="3.3" height="3.3" fill="#17614a"/><rect x="144.95" y="348.85" width="3.3" height="3.3" fill="#17614a"/><rect x="144.95" y="351.35" width="3.3" height="3.3" fill="#17614a"/>
<line x1="200.50" y1="316.30" x2="217.00" y2="316.30" stroke="#4a4a4a" stroke-width="0.9" />
<text x="208.75" y="316.40" font-size="5.0" text-anchor="middle" font-weight="normal" fill="#222" >*</text>
<line x1="201.10" y1="336.70" x2="216.80" y2="322.00" stroke="#151515" stroke-width="1.05"/><line x1="201.10" y1="345.30" x2="216.80" y2="334.70" stroke="#151515" stroke-width="1.05"/><line x1="201.10" y1="347.00" x2="216.80" y2="337.50" stroke="#151515" stroke-width="1.05"/><line x1="201.10" y1="348.00" x2="216.80" y2="340.00" stroke="#151515" stroke-width="1.05"/><circle cx="201.10" cy="336.70" r="1.7" fill="#eaa12e"/><circle cx="201.10" cy="345.30" r="1.7" fill="#eaa12e"/><circle cx="201.10" cy="347.00" r="1.7" fill="#eaa12e"/><circle cx="201.10" cy="348.00" r="1.7" fill="#eaa12e"/><rect x="215.15" y="320.35" width="3.3" height="3.3" fill="#17614a"/><rect x="215.15" y="333.05" width="3.3" height="3.3" fill="#17614a"/><rect x="215.15" y="335.85" width="3.3" height="3.3" fill="#17614a"/><rect x="215.15" y="338.35" width="3.3" height="3.3" fill="#17614a"/>
<line x1="274.60" y1="316.70" x2="291.10" y2="316.70" stroke="#4a4a4a" stroke-width="0.9" />
<text x="282.85" y="316.80" font-size="5.0" text-anchor="middle" font-weight="normal" fill="#222" >*</text>
<line x1="275.20" y1="346.30" x2="290.90" y2="326.70" stroke="#151515" stroke-width="1.05"/><line x1="275.20" y1="353.70" x2="290.90" y2="330.00" stroke="#151515" stroke-width="1.05"/><line x1="275.20" y1="348.00" x2="290.90" y2="339.70" stroke="#151515" stroke-width="1.05"/><line x1="275.20" y1="346.30" x2="290.90" y2="340.30" stroke="#151515" stroke-width="1.05"/><circle cx="275.20" cy="346.30" r="1.7" fill="#eaa12e"/><circle cx="275.20" cy="353.70" r="1.7" fill="#eaa12e"/><circle cx="275.20" cy="348.00" r="1.7" fill="#eaa12e"/><circle cx="275.20" cy="346.30" r="1.7" fill="#eaa12e"/><rect x="289.25" y="325.05" width="3.3" height="3.3" fill="#17614a"/><rect x="289.25" y="328.35" width="3.3" height="3.3" fill="#17614a"/><rect x="289.25" y="338.05" width="3.3" height="3.3" fill="#17614a"/><rect x="289.25" y="338.65" width="3.3" height="3.3" fill="#17614a"/>
<line x1="347.90" y1="337.00" x2="364.40" y2="337.00" stroke="#4a4a4a" stroke-width="0.9" />
<text x="356.15" y="337.10" font-size="5.0" text-anchor="middle" font-weight="normal" fill="#222" >*</text>
<line x1="348.50" y1="358.30" x2="364.20" y2="345.80" stroke="#151515" stroke-width="1.05"/><line x1="348.50" y1="360.00" x2="364.20" y2="351.30" stroke="#151515" stroke-width="1.05"/><line x1="348.50" y1="359.00" x2="364.20" y2="353.70" stroke="#151515" stroke-width="1.05"/><circle cx="348.50" cy="358.30" r="1.7" fill="#eaa12e"/><circle cx="348.50" cy="360.00" r="1.7" fill="#eaa12e"/><circle cx="348.50" cy="359.00" r="1.7" fill="#eaa12e"/><rect x="362.55" y="344.15" width="3.3" height="3.3" fill="#17614a"/><rect x="362.55" y="349.65" width="3.3" height="3.3" fill="#17614a"/><rect x="362.55" y="352.05" width="3.3" height="3.3" fill="#17614a"/>
<text x="443.60" y="117.80" font-size="7.5" text-anchor="middle" font-weight="normal" fill="#222" >CD4</text>
<text x="495.20" y="117.80" font-size="7.5" text-anchor="middle" font-weight="normal" fill="#222" >CD8</text>
<text x="389.80" y="129.20" font-size="6.0" text-anchor="start" font-weight="normal" fill="#333" >CCR7<tspan dy="-2.3" font-size="4">+</tspan><tspan dy="2.3"> CD45RA</tspan><tspan dy="-2.3" font-size="4">+</tspan></text>
<line x1="425.00" y1="133.40" x2="425.00" y2="188.50" stroke="#262626" stroke-width="1.1" />
<line x1="424.50" y1="188.00" x2="463.30" y2="188.00" stroke="#262626" stroke-width="1.1" />
<line x1="422.40" y1="188.00" x2="425.00" y2="188.00" stroke="#262626" stroke-width="0.9" />
<text x="419.40" y="190.20" font-size="6.0" text-anchor="end" font-weight="normal" fill="#222" >0</text>
<line x1="422.40" y1="175.05" x2="425.00" y2="175.05" stroke="#262626" stroke-width="0.9" />
<text x="419.40" y="177.25" font-size="6.0" text-anchor="end" font-weight="normal" fill="#222" >3000</text>
<line x1="422.40" y1="162.10" x2="425.00" y2="162.10" stroke="#262626" stroke-width="0.9" />
<text x="419.40" y="164.30" font-size="6.0" text-anchor="end" font-weight="normal" fill="#222" >6000</text>
<line x1="422.40" y1="149.15" x2="425.00" y2="149.15" stroke="#262626" stroke-width="0.9" />
<text x="419.40" y="151.35" font-size="6.0" text-anchor="end" font-weight="normal" fill="#222" >9000</text>
<line x1="422.40" y1="136.20" x2="425.00" y2="136.20" stroke="#262626" stroke-width="0.9" />
<text x="419.40" y="138.40" font-size="6.0" text-anchor="end" font-weight="normal" fill="#222" >12000</text>
<line x1="476.80" y1="133.40" x2="476.80" y2="188.50" stroke="#262626" stroke-width="1.1" />
<line x1="476.30" y1="188.00" x2="514.10" y2="188.00" stroke="#262626" stroke-width="1.1" />
<line x1="474.20" y1="188.00" x2="476.80" y2="188.00" stroke="#262626" stroke-width="0.9" />
<line x1="474.20" y1="175.05" x2="476.80" y2="175.05" stroke="#262626" stroke-width="0.9" />
<line x1="474.20" y1="162.10" x2="476.80" y2="162.10" stroke="#262626" stroke-width="0.9" />
<line x1="474.20" y1="149.15" x2="476.80" y2="149.15" stroke="#262626" stroke-width="0.9" />
<line x1="474.20" y1="136.20" x2="476.80" y2="136.20" stroke="#262626" stroke-width="0.9" />
<line x1="397.70" y1="141.80" x2="397.70" y2="158.00" stroke="#222" stroke-width="1.0" />
<path d="M395.75 142.60 L397.70 138.30 L399.65 142.60 Z" fill="#222"/>
<text x="400.10" y="185.50" font-size="7.2" text-anchor="start" font-weight="bold" fill="#1a1a1a" textLength="24.9" lengthAdjust="spacingAndGlyphs" transform="rotate(-90 400.10 185.50)" >CD95 MFI</text>
<line x1="435.20" y1="143.10" x2="450.60" y2="143.10" stroke="#4a4a4a" stroke-width="0.9" />
<text x="442.90" y="143.20" font-size="5.0" text-anchor="middle" font-weight="normal" fill="#222" >*</text>
<line x1="485.60" y1="149.20" x2="501.00" y2="149.20" stroke="#4a4a4a" stroke-width="0.9" />
<text x="493.30" y="149.30" font-size="5.0" text-anchor="middle" font-weight="normal" fill="#222" >*</text>
<line x1="435.40" y1="153.50" x2="450.30" y2="152.70" stroke="#151515" stroke-width="1.05"/><line x1="435.40" y1="157.30" x2="450.30" y2="150.80" stroke="#151515" stroke-width="1.05"/><line x1="435.40" y1="159.80" x2="450.30" y2="157.90" stroke="#151515" stroke-width="1.05"/><line x1="435.40" y1="163.00" x2="450.30" y2="156.00" stroke="#151515" stroke-width="1.05"/><circle cx="435.40" cy="153.50" r="1.7" fill="#eaa12e"/><circle cx="435.40" cy="157.30" r="1.7" fill="#eaa12e"/><circle cx="435.40" cy="159.80" r="1.7" fill="#eaa12e"/><circle cx="435.40" cy="163.00" r="1.7" fill="#eaa12e"/><rect x="448.65" y="151.05" width="3.3" height="3.3" fill="#17614a"/><rect x="448.65" y="149.15" width="3.3" height="3.3" fill="#17614a"/><rect x="448.65" y="156.25" width="3.3" height="3.3" fill="#17614a"/><rect x="448.65" y="154.35" width="3.3" height="3.3" fill="#17614a"/>
<line x1="486.40" y1="169.40" x2="501.20" y2="159.20" stroke="#151515" stroke-width="1.05"/><line x1="486.40" y1="170.80" x2="501.20" y2="161.20" stroke="#151515" stroke-width="1.05"/><line x1="486.40" y1="171.90" x2="501.20" y2="163.00" stroke="#151515" stroke-width="1.05"/><line x1="486.40" y1="171.00" x2="501.20" y2="165.20" stroke="#151515" stroke-width="1.05"/><circle cx="486.40" cy="169.40" r="1.7" fill="#eaa12e"/><circle cx="486.40" cy="170.80" r="1.7" fill="#eaa12e"/><circle cx="486.40" cy="171.90" r="1.7" fill="#eaa12e"/><circle cx="486.40" cy="171.00" r="1.7" fill="#eaa12e"/><rect x="499.55" y="157.55" width="3.3" height="3.3" fill="#17614a"/><rect x="499.55" y="159.55" width="3.3" height="3.3" fill="#17614a"/><rect x="499.55" y="161.35" width="3.3" height="3.3" fill="#17614a"/><rect x="499.55" y="163.55" width="3.3" height="3.3" fill="#17614a"/>
<text x="389.80" y="203.20" font-size="6.0" text-anchor="start" font-weight="normal" fill="#333" >CCR7<tspan dy="-2.3" font-size="4">−</tspan><tspan dy="2.3"> CD45RA</tspan><tspan dy="-2.3" font-size="4">+</tspan></text>
<line x1="425.00" y1="207.40" x2="425.00" y2="262.50" stroke="#262626" stroke-width="1.1" />
<line x1="424.50" y1="262.00" x2="463.30" y2="262.00" stroke="#262626" stroke-width="1.1" />
<line x1="422.40" y1="262.00" x2="425.00" y2="262.00" stroke="#262626" stroke-width="0.9" />
<text x="419.40" y="264.20" font-size="6.0" text-anchor="end" font-weight="normal" fill="#222" >0</text>
<line x1="422.40" y1="249.05" x2="425.00" y2="249.05" stroke="#262626" stroke-width="0.9" />
<text x="419.40" y="251.25" font-size="6.0" text-anchor="end" font-weight="normal" fill="#222" >3000</text>
<line x1="422.40" y1="236.10" x2="425.00" y2="236.10" stroke="#262626" stroke-width="0.9" />
<text x="419.40" y="238.30" font-size="6.0" text-anchor="end" font-weight="normal" fill="#222" >6000</text>
<line x1="422.40" y1="223.15" x2="425.00" y2="223.15" stroke="#262626" stroke-width="0.9" />
<text x="419.40" y="225.35" font-size="6.0" text-anchor="end" font-weight="normal" fill="#222" >9000</text>
<line x1="422.40" y1="210.20" x2="425.00" y2="210.20" stroke="#262626" stroke-width="0.9" />
<text x="419.40" y="212.40" font-size="6.0" text-anchor="end" font-weight="normal" fill="#222" >12000</text>
<line x1="476.80" y1="207.40" x2="476.80" y2="262.50" stroke="#262626" stroke-width="1.1" />
<line x1="476.30" y1="262.00" x2="514.10" y2="262.00" stroke="#262626" stroke-width="1.1" />
<line x1="474.20" y1="262.00" x2="476.80" y2="262.00" stroke="#262626" stroke-width="0.9" />
<line x1="474.20" y1="249.05" x2="476.80" y2="249.05" stroke="#262626" stroke-width="0.9" />
<line x1="474.20" y1="236.10" x2="476.80" y2="236.10" stroke="#262626" stroke-width="0.9" />
<line x1="474.20" y1="223.15" x2="476.80" y2="223.15" stroke="#262626" stroke-width="0.9" />
<line x1="474.20" y1="210.20" x2="476.80" y2="210.20" stroke="#262626" stroke-width="0.9" />
<line x1="397.70" y1="215.80" x2="397.70" y2="232.00" stroke="#222" stroke-width="1.0" />
<path d="M395.75 216.60 L397.70 212.30 L399.65 216.60 Z" fill="#222"/>
<text x="400.10" y="259.50" font-size="7.2" text-anchor="start" font-weight="bold" fill="#1a1a1a" textLength="24.9" lengthAdjust="spacingAndGlyphs" transform="rotate(-90 400.10 259.50)" >CD95 MFI</text>
<line x1="435.20" y1="209.30" x2="450.60" y2="209.30" stroke="#4a4a4a" stroke-width="0.9" />
<text x="442.90" y="209.40" font-size="5.0" text-anchor="middle" font-weight="normal" fill="#222" >*</text>
<line x1="485.60" y1="208.20" x2="501.00" y2="208.20" stroke="#4a4a4a" stroke-width="0.9" />
<text x="493.30" y="208.30" font-size="5.0" text-anchor="middle" font-weight="normal" fill="#222" >*</text>
<line x1="435.40" y1="217.40" x2="450.30" y2="216.50" stroke="#151515" stroke-width="1.05"/><line x1="435.40" y1="218.80" x2="450.30" y2="214.90" stroke="#151515" stroke-width="1.05"/><line x1="435.40" y1="224.50" x2="450.30" y2="219.90" stroke="#151515" stroke-width="1.05"/><line x1="435.40" y1="227.60" x2="450.30" y2="221.70" stroke="#151515" stroke-width="1.05"/><circle cx="435.40" cy="217.40" r="1.7" fill="#eaa12e"/><circle cx="435.40" cy="218.80" r="1.7" fill="#eaa12e"/><circle cx="435.40" cy="224.50" r="1.7" fill="#eaa12e"/><circle cx="435.40" cy="227.60" r="1.7" fill="#eaa12e"/><rect x="448.65" y="214.85" width="3.3" height="3.3" fill="#17614a"/><rect x="448.65" y="213.25" width="3.3" height="3.3" fill="#17614a"/><rect x="448.65" y="218.25" width="3.3" height="3.3" fill="#17614a"/><rect x="448.65" y="220.05" width="3.3" height="3.3" fill="#17614a"/>
<line x1="486.40" y1="221.30" x2="501.20" y2="211.70" stroke="#151515" stroke-width="1.05"/><line x1="486.40" y1="222.80" x2="501.20" y2="213.00" stroke="#151515" stroke-width="1.05"/><line x1="486.40" y1="224.50" x2="501.20" y2="216.50" stroke="#151515" stroke-width="1.05"/><line x1="486.40" y1="228.00" x2="501.20" y2="218.00" stroke="#151515" stroke-width="1.05"/><circle cx="486.40" cy="221.30" r="1.7" fill="#eaa12e"/><circle cx="486.40" cy="222.80" r="1.7" fill="#eaa12e"/><circle cx="486.40" cy="224.50" r="1.7" fill="#eaa12e"/><circle cx="486.40" cy="228.00" r="1.7" fill="#eaa12e"/><rect x="499.55" y="210.05" width="3.3" height="3.3" fill="#17614a"/><rect x="499.55" y="211.35" width="3.3" height="3.3" fill="#17614a"/><rect x="499.55" y="214.85" width="3.3" height="3.3" fill="#17614a"/><rect x="499.55" y="216.35" width="3.3" height="3.3" fill="#17614a"/>
<text x="389.80" y="277.20" font-size="6.0" text-anchor="start" font-weight="normal" fill="#333" >CCR7<tspan dy="-2.3" font-size="4">+</tspan><tspan dy="2.3"> CD45RA</tspan><tspan dy="-2.3" font-size="4">−</tspan></text>
<line x1="425.00" y1="281.40" x2="425.00" y2="336.50" stroke="#262626" stroke-width="1.1" />
<line x1="424.50" y1="336.00" x2="463.30" y2="336.00" stroke="#262626" stroke-width="1.1" />
<line x1="422.40" y1="336.00" x2="425.00" y2="336.00" stroke="#262626" stroke-width="0.9" />
<text x="419.40" y="338.20" font-size="6.0" text-anchor="end" font-weight="normal" fill="#222" >0</text>
<line x1="422.40" y1="323.05" x2="425.00" y2="323.05" stroke="#262626" stroke-width="0.9" />
<text x="419.40" y="325.25" font-size="6.0" text-anchor="end" font-weight="normal" fill="#222" >3000</text>
<line x1="422.40" y1="310.10" x2="425.00" y2="310.10" stroke="#262626" stroke-width="0.9" />
<text x="419.40" y="312.30" font-size="6.0" text-anchor="end" font-weight="normal" fill="#222" >6000</text>
<line x1="422.40" y1="297.15" x2="425.00" y2="297.15" stroke="#262626" stroke-width="0.9" />
<text x="419.40" y="299.35" font-size="6.0" text-anchor="end" font-weight="normal" fill="#222" >9000</text>
<line x1="422.40" y1="284.20" x2="425.00" y2="284.20" stroke="#262626" stroke-width="0.9" />
<text x="419.40" y="286.40" font-size="6.0" text-anchor="end" font-weight="normal" fill="#222" >12000</text>
<line x1="476.80" y1="281.40" x2="476.80" y2="336.50" stroke="#262626" stroke-width="1.1" />
<line x1="476.30" y1="336.00" x2="514.10" y2="336.00" stroke="#262626" stroke-width="1.1" />
<line x1="474.20" y1="336.00" x2="476.80" y2="336.00" stroke="#262626" stroke-width="0.9" />
<line x1="474.20" y1="323.05" x2="476.80" y2="323.05" stroke="#262626" stroke-width="0.9" />
<line x1="474.20" y1="310.10" x2="476.80" y2="310.10" stroke="#262626" stroke-width="0.9" />
<line x1="474.20" y1="297.15" x2="476.80" y2="297.15" stroke="#262626" stroke-width="0.9" />
<line x1="474.20" y1="284.20" x2="476.80" y2="284.20" stroke="#262626" stroke-width="0.9" />
<line x1="397.70" y1="289.80" x2="397.70" y2="306.00" stroke="#222" stroke-width="1.0" />
<path d="M395.75 290.60 L397.70 286.30 L399.65 290.60 Z" fill="#222"/>
<text x="400.10" y="333.50" font-size="7.2" text-anchor="start" font-weight="bold" fill="#1a1a1a" textLength="24.9" lengthAdjust="spacingAndGlyphs" transform="rotate(-90 400.10 333.50)" >CD95 MFI</text>
<line x1="435.20" y1="300.50" x2="450.60" y2="300.50" stroke="#4a4a4a" stroke-width="0.9" />
<text x="442.90" y="300.60" font-size="5.0" text-anchor="middle" font-weight="normal" fill="#222" >*</text>
<line x1="485.60" y1="299.10" x2="501.00" y2="299.10" stroke="#4a4a4a" stroke-width="0.9" />
<text x="493.30" y="299.20" font-size="5.0" text-anchor="middle" font-weight="normal" fill="#222" >*</text>
<line x1="435.40" y1="320.30" x2="450.30" y2="305.80" stroke="#151515" stroke-width="1.05"/><line x1="435.40" y1="320.30" x2="450.30" y2="307.80" stroke="#151515" stroke-width="1.05"/><line x1="435.40" y1="320.30" x2="450.30" y2="310.10" stroke="#151515" stroke-width="1.05"/><line x1="435.40" y1="320.30" x2="450.30" y2="312.00" stroke="#151515" stroke-width="1.05"/><circle cx="435.40" cy="320.30" r="1.7" fill="#eaa12e"/><circle cx="435.40" cy="320.30" r="1.7" fill="#eaa12e"/><circle cx="435.40" cy="320.30" r="1.7" fill="#eaa12e"/><circle cx="435.40" cy="320.30" r="1.7" fill="#eaa12e"/><rect x="448.65" y="304.15" width="3.3" height="3.3" fill="#17614a"/><rect x="448.65" y="306.15" width="3.3" height="3.3" fill="#17614a"/><rect x="448.65" y="308.45" width="3.3" height="3.3" fill="#17614a"/><rect x="448.65" y="310.35" width="3.3" height="3.3" fill="#17614a"/>
<line x1="486.40" y1="314.50" x2="501.20" y2="304.30" stroke="#151515" stroke-width="1.05"/><line x1="486.40" y1="316.40" x2="501.20" y2="305.80" stroke="#151515" stroke-width="1.05"/><line x1="486.40" y1="317.80" x2="501.20" y2="307.40" stroke="#151515" stroke-width="1.05"/><line x1="486.40" y1="316.00" x2="501.20" y2="308.20" stroke="#151515" stroke-width="1.05"/><circle cx="486.40" cy="314.50" r="1.7" fill="#eaa12e"/><circle cx="486.40" cy="316.40" r="1.7" fill="#eaa12e"/><circle cx="486.40" cy="317.80" r="1.7" fill="#eaa12e"/><circle cx="486.40" cy="316.00" r="1.7" fill="#eaa12e"/><rect x="499.55" y="302.65" width="3.3" height="3.3" fill="#17614a"/><rect x="499.55" y="304.15" width="3.3" height="3.3" fill="#17614a"/><rect x="499.55" y="305.75" width="3.3" height="3.3" fill="#17614a"/><rect x="499.55" y="306.55" width="3.3" height="3.3" fill="#17614a"/>
<text x="389.80" y="351.20" font-size="6.0" text-anchor="start" font-weight="normal" fill="#333" >CCR7<tspan dy="-2.3" font-size="4">−</tspan><tspan dy="2.3"> CD45RA</tspan><tspan dy="-2.3" font-size="4">−</tspan></text>
<line x1="425.00" y1="355.40" x2="425.00" y2="410.50" stroke="#262626" stroke-width="1.1" />
<line x1="424.50" y1="410.00" x2="463.30" y2="410.00" stroke="#262626" stroke-width="1.1" />
<line x1="422.40" y1="410.00" x2="425.00" y2="410.00" stroke="#262626" stroke-width="0.9" />
<text x="419.40" y="412.20" font-size="6.0" text-anchor="end" font-weight="normal" fill="#222" >0</text>
<line x1="422.40" y1="397.05" x2="425.00" y2="397.05" stroke="#262626" stroke-width="0.9" />
<text x="419.40" y="399.25" font-size="6.0" text-anchor="end" font-weight="normal" fill="#222" >3000</text>
<line x1="422.40" y1="384.10" x2="425.00" y2="384.10" stroke="#262626" stroke-width="0.9" />
<text x="419.40" y="386.30" font-size="6.0" text-anchor="end" font-weight="normal" fill="#222" >6000</text>
<line x1="422.40" y1="371.15" x2="425.00" y2="371.15" stroke="#262626" stroke-width="0.9" />
<text x="419.40" y="373.35" font-size="6.0" text-anchor="end" font-weight="normal" fill="#222" >9000</text>
<line x1="422.40" y1="358.20" x2="425.00" y2="358.20" stroke="#262626" stroke-width="0.9" />
<text x="419.40" y="360.40" font-size="6.0" text-anchor="end" font-weight="normal" fill="#222" >12000</text>
<line x1="476.80" y1="355.40" x2="476.80" y2="410.50" stroke="#262626" stroke-width="1.1" />
<line x1="476.30" y1="410.00" x2="514.10" y2="410.00" stroke="#262626" stroke-width="1.1" />
<line x1="474.20" y1="410.00" x2="476.80" y2="410.00" stroke="#262626" stroke-width="0.9" />
<line x1="474.20" y1="397.05" x2="476.80" y2="397.05" stroke="#262626" stroke-width="0.9" />
<line x1="474.20" y1="384.10" x2="476.80" y2="384.10" stroke="#262626" stroke-width="0.9" />
<line x1="474.20" y1="371.15" x2="476.80" y2="371.15" stroke="#262626" stroke-width="0.9" />
<line x1="474.20" y1="358.20" x2="476.80" y2="358.20" stroke="#262626" stroke-width="0.9" />
<line x1="397.70" y1="363.80" x2="397.70" y2="380.00" stroke="#222" stroke-width="1.0" />
<path d="M395.75 364.60 L397.70 360.30 L399.65 364.60 Z" fill="#222"/>
<text x="400.10" y="407.50" font-size="7.2" text-anchor="start" font-weight="bold" fill="#1a1a1a" textLength="24.9" lengthAdjust="spacingAndGlyphs" transform="rotate(-90 400.10 407.50)" >CD95 MFI</text>
<line x1="435.20" y1="378.50" x2="450.60" y2="378.50" stroke="#4a4a4a" stroke-width="0.9" />
<text x="442.90" y="378.60" font-size="5.0" text-anchor="middle" font-weight="normal" fill="#222" >*</text>
<line x1="485.60" y1="377.90" x2="501.00" y2="377.90" stroke="#4a4a4a" stroke-width="0.9" />
<text x="493.30" y="378.00" font-size="5.0" text-anchor="middle" font-weight="normal" fill="#222" >*</text>
<line x1="435.40" y1="398.00" x2="450.30" y2="386.50" stroke="#151515" stroke-width="1.05"/><line x1="435.40" y1="398.00" x2="450.30" y2="388.50" stroke="#151515" stroke-width="1.05"/><line x1="435.40" y1="398.00" x2="450.30" y2="390.40" stroke="#151515" stroke-width="1.05"/><line x1="435.40" y1="398.00" x2="450.30" y2="393.30" stroke="#151515" stroke-width="1.05"/><circle cx="435.40" cy="398.00" r="1.7" fill="#eaa12e"/><circle cx="435.40" cy="398.00" r="1.7" fill="#eaa12e"/><circle cx="435.40" cy="398.00" r="1.7" fill="#eaa12e"/><circle cx="435.40" cy="398.00" r="1.7" fill="#eaa12e"/><rect x="448.65" y="384.85" width="3.3" height="3.3" fill="#17614a"/><rect x="448.65" y="386.85" width="3.3" height="3.3" fill="#17614a"/><rect x="448.65" y="388.75" width="3.3" height="3.3" fill="#17614a"/><rect x="448.65" y="391.65" width="3.3" height="3.3" fill="#17614a"/>
<line x1="486.40" y1="396.20" x2="501.20" y2="386.90" stroke="#151515" stroke-width="1.05"/><line x1="486.40" y1="397.10" x2="501.20" y2="388.50" stroke="#151515" stroke-width="1.05"/><line x1="486.40" y1="396.50" x2="501.20" y2="390.40" stroke="#151515" stroke-width="1.05"/><line x1="486.40" y1="396.80" x2="501.20" y2="392.70" stroke="#151515" stroke-width="1.05"/><circle cx="486.40" cy="396.20" r="1.7" fill="#eaa12e"/><circle cx="486.40" cy="397.10" r="1.7" fill="#eaa12e"/><circle cx="486.40" cy="396.50" r="1.7" fill="#eaa12e"/><circle cx="486.40" cy="396.80" r="1.7" fill="#eaa12e"/><rect x="499.55" y="385.25" width="3.3" height="3.3" fill="#17614a"/><rect x="499.55" y="386.85" width="3.3" height="3.3" fill="#17614a"/><rect x="499.55" y="388.75" width="3.3" height="3.3" fill="#17614a"/><rect x="499.55" y="391.05" width="3.3" height="3.3" fill="#17614a"/>
<rect x="0.5" y="0.5" width="519" height="419" fill="none" stroke="#606060" stroke-width="1"/></svg></body></html>
